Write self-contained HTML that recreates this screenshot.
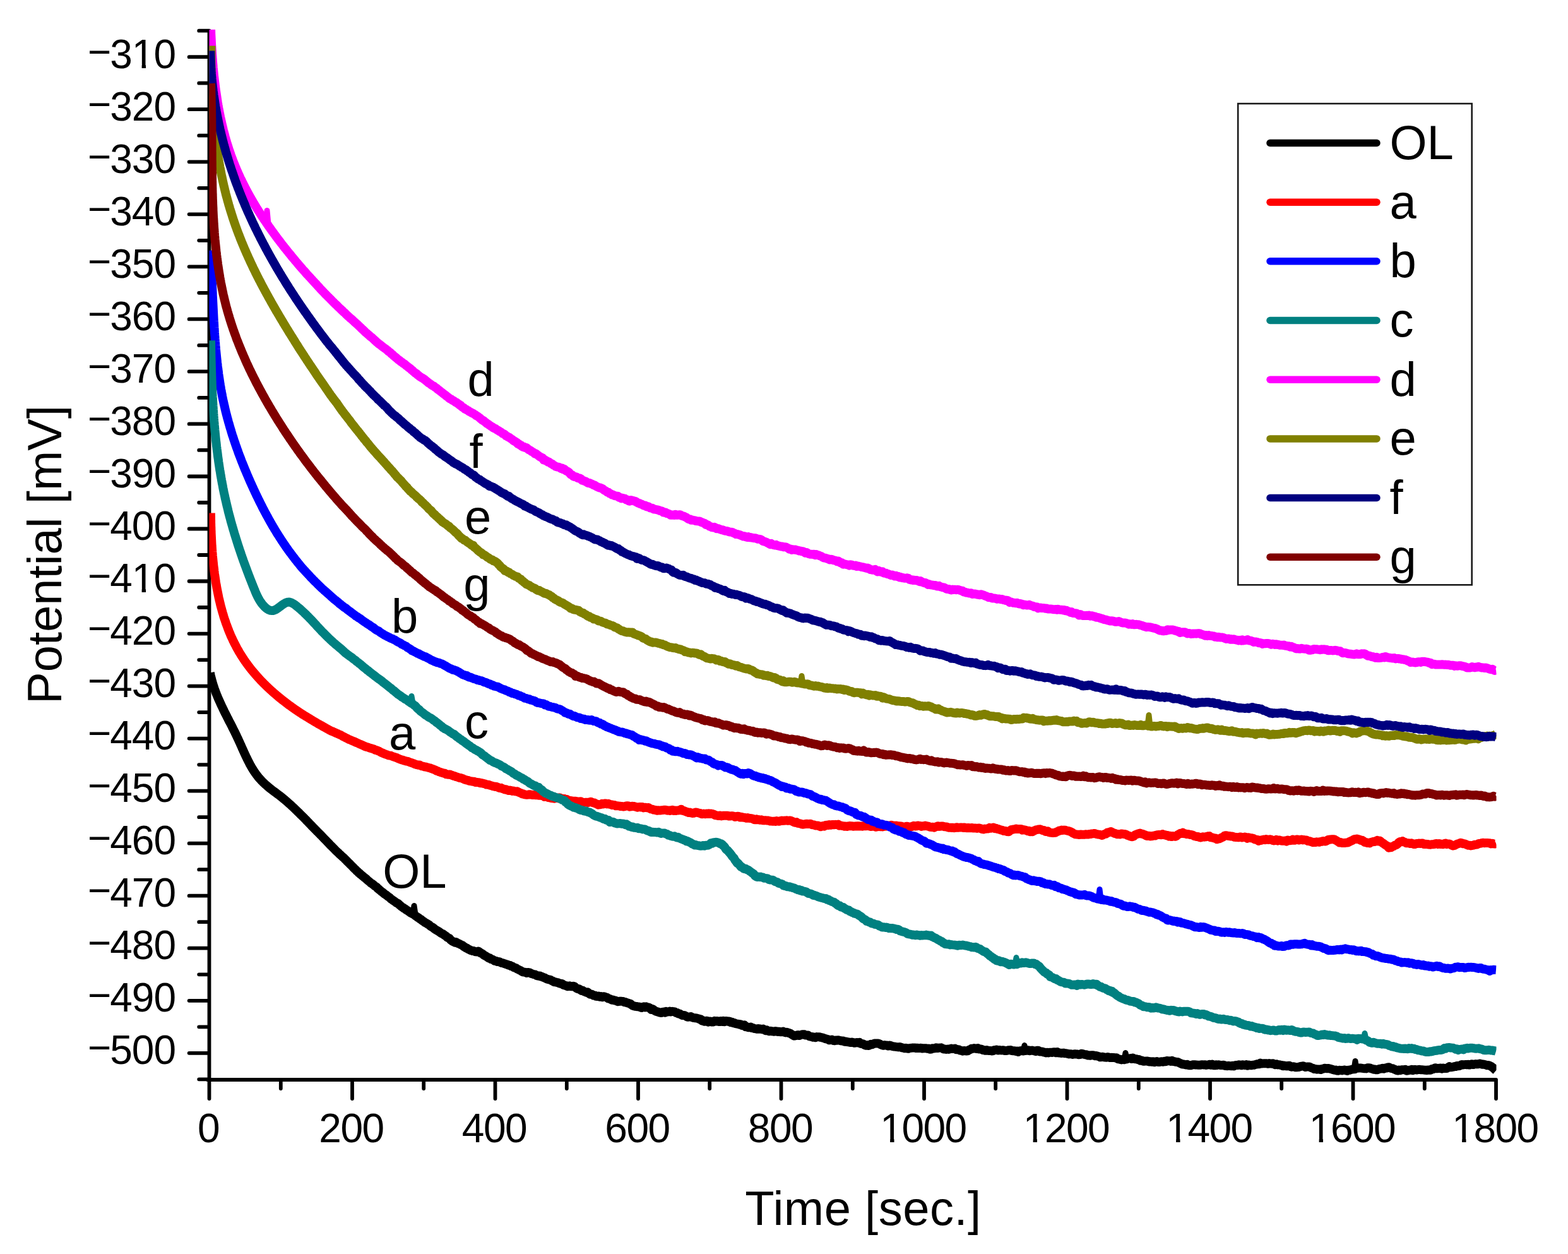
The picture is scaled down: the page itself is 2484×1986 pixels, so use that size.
<!DOCTYPE html>
<html><head><meta charset="utf-8"><title>Potential vs Time</title>
<style>html,body{margin:0;padding:0;background:#fff;width:2484px;height:1986px;overflow:hidden;position:relative}</style>
</head><body>
<svg xmlns="http://www.w3.org/2000/svg" width="2484" height="1986" viewBox="0 0 2484 1986" style="position:absolute;left:0;top:0">
<rect width="100%" height="100%" fill="#fff"/>
<defs><clipPath id="pa"><rect x="331.5" y="46.8" width="2039.0" height="1663.2"/></clipPath></defs>
<path d="M331.5 48.7 L331.5 1710.0 M328.6 1710.0 L2370.0 1710.0 M299.6 90.2 L331.5 90.2 M299.6 173.2 L331.5 173.2 M299.6 256.3 L331.5 256.3 M299.6 339.3 L331.5 339.3 M299.6 422.3 L331.5 422.3 M299.6 505.4 L331.5 505.4 M299.6 588.4 L331.5 588.4 M299.6 671.4 L331.5 671.4 M299.6 754.5 L331.5 754.5 M299.6 837.5 L331.5 837.5 M299.6 920.5 L331.5 920.5 M299.6 1003.6 L331.5 1003.6 M299.6 1086.6 L331.5 1086.6 M299.6 1169.6 L331.5 1169.6 M299.6 1252.6 L331.5 1252.6 M299.6 1335.7 L331.5 1335.7 M299.6 1418.7 L331.5 1418.7 M299.6 1501.7 L331.5 1501.7 M299.6 1584.8 L331.5 1584.8 M299.6 1667.8 L331.5 1667.8 M315.2 48.7 L331.5 48.7 M315.2 131.7 L331.5 131.7 M315.2 214.7 L331.5 214.7 M315.2 297.8 L331.5 297.8 M315.2 380.8 L331.5 380.8 M315.2 463.8 L331.5 463.8 M315.2 546.9 L331.5 546.9 M315.2 629.9 L331.5 629.9 M315.2 712.9 L331.5 712.9 M315.2 796.0 L331.5 796.0 M315.2 879.0 L331.5 879.0 M315.2 962.0 L331.5 962.0 M315.2 1045.1 L331.5 1045.1 M315.2 1128.1 L331.5 1128.1 M315.2 1211.1 L331.5 1211.1 M315.2 1294.2 L331.5 1294.2 M315.2 1377.2 L331.5 1377.2 M315.2 1460.2 L331.5 1460.2 M315.2 1543.3 L331.5 1543.3 M315.2 1626.3 L331.5 1626.3 M315.2 1709.3 L331.5 1709.3 M331.5 1710.0 L331.5 1740.0 M558.0 1710.0 L558.0 1740.0 M784.5 1710.0 L784.5 1740.0 M1011.0 1710.0 L1011.0 1740.0 M1237.5 1710.0 L1237.5 1740.0 M1464.0 1710.0 L1464.0 1740.0 M1690.5 1710.0 L1690.5 1740.0 M1917.0 1710.0 L1917.0 1740.0 M2143.5 1710.0 L2143.5 1740.0 M2370.0 1710.0 L2370.0 1740.0 M444.8 1710.0 L444.8 1724.0 M671.2 1710.0 L671.2 1724.0 M897.8 1710.0 L897.8 1724.0 M1124.2 1710.0 L1124.2 1724.0 M1350.8 1710.0 L1350.8 1724.0 M1577.2 1710.0 L1577.2 1724.0 M1803.8 1710.0 L1803.8 1724.0 M2030.2 1710.0 L2030.2 1724.0 M2256.8 1710.0 L2256.8 1724.0" fill="none" stroke="#000" stroke-width="5.8" stroke-linecap="round" stroke-linejoin="round"/>
<g clip-path="url(#pa)">
<path d="M332.8 1065.4L333.2 1067.4 333.6 1069.4 334.1 1071.4 334.6 1073.4 335.1 1075.3 335.6 1077.3 336.1 1079.2 336.7 1081.2 337.3 1083.1 337.8 1085.0 338.5 1086.9 339.1 1088.8 339.7 1090.7 340.4 1092.5 341.1 1094.4 341.8 1096.3 342.5 1098.1 343.2 1100.0 344.0 1101.8 344.7 1103.6 345.5 1105.5 346.3 1107.3 347.1 1109.1 347.9 1110.9 348.7 1112.7 349.5 1114.5 350.4 1116.3 351.2 1118.1 352.1 1119.9 352.9 1121.7 353.8 1123.5 354.7 1125.3 355.5 1127.1 356.4 1128.9 357.3 1130.6 358.2 1132.4 359.1 1134.2 360.0 1136.0 360.9 1137.7 361.8 1139.5 362.7 1141.3 363.6 1143.1 364.6 1144.9 365.5 1146.6 366.4 1148.4 367.3 1150.2 368.2 1152.0 369.1 1153.8 370.0 1155.6 370.9 1157.4 371.8 1159.2 372.7 1161.0 373.6 1162.8 374.4 1164.6 375.3 1166.5 376.2 1168.3 377.0 1170.1 377.9 1172.0 378.7 1173.8 379.6 1175.7 380.4 1177.5 381.2 1179.4 382.1 1181.2 382.9 1183.1 383.7 1185.0 384.6 1186.8 385.4 1188.7 386.2 1190.5 387.1 1192.4 387.9 1194.2 388.8 1196.1 389.6 1197.9 390.5 1199.7 391.4 1201.5 392.3 1203.3 393.2 1205.1 394.1 1206.9 395.0 1208.7 395.9 1210.5 396.9 1212.2 397.9 1214.0 398.9 1215.7 399.9 1217.4 401.0 1219.1 402.0 1220.7 403.1 1222.4 404.2 1224.0 405.4 1225.6 406.5 1227.2 407.7 1228.7 408.9 1230.3 410.2 1231.8 411.5 1233.3 412.8 1234.7 414.1 1236.2 415.5 1237.6 416.9 1239.0 418.3 1240.4 419.7 1241.7 421.2 1243.0 422.7 1244.3 424.2 1245.6 425.7 1246.9 427.2 1248.2 428.8 1249.4 430.4 1250.6 431.9 1251.8 433.5 1253.0 435.2 1254.2 436.8 1255.4 438.4 1256.6 440.0 1257.8 441.6 1259.0 443.2 1260.2 444.7 1261.4 446.3 1262.6 447.8 1263.9 449.4 1265.2 450.9 1266.4 452.4 1267.7 453.9 1269.0 455.4 1270.3 456.9 1271.7 458.4 1273.0 459.9 1274.3 461.4 1275.6 462.8 1277.0 464.3 1278.4 465.7 1279.7 467.2 1281.1 468.6 1282.5 470.0 1283.9 471.5 1285.3 472.9 1286.7 474.3 1288.0 475.7 1289.5 477.1 1290.8 478.5 1292.3 480.0 1293.6 481.4 1295.0 482.8 1296.5 484.2 1297.9 485.6 1299.4 487.0 1300.9 488.4 1302.3 489.8 1303.7 491.2 1305.2 492.6 1306.6 494.0 1308.1 495.4 1309.6 496.8 1311.0 498.2 1312.4 499.6 1313.9 501.0 1315.3 502.4 1316.7 503.8 1318.1 505.2 1319.5 506.6 1320.9 508.0 1322.4 509.4 1323.7 510.8 1325.2 512.2 1326.7 513.6 1328.2 515.0 1329.6 516.4 1331.0 517.8 1332.5 519.2 1334.0 520.6 1335.4 522.0 1336.9 523.5 1338.6 524.9 1339.8 526.3 1341.2 527.7 1342.6 529.1 1344.0 530.5 1345.5 531.9 1347.0 533.4 1348.4 534.8 1349.7 536.2 1350.9 537.6 1352.5 539.1 1353.6 540.5 1355.0 541.9 1356.2 543.3 1357.6 544.8 1358.8 546.2 1360.3 547.7 1361.7 549.1 1363.1 550.5 1364.6 552.0 1366.1 553.4 1367.4 554.9 1369.0 556.3 1370.4 557.8 1371.9 559.3 1373.4 560.7 1374.9 562.2 1376.3 563.7 1377.7 565.1 1379.3 566.6 1380.4 568.1 1382.1 569.6 1383.1 571.0 1384.6 572.5 1385.7 574.0 1387.0 575.5 1388.2 577.0 1389.5 578.5 1390.6 580.0 1391.8 581.5 1393.4 583.0 1394.6 584.6 1395.9 586.1 1397.1 587.6 1398.6 589.1 1399.3 590.7 1400.6 592.2 1401.6 593.8 1403.2 595.3 1404.1 596.9 1405.1 598.4 1407.2 600.0 1408.0 601.5 1409.6 603.1 1410.9 604.7 1412.2 606.3 1413.3 607.8 1414.6 609.4 1416.0 611.0 1416.9 612.6 1418.1 614.2 1419.4 615.8 1420.5 617.4 1421.7 619.1 1423.4 620.7 1424.5 622.3 1425.7 623.9 1426.7 625.5 1427.8 627.2 1429.2 628.8 1430.2 630.4 1430.8 632.1 1432.3 633.7 1433.8 635.4 1435.3 637.0 1436.5 638.7 1437.5 640.3 1438.8 641.9 1439.6 643.6 1441.1 645.2 1441.8 646.9 1443.0 648.6 1444.2 650.2 1445.6 651.9 1446.3 653.5 1447.2 655.2 1448.1 656.8 1449.0 658.5 1450.6 660.1 1451.6 661.8 1452.9 663.5 1453.9 665.1 1455.3 666.8 1456.0 668.4 1457.6 670.1 1458.8 671.7 1459.8 673.4 1461.1 675.0 1461.8 676.7 1462.9 678.4 1464.0 680.0 1464.8 681.7 1466.7 683.3 1467.6 685.0 1468.5 686.7 1469.6 688.3 1471.1 690.0 1472.3 691.7 1473.3 693.4 1474.3 695.0 1475.2 696.7 1476.3 698.4 1477.6 700.1 1478.7 701.8 1479.1 703.5 1480.7 705.1 1481.6 706.8 1482.8 708.5 1484.5 710.2 1485.4 712.0 1486.1 713.7 1488.4 715.4 1489.7 717.1 1491.0 718.8 1491.3 720.5 1492.6 722.3 1492.1 724.0 1493.1 725.7 1494.1 727.5 1494.7 729.2 1495.7 731.0 1496.6 732.7 1497.3 734.5 1498.9 736.2 1499.9 738.0 1501.3 739.8 1501.7 741.6 1503.1 743.3 1503.8 745.1 1505.0 746.9 1505.4 748.7 1506.0 750.5 1506.1 752.3 1506.9 754.1 1507.4 755.9 1507.6 757.7 1506.6 759.5 1507.5 761.3 1509.4 763.2 1509.8 765.0 1511.1 766.8 1512.8 768.7 1513.8 770.5 1514.7 772.3 1515.9 774.2 1517.5 776.0 1517.3 777.9 1519.1 779.7 1519.4 781.6 1520.3 783.5 1521.8 785.3 1521.7 787.2 1522.9 789.1 1523.0 790.9 1523.2 792.8 1524.1 794.7 1525.1 796.6 1525.2 798.4 1526.1 800.3 1526.6 802.2 1527.3 804.1 1527.8 806.0 1528.8 807.8 1528.8 809.7 1530.1 811.6 1530.4 813.5 1531.8 815.4 1532.7 817.3 1533.1 819.2 1534.6 821.1 1535.4 823.0 1536.4 824.9 1537.2 826.8 1538.5 828.7 1539.5 830.5 1539.5 832.4 1539.9 834.3 1541.0 836.2 1539.9 838.1 1540.1 840.0 1540.8 841.9 1542.0 843.8 1542.5 845.7 1543.2 847.6 1543.5 849.5 1544.7 851.4 1545.3 853.2 1545.7 855.1 1545.4 857.0 1546.7 858.9 1547.0 860.8 1547.9 862.7 1548.4 864.6 1549.6 866.5 1550.6 868.3 1551.1 870.2 1551.4 872.1 1552.0 874.0 1553.2 875.9 1553.9 877.8 1555.2 879.7 1555.3 881.6 1555.8 883.5 1556.1 885.3 1557.0 887.2 1557.7 889.1 1557.8 891.0 1558.3 892.9 1560.1 894.8 1560.6 896.7 1561.0 898.6 1562.2 900.5 1562.0 902.4 1561.3 904.3 1562.2 906.2 1562.2 908.1 1561.7 910.0 1562.2 911.9 1564.1 913.8 1565.3 915.7 1566.2 917.6 1566.3 919.5 1567.7 921.4 1569.0 923.3 1568.8 925.2 1570.2 927.1 1570.9 929.0 1571.9 930.9 1571.2 932.9 1573.1 934.8 1574.8 936.7 1574.4 938.6 1575.3 940.5 1576.6 942.4 1576.4 944.4 1577.9 946.3 1578.1 948.2 1577.6 950.1 1578.7 952.0 1578.1 954.0 1579.3 955.9 1578.3 957.8 1578.5 959.7 1579.2 961.7 1579.9 963.6 1581.6 965.5 1581.7 967.5 1582.7 969.4 1583.8 971.3 1583.6 973.3 1584.3 975.2 1584.6 977.1 1585.6 979.1 1586.2 981.0 1585.8 983.0 1585.6 984.9 1585.8 986.8 1585.9 988.8 1587.2 990.7 1587.0 992.7 1588.0 994.6 1588.5 996.5 1589.1 998.5 1589.7 1000.4 1591.3 1002.4 1592.7 1004.3 1593.2 1006.3 1593.8 1008.2 1593.9 1010.2 1594.3 1012.1 1594.4 1014.1 1595.1 1016.0 1596.0 1018.0 1594.9 1019.9 1594.2 1021.9 1595.4 1023.8 1594.4 1025.8 1595.4 1027.7 1595.5 1029.7 1596.5 1031.7 1598.9 1033.6 1598.1 1035.6 1599.3 1037.5 1600.9 1039.5 1601.8 1041.4 1602.4 1043.4 1602.9 1045.4 1603.7 1047.3 1604.0 1049.3 1602.9 1051.2 1602.6 1053.2 1603.7 1055.2 1601.9 1057.1 1602.7 1059.1 1602.4 1061.0 1601.6 1063.0 1602.5 1065.0 1601.8 1066.9 1602.1 1068.9 1602.4 1070.9 1604.0 1072.8 1604.1 1074.8 1605.5 1076.7 1605.4 1078.7 1606.8 1080.7 1607.9 1082.6 1607.9 1084.6 1608.2 1086.6 1609.2 1088.5 1610.5 1090.5 1610.7 1092.5 1610.4 1094.4 1610.0 1096.4 1611.2 1098.4 1611.9 1100.3 1612.2 1102.3 1612.3 1104.3 1612.7 1106.3 1613.2 1108.2 1614.1 1110.2 1614.3 1112.2 1616.6 1114.1 1616.2 1116.1 1617.8 1118.1 1617.1 1120.0 1616.7 1122.0 1618.5 1124.0 1617.4 1126.0 1617.7 1127.9 1618.6 1129.9 1618.5 1131.9 1616.8 1133.8 1617.6 1135.8 1616.9 1137.8 1617.6 1139.8 1618.1 1141.7 1617.0 1143.7 1617.9 1145.7 1616.8 1147.6 1618.2 1149.6 1616.9 1151.6 1617.2 1153.6 1617.8 1155.5 1617.4 1157.5 1619.2 1159.5 1618.7 1161.5 1620.2 1163.4 1620.0 1165.4 1621.2 1167.4 1621.5 1169.4 1621.7 1171.3 1622.5 1173.3 1622.2 1175.3 1623.9 1177.3 1624.0 1179.2 1623.3 1181.2 1626.2 1183.2 1626.1 1185.2 1627.2 1187.1 1627.0 1189.1 1626.6 1191.1 1628.0 1193.1 1628.1 1195.0 1629.1 1197.0 1629.2 1199.0 1629.7 1201.0 1628.9 1202.9 1629.7 1204.9 1629.5 1206.9 1630.2 1208.9 1629.6 1210.8 1630.7 1212.8 1632.2 1214.8 1631.4 1216.8 1632.6 1218.7 1633.2 1220.7 1632.7 1222.7 1633.3 1224.7 1633.4 1226.7 1633.8 1228.6 1633.1 1230.6 1633.4 1232.6 1634.1 1234.6 1633.7 1236.5 1634.3 1238.5 1634.2 1240.5 1633.5 1242.5 1634.7 1244.5 1635.4 1246.4 1634.8 1248.4 1635.6 1250.4 1636.1 1252.4 1637.0 1254.3 1638.3 1256.3 1639.5 1258.3 1640.6 1260.3 1640.2 1262.3 1639.4 1264.2 1639.1 1266.2 1640.0 1268.2 1639.2 1270.2 1638.5 1272.2 1638.2 1274.2 1638.3 1276.1 1639.5 1278.1 1639.4 1280.1 1639.5 1282.1 1641.2 1284.1 1641.7 1286.0 1642.0 1288.0 1642.8 1290.0 1642.4 1292.0 1643.2 1294.0 1642.1 1295.9 1642.3 1297.9 1642.2 1299.9 1642.9 1301.9 1643.2 1303.9 1643.8 1305.9 1644.4 1307.8 1645.2 1309.8 1645.6 1311.8 1646.2 1313.8 1647.3 1315.8 1646.9 1317.8 1646.6 1319.8 1647.8 1321.7 1648.2 1323.7 1647.4 1325.7 1647.7 1327.7 1647.2 1329.7 1647.8 1331.7 1648.3 1333.6 1648.5 1335.6 1648.4 1337.6 1649.7 1339.6 1649.4 1341.6 1650.1 1343.6 1650.2 1345.6 1650.7 1347.5 1651.0 1349.5 1650.6 1351.5 1651.1 1353.5 1651.7 1355.5 1651.5 1357.5 1651.0 1359.5 1651.6 1361.5 1650.8 1363.4 1652.8 1365.4 1653.1 1367.4 1653.2 1369.4 1654.8 1371.4 1655.7 1373.4 1655.1 1375.4 1656.1 1377.4 1655.5 1379.4 1653.8 1381.3 1654.3 1383.3 1653.4 1385.3 1652.6 1387.3 1652.5 1389.3 1652.5 1391.3 1652.4 1393.3 1653.2 1395.3 1654.3 1397.3 1655.2 1399.3 1655.7 1401.3 1655.1 1403.2 1655.5 1405.2 1655.4 1407.2 1656.5 1409.2 1655.6 1411.2 1656.1 1413.2 1656.8 1415.2 1657.5 1417.2 1657.5 1419.2 1657.9 1421.2 1658.1 1423.2 1658.4 1425.2 1658.1 1427.2 1658.6 1429.2 1659.3 1431.1 1659.6 1433.1 1660.2 1435.1 1659.7 1437.1 1660.5 1439.1 1660.7 1441.1 1659.9 1443.1 1659.8 1445.1 1659.6 1447.1 1659.6 1449.1 1659.4 1451.1 1660.0 1453.1 1659.7 1455.1 1660.1 1457.1 1660.1 1459.1 1659.7 1461.1 1660.5 1463.1 1660.3 1465.1 1660.2 1467.1 1660.2 1469.1 1660.8 1471.1 1660.6 1473.1 1661.8 1475.1 1661.5 1477.0 1660.3 1479.0 1660.4 1481.0 1660.3 1483.0 1659.3 1485.0 1660.1 1487.0 1659.7 1489.0 1659.6 1491.0 1659.3 1493.0 1660.4 1495.0 1661.5 1497.0 1661.6 1499.0 1662.0 1501.0 1661.6 1503.0 1661.9 1505.0 1661.3 1507.0 1660.6 1509.0 1661.0 1511.0 1660.9 1513.0 1660.6 1515.0 1662.2 1517.0 1662.0 1519.0 1662.4 1521.0 1663.5 1523.0 1663.8 1525.0 1664.7 1527.0 1664.0 1529.0 1664.2 1531.0 1664.5 1533.0 1664.3 1535.0 1662.8 1537.0 1662.1 1539.0 1660.8 1541.0 1660.7 1543.0 1660.1 1545.0 1660.4 1547.0 1660.9 1549.0 1660.0 1551.0 1661.4 1553.0 1661.3 1555.0 1661.8 1557.0 1663.0 1559.0 1663.1 1561.0 1663.8 1563.0 1663.0 1565.0 1663.9 1567.0 1664.1 1569.0 1664.0 1571.0 1664.4 1573.0 1664.3 1575.0 1663.1 1577.0 1662.8 1579.0 1662.5 1581.0 1663.5 1583.0 1662.9 1585.0 1663.3 1587.0 1663.4 1589.0 1663.2 1591.0 1663.9 1593.0 1663.9 1595.0 1664.0 1597.0 1663.3 1599.0 1663.2 1601.0 1663.0 1603.0 1664.1 1605.0 1664.3 1607.0 1664.2 1609.0 1664.9 1611.0 1664.6 1613.0 1665.9 1615.0 1664.5 1617.0 1664.3 1619.0 1663.9 1621.0 1664.5 1623.0 1663.7 1625.0 1664.0 1627.0 1663.6 1629.0 1663.3 1631.0 1664.3 1633.0 1663.8 1635.0 1663.6 1637.0 1664.0 1639.0 1664.5 1641.0 1665.1 1643.0 1663.8 1645.0 1663.7 1647.0 1665.5 1649.0 1665.5 1651.0 1665.5 1653.0 1666.3 1655.0 1666.7 1657.0 1667.4 1659.0 1666.7 1661.0 1667.4 1663.0 1666.7 1665.0 1666.7 1667.0 1667.0 1669.0 1666.3 1671.0 1666.2 1673.0 1667.3 1675.0 1666.2 1677.0 1667.5 1679.0 1667.6 1681.0 1668.0 1683.0 1667.8 1685.0 1667.6 1687.0 1668.3 1689.0 1668.3 1691.0 1668.8 1693.0 1669.4 1695.0 1669.3 1697.0 1669.3 1699.0 1670.0 1701.0 1669.5 1703.0 1669.3 1705.0 1669.5 1707.0 1669.6 1709.0 1670.3 1711.0 1670.1 1713.0 1668.8 1715.0 1668.9 1717.0 1669.7 1719.0 1670.2 1720.9 1670.2 1722.9 1671.5 1724.9 1671.3 1726.9 1671.8 1728.9 1671.2 1730.9 1671.2 1732.9 1671.4 1734.9 1672.2 1736.9 1672.0 1738.9 1672.7 1740.9 1673.2 1742.9 1674.3 1744.9 1674.0 1746.9 1673.8 1748.9 1674.3 1750.9 1674.6 1752.9 1674.7 1754.9 1674.0 1756.9 1674.7 1758.9 1675.1 1760.9 1674.8 1762.8 1674.9 1764.8 1675.0 1766.8 1675.4 1768.8 1675.3 1770.8 1677.2 1772.8 1677.3 1774.8 1678.0 1776.8 1678.4 1778.8 1677.8 1780.8 1678.3 1782.8 1677.5 1784.8 1677.6 1786.8 1676.6 1788.8 1676.4 1790.8 1676.1 1792.8 1676.9 1794.7 1675.6 1796.7 1676.7 1798.7 1677.3 1800.7 1677.3 1802.7 1678.2 1804.7 1678.1 1806.7 1679.7 1808.7 1679.4 1810.7 1680.7 1812.7 1680.7 1814.7 1680.6 1816.7 1680.4 1818.7 1680.9 1820.7 1681.4 1822.7 1681.3 1824.7 1681.8 1826.7 1681.2 1828.6 1682.3 1830.6 1681.4 1832.6 1681.1 1834.6 1682.1 1836.6 1682.1 1838.6 1681.5 1840.6 1681.3 1842.6 1681.8 1844.6 1680.8 1846.6 1681.3 1848.6 1680.0 1850.6 1680.3 1852.6 1680.3 1854.6 1680.9 1856.6 1679.8 1858.6 1681.0 1860.6 1681.2 1862.6 1681.8 1864.6 1681.9 1866.6 1682.4 1868.5 1683.4 1870.5 1684.2 1872.5 1685.5 1874.5 1685.4 1876.5 1685.8 1878.5 1686.5 1880.5 1685.7 1882.5 1687.0 1884.5 1687.2 1886.5 1687.2 1888.5 1686.6 1890.5 1686.2 1892.5 1686.2 1894.5 1686.6 1896.5 1686.6 1898.5 1686.8 1900.5 1686.8 1902.5 1686.5 1904.5 1686.2 1906.5 1686.4 1908.5 1686.3 1910.5 1686.9 1912.5 1686.6 1914.5 1686.4 1916.5 1685.7 1918.5 1686.8 1920.5 1685.7 1922.5 1687.2 1924.5 1687.3 1926.5 1686.2 1928.5 1686.9 1930.5 1686.3 1932.5 1686.8 1934.5 1687.1 1936.5 1687.0 1938.5 1686.7 1940.5 1687.8 1942.5 1688.1 1944.5 1688.2 1946.5 1687.8 1948.5 1688.1 1950.5 1688.3 1952.5 1687.8 1954.5 1688.5 1956.5 1687.3 1958.5 1686.9 1960.5 1687.0 1962.5 1686.2 1964.5 1686.8 1966.5 1687.3 1968.5 1686.2 1970.5 1686.8 1972.5 1687.1 1974.5 1686.1 1976.5 1687.7 1978.5 1686.6 1980.5 1687.0 1982.5 1687.3 1984.5 1686.8 1986.5 1686.8 1988.5 1686.0 1990.5 1685.6 1992.5 1684.9 1994.5 1685.3 1996.5 1683.6 1998.5 1684.6 2000.5 1684.4 2002.5 1684.2 2004.5 1684.2 2006.5 1684.3 2008.5 1684.8 2010.5 1684.1 2012.5 1684.4 2014.5 1684.7 2016.5 1684.2 2018.5 1685.4 2020.5 1686.3 2022.5 1685.3 2024.5 1686.4 2026.5 1686.2 2028.5 1686.9 2030.5 1686.9 2032.5 1688.3 2034.5 1687.4 2036.5 1688.2 2038.4 1688.4 2040.4 1687.9 2042.4 1687.7 2044.4 1689.2 2046.4 1689.7 2048.4 1689.3 2050.4 1689.5 2052.4 1690.3 2054.4 1690.2 2056.4 1690.1 2058.4 1689.6 2060.3 1689.0 2062.3 1688.7 2064.3 1688.2 2066.3 1689.1 2068.3 1690.0 2070.3 1689.5 2072.3 1689.6 2074.3 1689.4 2076.3 1690.4 2078.3 1691.4 2080.3 1692.0 2082.2 1693.1 2084.2 1693.0 2086.2 1693.7 2088.2 1693.4 2090.2 1693.4 2092.2 1694.0 2094.2 1692.9 2096.2 1692.7 2098.2 1691.8 2100.2 1692.0 2102.2 1692.2 2104.2 1692.0 2106.2 1692.3 2108.2 1693.0 2110.2 1693.5 2112.2 1694.3 2114.2 1694.8 2116.2 1694.6 2118.2 1695.5 2120.2 1695.7 2122.2 1694.8 2124.2 1695.1 2126.2 1695.4 2128.2 1694.8 2130.2 1694.5 2132.2 1695.3 2134.2 1696.0 2136.2 1694.7 2138.2 1694.8 2140.2 1694.0 2142.2 1693.6 2144.2 1693.3 2146.2 1693.3 2148.2 1692.0 2150.2 1691.8 2152.2 1691.6 2154.2 1691.6 2156.2 1691.5 2158.2 1691.9 2160.2 1692.2 2162.2 1692.2 2164.2 1692.4 2166.2 1691.3 2168.2 1691.3 2170.2 1691.5 2172.2 1692.4 2174.2 1692.8 2176.2 1693.8 2178.2 1693.4 2180.2 1694.3 2182.2 1694.2 2184.2 1693.3 2186.2 1692.7 2188.2 1692.6 2190.3 1691.7 2192.3 1692.6 2194.3 1691.5 2196.3 1691.5 2198.3 1690.4 2200.3 1690.2 2202.3 1691.5 2204.3 1692.0 2206.3 1692.2 2208.3 1693.2 2210.3 1694.0 2212.3 1695.0 2214.3 1695.6 2216.3 1694.5 2218.3 1695.2 2220.3 1694.3 2222.3 1694.3 2224.3 1694.3 2226.3 1693.8 2228.3 1695.7 2230.3 1695.6 2232.3 1694.8 2234.3 1694.7 2236.3 1693.8 2238.3 1695.1 2240.3 1694.0 2242.3 1693.9 2244.3 1694.5 2246.3 1694.2 2248.3 1693.8 2250.3 1694.2 2252.3 1694.2 2254.3 1694.4 2256.3 1694.7 2258.3 1694.7 2260.3 1695.1 2262.3 1694.5 2264.3 1694.8 2266.3 1694.8 2268.3 1693.0 2270.2 1693.3 2272.2 1691.9 2274.2 1691.2 2276.2 1692.3 2278.2 1692.0 2280.2 1691.8 2282.2 1691.5 2284.2 1692.6 2286.2 1691.5 2288.2 1692.1 2290.2 1692.0 2292.2 1692.0 2294.2 1690.3 2296.1 1689.1 2298.1 1690.2 2300.1 1690.0 2302.1 1689.7 2304.1 1688.9 2306.1 1689.0 2308.1 1687.9 2310.1 1688.3 2312.0 1688.1 2314.0 1686.9 2316.0 1686.0 2318.0 1686.4 2320.0 1686.1 2322.0 1685.9 2324.0 1686.3 2326.0 1685.7 2327.9 1686.6 2329.9 1685.9 2331.9 1685.2 2333.9 1686.1 2335.9 1685.4 2337.9 1685.1 2339.9 1685.4 2341.9 1685.2 2343.9 1684.5 2345.9 1684.8 2347.9 1685.8 2349.9 1685.5 2351.9 1686.0 2353.9 1686.5 2355.9 1687.3 2357.9 1686.9 2359.9 1687.7 2361.9 1688.7 2363.9 1690.2 2366.0 1691.6 2368.0 1693.7 2370.0 1695.4" fill="none" stroke="#000000" stroke-width="14.0" stroke-linejoin="round" stroke-linecap="butt"/>
<path d="M654.0 1448.1 L656.0 1434.5 L658.0 1448.1" fill="none" stroke="#000000" stroke-width="9" stroke-linejoin="round" stroke-linecap="round"/>
<path d="M1621.0 1663.7 L1623.0 1655.5 L1625.0 1663.7" fill="none" stroke="#000000" stroke-width="9" stroke-linejoin="round" stroke-linecap="round"/>
<path d="M1781.0 1677.5 L1783.0 1667.5 L1785.0 1677.5" fill="none" stroke="#000000" stroke-width="9" stroke-linejoin="round" stroke-linecap="round"/>
<path d="M2145.0 1693.3 L2147.0 1680.5 L2149.0 1693.3" fill="none" stroke="#000000" stroke-width="9" stroke-linejoin="round" stroke-linecap="round"/>
<path d="M333.9 812.5L333.9 814.4 333.9 816.4 334.0 818.3 334.0 820.3 334.0 822.2 334.1 824.2 334.1 826.1 334.1 828.1 334.2 830.1 334.2 832.0 334.3 834.0 334.4 836.0 334.4 838.0 334.5 840.0 334.6 841.9 334.6 843.9 334.7 845.9 334.8 847.9 334.9 849.9 335.0 851.9 335.1 853.9 335.2 855.9 335.3 857.9 335.4 860.0 335.5 862.0 335.6 864.0 335.8 866.0 335.9 868.0 336.0 870.0 336.2 872.1 336.3 874.1 336.5 876.1 336.7 878.1 336.8 880.2 337.0 882.2 337.2 884.2 337.4 886.2 337.6 888.3 337.8 890.3 338.0 892.3 338.2 894.3 338.4 896.4 338.7 898.4 338.9 900.4 339.2 902.4 339.4 904.5 339.7 906.5 339.9 908.5 340.2 910.5 340.5 912.6 340.8 914.6 341.1 916.6 341.4 918.6 341.7 920.6 342.0 922.6 342.4 924.7 342.7 926.7 343.1 928.7 343.4 930.7 343.8 932.7 344.2 934.7 344.6 936.7 345.0 938.7 345.4 940.7 345.8 942.7 346.2 944.6 346.6 946.6 347.1 948.6 347.5 950.6 348.0 952.5 348.5 954.5 348.9 956.5 349.4 958.4 349.9 960.4 350.4 962.3 351.0 964.3 351.5 966.2 352.1 968.2 352.6 970.1 353.2 972.0 353.8 974.0 354.3 975.9 354.9 977.8 355.5 979.7 356.2 981.6 356.8 983.5 357.5 985.4 358.1 987.3 358.8 989.2 359.5 991.0 360.2 992.9 360.9 994.8 361.6 996.6 362.3 998.5 363.0 1000.3 363.8 1002.1 364.6 1004.0 365.3 1005.8 366.1 1007.6 366.9 1009.4 367.8 1011.2 368.6 1013.0 369.4 1014.8 370.3 1016.5 371.2 1018.3 372.1 1020.1 373.0 1021.8 373.9 1023.5 374.8 1025.3 375.7 1027.0 376.7 1028.7 377.7 1030.4 378.6 1032.1 379.6 1033.8 380.7 1035.5 381.7 1037.2 382.7 1038.8 383.8 1040.5 384.9 1042.1 385.9 1043.8 387.0 1045.4 388.1 1047.0 389.3 1048.6 390.4 1050.2 391.6 1051.8 392.7 1053.4 393.9 1054.9 395.1 1056.5 396.3 1058.1 397.5 1059.6 398.7 1061.1 400.0 1062.7 401.2 1064.2 402.5 1065.7 403.8 1067.2 405.1 1068.7 406.4 1070.2 407.7 1071.6 409.0 1073.1 410.3 1074.5 411.7 1076.0 413.0 1077.4 414.4 1078.9 415.8 1080.3 417.2 1081.7 418.6 1083.1 420.0 1084.5 421.4 1085.9 422.8 1087.3 424.3 1088.6 425.7 1090.0 427.2 1091.4 428.6 1092.7 430.1 1094.0 431.6 1095.4 433.1 1096.7 434.6 1098.0 436.1 1099.3 437.6 1100.6 439.2 1101.9 440.7 1103.2 442.3 1104.5 443.8 1105.7 445.4 1107.0 446.9 1108.2 448.5 1109.5 450.1 1110.7 451.7 1111.9 453.3 1113.2 454.9 1114.4 456.5 1115.6 458.1 1116.8 459.8 1117.9 461.4 1119.1 463.0 1120.3 464.7 1121.5 466.3 1122.7 468.0 1123.8 469.7 1124.9 471.3 1126.0 473.0 1127.2 474.7 1128.3 476.4 1129.4 478.1 1130.6 479.8 1131.6 481.5 1132.7 483.2 1133.7 484.9 1134.8 486.6 1135.8 488.3 1136.8 490.1 1137.8 491.8 1139.0 493.5 1140.0 495.2 1141.0 497.0 1142.1 498.7 1143.2 500.5 1144.2 502.2 1145.1 504.0 1146.4 505.7 1147.2 507.5 1148.2 509.3 1149.1 511.0 1150.1 512.8 1151.2 514.6 1152.1 516.3 1153.2 518.1 1154.1 519.9 1155.1 521.7 1156.1 523.4 1157.0 525.2 1157.9 527.0 1158.5 528.8 1159.3 530.6 1160.2 532.4 1161.0 534.2 1161.7 536.0 1162.5 537.8 1163.5 539.6 1164.0 541.4 1165.0 543.2 1166.2 545.0 1166.9 546.9 1168.1 548.7 1168.9 550.5 1169.8 552.3 1170.9 554.1 1171.6 556.0 1172.3 557.8 1173.1 559.6 1173.9 561.4 1174.5 563.3 1175.5 565.1 1176.3 567.0 1177.0 568.8 1178.0 570.6 1178.7 572.5 1179.4 574.3 1180.3 576.2 1181.2 578.0 1182.0 579.9 1182.8 581.7 1183.1 583.6 1183.8 585.4 1184.5 587.3 1185.0 589.2 1185.6 591.0 1186.0 592.9 1186.8 594.7 1187.8 596.6 1188.2 598.5 1189.0 600.4 1189.6 602.2 1190.7 604.1 1191.9 606.0 1192.5 607.8 1193.3 609.7 1194.2 611.6 1194.8 613.5 1195.4 615.4 1196.4 617.2 1196.6 619.1 1196.8 621.0 1197.6 622.9 1198.4 624.8 1198.8 626.7 1199.7 628.6 1200.1 630.5 1201.2 632.4 1201.9 634.3 1202.7 636.1 1203.3 638.0 1203.7 639.9 1204.5 641.8 1205.0 643.7 1205.6 645.6 1205.7 647.5 1206.5 649.4 1207.2 651.3 1207.9 653.3 1208.5 655.2 1209.2 657.1 1210.1 659.0 1210.8 660.9 1211.2 662.8 1211.7 664.7 1211.5 666.6 1212.7 668.5 1213.4 670.4 1213.6 672.3 1214.5 674.3 1214.5 676.2 1215.1 678.1 1215.5 680.0 1216.2 681.9 1216.5 683.8 1217.4 685.7 1218.0 687.7 1218.8 689.6 1219.4 691.5 1220.8 693.4 1221.1 695.3 1222.2 697.3 1222.7 699.2 1223.5 701.1 1224.0 703.0 1224.6 704.9 1224.8 706.9 1226.3 708.8 1226.4 710.7 1226.8 712.6 1226.5 714.6 1227.4 716.5 1228.0 718.4 1228.8 720.3 1229.2 722.3 1230.1 724.2 1230.5 726.1 1231.2 728.0 1231.9 730.0 1232.0 731.9 1232.7 733.8 1233.4 735.8 1234.6 737.7 1235.0 739.6 1235.6 741.6 1235.9 743.5 1236.8 745.4 1237.1 747.4 1237.5 749.3 1237.7 751.2 1237.7 753.2 1238.9 755.1 1238.8 757.0 1239.2 759.0 1239.2 760.9 1240.2 762.9 1240.0 764.8 1240.7 766.7 1241.1 768.7 1241.5 770.6 1242.6 772.6 1242.7 774.5 1243.0 776.4 1243.8 778.4 1244.3 780.3 1245.0 782.3 1245.3 784.2 1246.0 786.2 1245.8 788.1 1246.5 790.1 1247.5 792.0 1248.1 794.0 1247.8 795.9 1249.0 797.9 1249.5 799.8 1250.5 801.8 1250.3 803.7 1251.4 805.7 1252.0 807.6 1251.6 809.6 1252.1 811.5 1252.9 813.5 1252.6 815.4 1253.3 817.4 1253.4 819.3 1253.3 821.3 1254.5 823.3 1255.4 825.2 1255.9 827.2 1257.4 829.1 1257.3 831.1 1258.4 833.1 1258.7 835.0 1258.7 837.0 1258.5 838.9 1258.2 840.9 1258.5 842.9 1258.9 844.8 1258.8 846.8 1259.1 848.8 1259.2 850.7 1259.2 852.7 1259.5 854.7 1259.8 856.6 1259.0 858.6 1260.1 860.6 1259.8 862.5 1262.0 864.5 1261.3 866.5 1262.1 868.5 1263.1 870.4 1263.3 872.4 1263.8 874.4 1264.2 876.4 1263.6 878.3 1264.7 880.3 1263.6 882.3 1263.8 884.3 1264.4 886.2 1263.2 888.2 1264.1 890.2 1264.5 892.2 1265.3 894.2 1265.1 896.1 1266.3 898.1 1266.0 900.1 1267.5 902.1 1268.0 904.1 1268.0 906.0 1268.5 908.0 1268.8 910.0 1268.8 912.0 1268.8 914.0 1269.7 916.0 1269.4 918.0 1269.7 919.9 1269.2 921.9 1270.3 923.9 1271.2 925.9 1270.9 927.9 1270.7 929.9 1270.8 931.9 1271.0 933.9 1270.5 935.8 1269.7 937.8 1270.6 939.8 1271.6 941.8 1271.5 943.8 1272.8 945.8 1273.6 947.8 1274.7 949.8 1274.4 951.8 1273.9 953.8 1272.7 955.7 1273.4 957.7 1272.4 959.7 1272.5 961.7 1273.5 963.7 1272.8 965.7 1273.8 967.7 1274.1 969.7 1274.9 971.7 1274.8 973.7 1275.2 975.7 1276.3 977.7 1276.2 979.6 1276.4 981.6 1276.6 983.6 1277.1 985.6 1277.0 987.6 1277.5 989.6 1277.2 991.6 1276.4 993.6 1276.2 995.6 1276.5 997.6 1277.7 999.6 1277.4 1001.5 1276.8 1003.5 1276.9 1005.5 1277.4 1007.5 1277.8 1009.5 1278.7 1011.5 1278.1 1013.5 1277.9 1015.5 1278.4 1017.5 1278.1 1019.5 1279.4 1021.4 1278.7 1023.4 1279.0 1025.4 1279.3 1027.4 1279.0 1029.4 1280.6 1031.4 1281.4 1033.4 1281.7 1035.4 1282.6 1037.4 1282.8 1039.3 1283.2 1041.3 1283.8 1043.3 1283.3 1045.3 1283.6 1047.3 1283.3 1049.3 1283.1 1051.3 1282.8 1053.3 1282.7 1055.2 1283.0 1057.2 1283.7 1059.2 1283.4 1061.2 1283.9 1063.2 1283.4 1065.2 1282.8 1067.2 1284.0 1069.2 1283.4 1071.1 1283.9 1073.1 1283.5 1075.1 1283.4 1077.1 1283.2 1079.1 1281.7 1081.1 1283.7 1083.1 1283.9 1085.0 1284.8 1087.0 1285.6 1089.0 1286.1 1091.0 1287.0 1093.0 1286.6 1095.0 1287.5 1096.9 1287.9 1098.9 1287.8 1100.9 1286.9 1102.9 1286.4 1104.9 1287.0 1106.9 1287.5 1108.9 1287.9 1110.8 1289.0 1112.8 1289.2 1114.8 1288.5 1116.8 1289.2 1118.8 1288.6 1120.8 1289.0 1122.8 1288.2 1124.8 1289.1 1126.7 1288.5 1128.7 1289.2 1130.7 1289.6 1132.7 1291.0 1134.7 1291.3 1136.7 1291.8 1138.7 1292.1 1140.7 1291.4 1142.6 1292.4 1144.6 1292.0 1146.6 1291.7 1148.6 1291.7 1150.6 1291.8 1152.6 1291.8 1154.6 1292.6 1156.6 1292.4 1158.6 1292.3 1160.5 1292.2 1162.5 1292.7 1164.5 1293.8 1166.5 1293.4 1168.5 1292.7 1170.5 1292.9 1172.5 1294.5 1174.5 1293.7 1176.5 1294.6 1178.4 1294.8 1180.4 1295.0 1182.4 1295.8 1184.4 1295.1 1186.4 1295.8 1188.4 1295.9 1190.4 1296.1 1192.4 1296.7 1194.4 1298.0 1196.4 1298.2 1198.4 1297.4 1200.3 1298.3 1202.3 1298.1 1204.3 1298.8 1206.3 1298.3 1208.3 1299.2 1210.3 1299.4 1212.3 1299.2 1214.3 1299.4 1216.3 1299.5 1218.3 1299.8 1220.2 1300.6 1222.2 1300.6 1224.2 1300.8 1226.2 1300.6 1228.2 1300.9 1230.2 1300.1 1232.2 1300.5 1234.2 1300.8 1236.2 1300.2 1238.2 1299.5 1240.1 1299.9 1242.1 1299.7 1244.1 1299.6 1246.1 1299.3 1248.1 1299.8 1250.1 1299.6 1252.1 1299.5 1254.1 1300.3 1256.1 1301.2 1258.1 1302.2 1260.0 1302.8 1262.0 1302.1 1264.0 1303.9 1266.0 1304.2 1268.0 1304.5 1270.0 1305.3 1272.0 1305.7 1274.0 1305.3 1276.0 1305.0 1278.0 1304.7 1279.9 1305.0 1281.9 1305.0 1283.9 1304.7 1285.9 1306.0 1287.9 1306.3 1289.9 1306.5 1291.9 1307.5 1293.9 1307.6 1295.9 1307.5 1297.9 1308.5 1299.9 1309.3 1301.9 1308.4 1303.8 1307.9 1305.8 1308.6 1307.8 1307.0 1309.8 1306.8 1311.8 1306.9 1313.8 1306.1 1315.8 1306.8 1317.8 1305.9 1319.8 1306.0 1321.8 1306.2 1323.8 1305.8 1325.8 1306.2 1327.8 1305.5 1329.8 1307.7 1331.8 1307.4 1333.8 1307.8 1335.8 1308.1 1337.8 1308.7 1339.8 1308.5 1341.8 1308.9 1343.8 1308.4 1345.8 1308.0 1347.8 1308.2 1349.8 1308.2 1351.8 1308.7 1353.8 1308.6 1355.8 1308.3 1357.8 1308.6 1359.8 1308.2 1361.8 1308.5 1363.8 1308.4 1365.8 1308.7 1367.8 1308.1 1369.8 1308.3 1371.8 1308.2 1373.8 1307.7 1375.8 1308.2 1377.8 1308.4 1379.8 1309.1 1381.8 1308.5 1383.8 1308.7 1385.8 1308.9 1387.8 1309.8 1389.8 1309.3 1391.8 1308.9 1393.8 1309.2 1395.8 1309.2 1397.8 1309.4 1399.8 1308.9 1401.8 1307.9 1403.8 1308.6 1405.8 1307.4 1407.8 1307.7 1409.8 1307.7 1411.8 1306.7 1413.8 1307.4 1415.8 1307.5 1417.8 1308.6 1419.8 1307.5 1421.8 1308.4 1423.8 1308.2 1425.8 1308.6 1427.8 1308.4 1429.8 1309.5 1431.8 1309.8 1433.8 1310.0 1435.8 1308.8 1437.8 1308.8 1439.8 1309.5 1441.8 1309.8 1443.8 1309.3 1445.8 1308.4 1447.8 1307.8 1449.8 1308.5 1451.8 1308.3 1453.8 1307.4 1455.8 1307.8 1457.8 1307.9 1459.8 1308.9 1461.8 1308.2 1463.8 1308.3 1465.8 1307.5 1467.8 1308.2 1469.8 1308.4 1471.8 1309.1 1473.8 1309.8 1475.8 1310.0 1477.8 1309.8 1479.8 1310.7 1481.8 1309.5 1483.8 1309.1 1485.8 1308.2 1487.8 1308.9 1489.8 1308.7 1491.8 1308.4 1493.8 1308.5 1495.8 1309.2 1497.8 1309.4 1499.8 1309.4 1501.8 1310.4 1503.8 1310.8 1505.8 1310.7 1507.8 1311.0 1509.8 1310.7 1511.8 1311.2 1513.8 1310.8 1515.8 1310.2 1517.8 1310.8 1519.8 1310.6 1521.8 1310.4 1523.8 1310.5 1525.8 1310.9 1527.8 1310.4 1529.8 1311.1 1531.8 1311.3 1533.8 1310.9 1535.8 1311.3 1537.8 1311.2 1539.8 1311.0 1541.8 1311.6 1543.8 1311.6 1545.8 1311.6 1547.8 1311.9 1549.8 1311.5 1551.8 1311.6 1553.8 1312.2 1555.8 1313.1 1557.8 1313.5 1559.8 1312.6 1561.8 1312.8 1563.8 1312.3 1565.8 1312.4 1567.8 1310.9 1569.8 1311.7 1571.8 1311.1 1573.8 1310.5 1575.8 1312.2 1577.8 1311.7 1579.8 1313.0 1581.8 1313.1 1583.8 1313.9 1585.8 1314.5 1587.8 1314.8 1589.8 1316.0 1591.8 1315.9 1593.8 1316.4 1595.8 1317.1 1597.8 1317.3 1599.8 1315.8 1601.8 1314.2 1603.8 1313.8 1605.8 1313.4 1607.8 1313.1 1609.8 1312.5 1611.8 1313.1 1613.8 1313.0 1615.8 1312.9 1617.8 1312.9 1619.8 1314.7 1621.8 1314.0 1623.8 1314.7 1625.8 1315.1 1627.8 1316.2 1629.9 1315.8 1631.9 1317.2 1633.9 1316.4 1635.9 1317.2 1637.9 1315.7 1639.9 1314.9 1641.9 1314.2 1643.9 1313.9 1645.9 1313.4 1647.9 1313.3 1649.9 1314.2 1651.9 1315.2 1653.9 1314.9 1655.9 1316.9 1657.9 1316.9 1659.9 1316.3 1661.9 1318.2 1663.9 1318.6 1665.9 1318.9 1667.9 1319.1 1669.9 1318.8 1671.9 1318.7 1673.9 1317.5 1675.9 1316.7 1677.9 1315.5 1679.9 1315.6 1681.9 1314.6 1683.9 1314.9 1685.9 1314.6 1687.9 1314.8 1689.9 1315.5 1691.9 1315.9 1693.9 1316.3 1695.9 1317.2 1697.9 1318.1 1699.9 1319.6 1701.9 1320.4 1703.9 1321.4 1705.9 1321.6 1707.9 1321.7 1709.9 1322.1 1711.9 1321.5 1713.9 1321.7 1715.9 1321.7 1717.9 1321.8 1719.9 1321.3 1721.9 1321.4 1723.9 1321.6 1725.9 1321.0 1727.9 1320.9 1729.9 1320.4 1731.9 1320.2 1733.9 1319.9 1735.9 1320.6 1737.9 1321.2 1739.9 1321.6 1741.9 1321.8 1743.9 1322.4 1745.9 1323.0 1747.9 1322.0 1749.9 1320.9 1751.9 1320.8 1753.9 1318.6 1755.9 1318.5 1757.9 1317.6 1759.9 1317.0 1761.9 1318.2 1763.9 1319.1 1765.9 1319.9 1767.9 1320.4 1769.9 1321.2 1771.9 1321.1 1773.9 1321.5 1775.9 1320.6 1777.9 1320.5 1779.9 1320.9 1781.9 1321.0 1783.9 1321.6 1785.9 1322.9 1787.9 1323.5 1789.9 1324.3 1791.9 1325.0 1793.9 1325.2 1795.9 1324.5 1797.9 1322.5 1799.9 1321.5 1801.9 1320.8 1803.9 1320.2 1805.9 1319.5 1807.9 1320.5 1809.9 1320.7 1811.9 1321.6 1813.9 1322.2 1815.9 1323.7 1817.9 1324.1 1819.9 1323.7 1821.9 1324.4 1823.9 1324.3 1825.9 1324.0 1827.9 1323.5 1829.9 1323.6 1831.9 1322.5 1833.9 1322.1 1835.9 1321.9 1837.9 1322.0 1839.9 1322.3 1841.9 1321.1 1843.9 1322.2 1845.9 1322.3 1847.9 1323.3 1849.9 1322.9 1851.9 1324.6 1853.9 1323.9 1855.9 1325.0 1857.9 1323.9 1859.9 1324.5 1861.9 1324.7 1863.9 1323.9 1865.9 1321.9 1867.9 1320.9 1869.9 1319.7 1871.9 1319.9 1873.9 1318.7 1875.9 1320.3 1877.9 1320.3 1879.9 1321.2 1881.9 1320.9 1883.9 1321.5 1885.9 1322.1 1887.9 1322.1 1889.9 1322.7 1891.9 1324.1 1893.9 1324.5 1895.9 1325.1 1897.9 1324.9 1899.9 1325.9 1901.9 1326.4 1903.9 1325.9 1905.9 1325.3 1907.9 1325.7 1909.9 1325.4 1911.9 1324.9 1913.9 1324.3 1915.9 1324.1 1917.9 1326.3 1919.9 1326.4 1921.9 1326.9 1923.9 1327.5 1925.9 1327.4 1927.9 1329.2 1929.9 1328.6 1931.9 1328.3 1933.9 1327.3 1935.9 1326.2 1937.9 1325.4 1939.9 1323.6 1941.9 1323.2 1943.9 1323.5 1945.9 1323.9 1947.9 1324.0 1949.9 1324.6 1951.9 1324.5 1953.9 1325.1 1955.9 1325.9 1957.9 1326.1 1959.9 1326.1 1961.9 1326.3 1963.9 1325.6 1965.9 1325.6 1967.9 1326.4 1969.9 1326.0 1971.9 1325.6 1973.9 1326.1 1975.9 1327.7 1977.9 1326.2 1979.9 1327.0 1981.9 1327.2 1983.9 1327.5 1985.9 1328.0 1987.9 1329.6 1989.9 1329.7 1991.9 1329.9 1993.9 1331.8 1995.9 1330.7 1997.9 1330.9 1999.9 1330.2 2001.9 1329.5 2003.9 1330.2 2005.9 1329.0 2007.9 1329.7 2009.9 1330.0 2011.9 1329.3 2013.9 1329.8 2015.9 1330.8 2017.9 1331.5 2019.9 1331.1 2021.9 1329.8 2023.9 1331.5 2025.9 1330.4 2027.9 1330.9 2029.9 1331.5 2031.9 1331.8 2033.9 1331.7 2035.9 1331.6 2037.9 1332.6 2039.9 1330.6 2041.9 1331.1 2043.9 1331.2 2045.9 1330.8 2047.9 1329.5 2049.9 1330.8 2051.9 1330.7 2053.9 1329.6 2055.9 1329.6 2057.9 1330.5 2059.9 1329.9 2061.9 1329.5 2063.9 1330.4 2065.9 1330.1 2067.9 1330.5 2069.9 1330.5 2071.9 1332.1 2073.9 1332.1 2075.9 1332.6 2077.9 1333.3 2079.9 1334.2 2081.9 1333.8 2083.9 1334.1 2085.9 1333.3 2087.9 1333.6 2089.9 1333.7 2091.9 1332.9 2093.9 1332.8 2095.9 1331.9 2097.9 1332.1 2099.9 1332.6 2101.9 1331.6 2103.9 1330.0 2105.9 1329.8 2107.9 1329.4 2109.9 1329.3 2111.9 1329.2 2113.9 1329.5 2115.9 1330.6 2117.9 1331.7 2119.9 1332.9 2121.9 1334.5 2123.9 1334.0 2125.9 1335.0 2127.9 1335.1 2129.9 1335.1 2131.9 1334.7 2133.9 1334.6 2135.9 1334.1 2137.9 1333.0 2139.9 1332.1 2141.9 1331.3 2143.9 1329.9 2145.9 1329.1 2147.9 1329.1 2149.9 1328.4 2151.9 1329.2 2153.9 1329.8 2155.9 1331.0 2157.9 1330.7 2159.9 1332.1 2161.9 1334.0 2163.9 1334.0 2165.9 1335.0 2167.9 1334.8 2169.9 1335.5 2171.9 1333.8 2173.9 1333.5 2175.9 1332.7 2177.9 1333.0 2179.9 1332.0 2181.9 1330.9 2183.9 1332.5 2185.9 1331.5 2187.9 1333.3 2189.9 1334.9 2191.9 1336.0 2193.9 1337.6 2195.9 1338.9 2197.9 1340.0 2199.9 1342.7 2201.9 1342.3 2203.9 1342.3 2205.9 1340.5 2207.9 1340.1 2209.9 1338.5 2211.9 1338.0 2213.9 1336.9 2215.9 1334.2 2217.9 1333.0 2219.9 1333.3 2221.9 1332.2 2223.9 1333.5 2225.9 1333.9 2227.9 1335.3 2229.9 1335.3 2231.9 1335.2 2233.9 1336.0 2235.9 1335.2 2237.9 1336.2 2239.9 1337.0 2241.9 1336.9 2243.9 1336.0 2245.9 1336.0 2247.9 1335.5 2249.9 1336.0 2251.9 1335.5 2253.9 1335.6 2255.9 1337.1 2257.9 1336.7 2259.9 1337.1 2261.9 1337.1 2263.9 1337.6 2265.9 1337.7 2267.9 1337.2 2269.9 1337.2 2271.9 1337.0 2273.9 1336.1 2275.9 1335.9 2277.9 1337.1 2279.9 1336.1 2281.9 1336.9 2283.9 1336.8 2285.9 1337.3 2287.9 1336.0 2289.9 1335.6 2291.9 1337.1 2293.9 1336.4 2295.9 1336.4 2297.9 1337.5 2299.9 1338.7 2301.9 1339.5 2303.9 1339.0 2305.9 1338.1 2307.9 1336.9 2309.9 1336.3 2311.9 1335.8 2313.9 1334.7 2315.9 1335.2 2317.9 1336.3 2319.9 1336.2 2321.9 1337.0 2323.9 1337.9 2325.9 1338.7 2327.9 1338.7 2329.9 1339.4 2331.9 1339.0 2333.9 1338.7 2335.9 1337.7 2337.9 1337.7 2339.9 1337.6 2341.9 1336.4 2343.9 1335.9 2345.9 1335.6 2347.9 1334.9 2349.9 1334.7 2352.0 1335.2 2354.0 1334.9 2356.0 1334.9 2358.0 1335.2 2360.0 1335.3 2362.0 1336.4 2364.0 1335.8 2366.0 1336.4 2368.0 1336.6 2370.0 1335.7" fill="none" stroke="#ff0000" stroke-width="14.0" stroke-linejoin="round" stroke-linecap="butt"/>
<path d="M332.8 396.6L332.9 398.6 333.1 400.6 333.2 402.6 333.4 404.6 333.5 406.5 333.6 408.5 333.8 410.5 333.9 412.5 334.0 414.5 334.2 416.5 334.3 418.5 334.4 420.5 334.5 422.5 334.6 424.5 334.7 426.5 334.9 428.5 335.0 430.5 335.1 432.5 335.2 434.5 335.3 436.5 335.4 438.5 335.5 440.5 335.6 442.5 335.7 444.5 335.8 446.5 335.9 448.5 336.0 450.5 336.1 452.5 336.2 454.5 336.3 456.5 336.4 458.5 336.5 460.5 336.6 462.5 336.7 464.5 336.7 466.5 336.8 468.5 336.9 470.5 337.0 472.5 337.1 474.5 337.2 476.6 337.3 478.6 337.4 480.6 337.5 482.6 337.6 484.6 337.7 486.6 337.8 488.6 337.9 490.6 338.0 492.6 338.1 494.6 338.2 496.6 338.3 498.6 338.4 500.6 338.5 502.6 338.6 504.6 338.7 506.6 338.8 508.6 339.0 510.6 339.1 512.6 339.2 514.6 339.3 516.6 339.4 518.6 339.6 520.7 339.7 522.7 339.8 524.7 339.9 526.7 340.1 528.7 340.2 530.7 340.4 532.7 340.5 534.7 340.6 536.7 340.8 538.7 340.9 540.6 341.1 542.6 341.3 544.6 341.4 546.6 341.6 548.6 341.8 550.6 341.9 552.6 342.1 554.6 342.3 556.6 342.5 558.6 342.7 560.6 342.9 562.6 343.1 564.6 343.3 566.6 343.5 568.6 343.7 570.5 343.9 572.5 344.1 574.5 344.4 576.5 344.6 578.5 344.8 580.5 345.1 582.4 345.3 584.4 345.6 586.4 345.8 588.4 346.1 590.4 346.3 592.3 346.6 594.3 346.9 596.3 347.2 598.3 347.5 600.2 347.8 602.2 348.1 604.2 348.4 606.2 348.7 608.1 349.0 610.1 349.4 612.1 349.7 614.0 350.0 616.0 350.4 618.0 350.8 619.9 351.1 621.9 351.5 623.8 351.9 625.8 352.2 627.7 352.6 629.7 353.0 631.7 353.4 633.6 353.9 635.6 354.3 637.5 354.7 639.5 355.2 641.4 355.6 643.3 356.1 645.3 356.5 647.2 357.0 649.2 357.4 651.1 357.9 653.0 358.4 655.0 358.9 656.9 359.4 658.8 359.9 660.8 360.4 662.7 361.0 664.6 361.5 666.6 362.0 668.5 362.6 670.4 363.1 672.3 363.7 674.3 364.2 676.2 364.8 678.1 365.4 680.0 366.0 681.9 366.5 683.8 367.1 685.7 367.7 687.7 368.3 689.6 369.0 691.5 369.6 693.4 370.2 695.3 370.8 697.2 371.5 699.1 372.1 701.0 372.8 702.9 373.4 704.8 374.1 706.7 374.7 708.5 375.4 710.4 376.1 712.3 376.8 714.2 377.4 716.1 378.1 718.0 378.8 719.9 379.5 721.7 380.3 723.6 381.0 725.5 381.7 727.4 382.4 729.2 383.1 731.1 383.9 733.0 384.6 734.8 385.4 736.7 386.1 738.6 386.9 740.4 387.6 742.3 388.4 744.1 389.2 746.0 390.0 747.8 390.7 749.7 391.5 751.5 392.3 753.4 393.1 755.2 393.9 757.1 394.7 758.9 395.5 760.8 396.3 762.6 397.1 764.4 398.0 766.3 398.8 768.1 399.6 769.9 400.5 771.8 401.3 773.6 402.1 775.4 403.0 777.2 403.8 779.1 404.7 780.9 405.5 782.7 406.4 784.5 407.3 786.3 408.2 788.1 409.0 789.9 409.9 791.7 410.8 793.5 411.7 795.3 412.6 797.1 413.5 798.9 414.4 800.7 415.3 802.5 416.2 804.3 417.1 806.1 418.1 807.8 419.0 809.6 419.9 811.4 420.9 813.2 421.8 814.9 422.8 816.7 423.8 818.4 424.7 820.2 425.7 822.0 426.7 823.7 427.6 825.4 428.6 827.2 429.6 828.9 430.6 830.7 431.6 832.4 432.6 834.1 433.7 835.8 434.7 837.6 435.7 839.3 436.8 841.0 437.8 842.7 438.8 844.4 439.9 846.1 441.0 847.8 442.0 849.4 443.1 851.1 444.2 852.8 445.3 854.5 446.4 856.2 447.5 857.8 448.6 859.5 449.7 861.1 450.8 862.8 452.0 864.4 453.1 866.1 454.2 867.7 455.4 869.3 456.5 871.0 457.7 872.6 458.9 874.2 460.1 875.8 461.3 877.4 462.5 879.0 463.7 880.6 464.9 882.2 466.1 883.7 467.3 885.3 468.5 886.8 469.8 888.4 471.0 890.0 472.3 891.6 473.6 893.2 474.8 894.7 476.1 896.3 477.4 897.8 478.7 899.3 480.0 900.8 481.3 902.2 482.7 903.7 484.0 905.2 485.3 906.6 486.7 908.0 488.0 909.5 489.4 910.9 490.8 912.5 492.1 913.9 493.5 915.4 494.9 916.8 496.3 918.3 497.7 919.6 499.1 921.1 500.6 922.5 502.0 923.8 503.4 925.4 504.9 926.7 506.3 928.2 507.8 929.6 509.2 931.0 510.7 932.4 512.2 933.6 513.7 935.1 515.1 936.3 516.6 937.5 518.1 938.9 519.6 940.2 521.1 941.5 522.7 942.9 524.2 944.4 525.7 945.7 527.2 947.1 528.8 948.5 530.3 949.7 531.9 950.8 533.4 952.2 535.0 953.3 536.5 954.7 538.1 956.3 539.7 957.3 541.3 958.7 542.8 959.8 544.4 961.1 546.0 962.3 547.6 963.1 549.2 964.5 550.8 965.8 552.4 967.0 554.0 968.2 555.7 969.3 557.3 970.7 558.9 971.8 560.5 973.0 562.2 974.3 563.8 975.7 565.4 976.4 567.1 977.7 568.7 978.7 570.4 979.6 572.0 980.9 573.7 982.2 575.3 983.4 577.0 984.6 578.6 985.6 580.3 986.7 582.0 988.0 583.6 988.9 585.3 989.9 587.0 991.1 588.7 992.5 590.3 993.4 592.0 994.4 593.7 995.9 595.4 997.2 597.1 998.2 598.8 998.9 600.5 999.9 602.2 1001.5 603.9 1002.4 605.6 1003.6 607.3 1004.5 609.0 1005.8 610.7 1006.5 612.5 1007.4 614.2 1008.4 615.9 1009.0 617.6 1010.1 619.3 1010.9 621.1 1011.4 622.8 1012.4 624.5 1013.2 626.3 1014.0 628.0 1015.3 629.8 1016.4 631.5 1017.2 633.2 1017.9 635.0 1018.9 636.7 1020.4 638.5 1021.2 640.3 1022.2 642.0 1022.9 643.8 1023.8 645.5 1025.7 647.3 1026.3 649.1 1027.6 650.8 1028.6 652.6 1030.3 654.4 1030.9 656.1 1031.9 657.9 1032.8 659.7 1033.7 661.5 1034.9 663.3 1035.1 665.0 1036.6 666.8 1037.2 668.6 1038.1 670.4 1038.9 672.2 1039.9 674.0 1040.2 675.8 1041.2 677.6 1042.3 679.4 1043.0 681.2 1044.1 683.0 1045.2 684.8 1046.1 686.6 1046.8 688.4 1047.7 690.2 1048.2 692.0 1049.2 693.8 1049.4 695.7 1049.8 697.5 1050.9 699.3 1051.1 701.1 1051.9 702.9 1053.0 704.8 1054.2 706.6 1055.0 708.4 1056.1 710.2 1057.2 712.1 1058.4 713.9 1058.9 715.7 1059.9 717.6 1060.8 719.4 1061.0 721.2 1061.7 723.1 1062.4 724.9 1063.4 726.7 1064.3 728.6 1065.5 730.4 1066.7 732.3 1067.9 734.1 1068.8 736.0 1069.2 737.8 1070.0 739.7 1070.1 741.5 1071.7 743.4 1072.5 745.2 1072.5 747.1 1073.5 748.9 1074.1 750.8 1075.1 752.6 1075.4 754.5 1075.8 756.3 1077.1 758.2 1077.0 760.1 1078.0 761.9 1078.0 763.8 1078.6 765.7 1079.7 767.5 1080.6 769.4 1080.8 771.2 1081.5 773.1 1082.6 775.0 1083.2 776.8 1083.6 778.7 1085.0 780.6 1085.0 782.5 1086.5 784.3 1086.8 786.2 1087.5 788.1 1087.5 789.9 1088.3 791.8 1089.5 793.7 1090.5 795.6 1091.2 797.4 1091.9 799.3 1092.1 801.2 1093.5 803.1 1094.1 804.9 1094.7 806.8 1096.1 808.7 1096.2 810.6 1097.9 812.5 1097.7 814.3 1098.4 816.2 1099.3 818.1 1099.6 820.0 1100.7 821.9 1101.6 823.7 1101.8 825.6 1102.9 827.5 1103.4 829.4 1104.5 831.3 1105.8 833.2 1105.8 835.0 1106.5 836.9 1107.3 838.8 1107.3 840.7 1108.5 842.6 1108.8 844.4 1109.5 846.3 1109.8 848.2 1110.9 850.1 1112.3 852.0 1113.1 853.9 1113.1 855.7 1113.7 857.6 1114.0 859.5 1114.2 861.4 1114.4 863.3 1116.5 865.2 1116.1 867.1 1117.4 868.9 1118.7 870.8 1118.6 872.7 1119.3 874.6 1119.9 876.5 1120.0 878.4 1120.7 880.2 1121.0 882.1 1122.3 884.0 1122.8 885.9 1122.9 887.8 1123.7 889.7 1124.9 891.6 1126.0 893.4 1127.0 895.3 1128.8 897.2 1129.0 899.1 1130.0 901.0 1131.0 902.9 1130.7 904.8 1132.4 906.7 1133.2 908.5 1134.3 910.4 1134.1 912.3 1135.1 914.2 1136.1 916.1 1136.5 918.0 1136.5 919.9 1138.0 921.8 1137.9 923.6 1138.8 925.5 1138.7 927.4 1140.1 929.3 1139.9 931.2 1139.9 933.1 1140.6 935.0 1140.8 936.9 1140.0 938.8 1141.2 940.6 1142.0 942.5 1142.1 944.4 1142.2 946.3 1143.9 948.2 1144.9 950.1 1144.8 952.0 1146.8 953.9 1146.8 955.8 1147.8 957.6 1149.4 959.5 1150.0 961.4 1151.4 963.3 1151.7 965.2 1152.7 967.1 1153.3 969.0 1154.1 970.9 1154.9 972.8 1155.6 974.7 1156.0 976.6 1157.3 978.4 1157.6 980.3 1158.9 982.2 1159.2 984.1 1159.4 986.0 1159.5 987.9 1160.2 989.8 1161.3 991.7 1161.3 993.6 1162.3 995.5 1162.5 997.4 1163.2 999.3 1163.7 1001.2 1163.9 1003.1 1165.8 1004.9 1166.6 1006.8 1167.7 1008.7 1169.3 1010.6 1169.6 1012.5 1171.8 1014.4 1171.0 1016.3 1172.2 1018.2 1171.9 1020.1 1172.7 1022.0 1173.8 1023.9 1173.2 1025.8 1174.7 1027.7 1175.4 1029.6 1176.1 1031.5 1176.7 1033.4 1177.4 1035.3 1177.7 1037.2 1178.0 1039.0 1178.7 1040.9 1179.0 1042.8 1179.2 1044.7 1179.4 1046.6 1180.9 1048.5 1181.0 1050.4 1182.6 1052.3 1182.3 1054.2 1182.8 1056.1 1184.8 1058.0 1184.9 1059.9 1185.6 1061.8 1187.9 1063.7 1187.6 1065.6 1189.6 1067.5 1189.2 1069.4 1190.2 1071.3 1190.3 1073.2 1189.7 1075.1 1190.8 1077.0 1191.0 1078.9 1191.6 1080.8 1192.3 1082.7 1193.3 1084.6 1193.0 1086.5 1193.6 1088.4 1195.1 1090.3 1195.0 1092.2 1195.6 1094.1 1195.2 1096.0 1196.0 1097.9 1197.0 1099.8 1197.9 1101.7 1198.8 1103.6 1200.4 1105.5 1199.1 1107.4 1199.9 1109.3 1200.8 1111.2 1201.0 1113.1 1201.7 1115.0 1201.5 1116.9 1201.6 1118.8 1203.5 1120.7 1203.5 1122.6 1203.7 1124.5 1205.2 1126.4 1206.5 1128.3 1207.1 1130.2 1209.2 1132.1 1210.0 1134.0 1210.6 1135.9 1211.1 1137.8 1212.6 1139.7 1212.1 1141.6 1212.1 1143.5 1211.9 1145.4 1212.9 1147.3 1214.3 1149.2 1215.4 1151.1 1215.1 1153.0 1215.5 1155.0 1217.1 1156.9 1217.7 1158.8 1218.8 1160.7 1218.7 1162.6 1219.9 1164.5 1219.9 1166.4 1221.3 1168.3 1222.7 1170.2 1223.8 1172.1 1225.0 1174.0 1225.8 1175.9 1224.8 1177.8 1226.2 1179.7 1224.9 1181.6 1224.9 1183.5 1225.5 1185.4 1224.0 1187.3 1224.7 1189.2 1225.6 1191.1 1226.8 1193.0 1228.1 1194.9 1229.0 1196.8 1228.8 1198.7 1230.2 1200.6 1230.3 1202.6 1231.6 1204.5 1231.3 1206.4 1232.4 1208.3 1232.0 1210.2 1233.3 1212.1 1233.0 1214.0 1234.3 1215.9 1234.2 1217.8 1235.5 1219.7 1235.8 1221.6 1236.4 1223.5 1237.6 1225.4 1238.7 1227.2 1239.3 1229.1 1240.4 1231.0 1241.7 1232.9 1242.9 1234.8 1243.8 1236.7 1244.4 1238.6 1245.9 1240.5 1245.5 1242.4 1246.7 1244.3 1246.4 1246.2 1248.5 1248.1 1247.9 1250.0 1248.6 1251.9 1249.7 1253.8 1249.6 1255.6 1249.9 1257.5 1250.1 1259.4 1251.5 1261.3 1253.2 1263.2 1253.1 1265.1 1254.4 1267.0 1254.5 1268.8 1254.4 1270.7 1254.4 1272.6 1255.3 1274.5 1256.1 1276.4 1256.1 1278.2 1256.8 1280.1 1257.6 1282.0 1257.8 1283.9 1258.1 1285.7 1259.6 1287.6 1261.0 1289.5 1261.5 1291.4 1262.4 1293.2 1263.4 1295.1 1264.5 1297.0 1265.2 1298.8 1265.9 1300.7 1265.8 1302.6 1266.9 1304.4 1267.0 1306.3 1267.5 1308.2 1267.7 1310.0 1268.9 1311.9 1270.1 1313.7 1271.4 1315.6 1272.6 1317.5 1273.4 1319.3 1274.3 1321.2 1274.3 1323.0 1275.7 1324.9 1276.2 1326.7 1276.6 1328.6 1276.6 1330.4 1277.4 1332.3 1277.8 1334.1 1278.1 1336.0 1279.3 1337.8 1279.5 1339.7 1280.4 1341.5 1282.4 1343.4 1283.3 1345.2 1284.2 1347.0 1284.3 1348.9 1285.2 1350.7 1286.2 1352.6 1286.6 1354.4 1286.8 1356.3 1289.8 1358.1 1290.4 1359.9 1291.4 1361.8 1291.7 1363.6 1292.0 1365.5 1293.0 1367.3 1293.8 1369.2 1293.8 1371.0 1295.1 1372.8 1296.5 1374.7 1297.8 1376.5 1298.2 1378.4 1298.5 1380.2 1298.7 1382.1 1300.9 1383.9 1300.8 1385.7 1301.8 1387.6 1302.2 1389.4 1302.3 1391.3 1304.6 1393.1 1304.6 1395.0 1305.4 1396.8 1305.0 1398.7 1305.8 1400.5 1306.9 1402.4 1306.7 1404.2 1307.0 1406.1 1307.5 1407.9 1308.1 1409.8 1309.8 1411.6 1310.3 1413.5 1310.5 1415.3 1313.0 1417.2 1313.8 1419.0 1314.6 1420.9 1314.0 1422.7 1315.5 1424.6 1316.8 1426.4 1316.5 1428.3 1317.4 1430.1 1318.6 1432.0 1318.6 1433.9 1320.4 1435.7 1321.5 1437.6 1321.9 1439.4 1322.9 1441.3 1322.8 1443.2 1323.3 1445.0 1323.7 1446.9 1324.0 1448.7 1324.4 1450.6 1325.1 1452.5 1326.2 1454.3 1326.9 1456.2 1328.3 1458.1 1329.4 1459.9 1330.8 1461.8 1331.5 1463.6 1331.8 1465.5 1333.3 1467.4 1335.5 1469.2 1335.8 1471.1 1335.9 1473.0 1336.7 1474.8 1337.5 1476.7 1338.1 1478.6 1339.3 1480.5 1340.5 1482.3 1341.6 1484.2 1341.7 1486.1 1342.3 1487.9 1342.8 1489.8 1343.2 1491.7 1344.0 1493.6 1343.6 1495.4 1345.3 1497.3 1345.1 1499.2 1346.0 1501.1 1345.7 1502.9 1346.5 1504.8 1347.1 1506.7 1348.0 1508.6 1347.6 1510.4 1349.4 1512.3 1349.1 1514.2 1350.8 1516.1 1352.0 1518.0 1352.6 1519.8 1353.6 1521.7 1354.6 1523.6 1355.4 1525.5 1356.2 1527.4 1357.0 1529.2 1357.3 1531.1 1358.1 1533.0 1358.1 1534.9 1358.5 1536.8 1359.3 1538.7 1359.8 1540.5 1360.9 1542.4 1361.4 1544.3 1363.1 1546.2 1363.3 1548.1 1364.7 1550.0 1364.1 1551.9 1366.2 1553.8 1367.5 1555.7 1368.1 1557.5 1368.4 1559.4 1369.1 1561.3 1369.4 1563.2 1369.7 1565.1 1370.2 1567.0 1371.0 1568.9 1371.4 1570.8 1372.2 1572.7 1372.8 1574.6 1373.6 1576.5 1373.7 1578.4 1374.8 1580.3 1375.0 1582.2 1376.1 1584.1 1376.1 1586.0 1377.0 1587.8 1377.6 1589.7 1378.0 1591.6 1379.7 1593.5 1380.3 1595.4 1381.0 1597.3 1382.5 1599.2 1382.8 1601.1 1383.8 1603.0 1385.0 1604.9 1386.2 1606.9 1385.6 1608.8 1386.5 1610.7 1386.1 1612.6 1385.9 1614.5 1386.7 1616.4 1387.4 1618.3 1387.6 1620.2 1388.5 1622.1 1388.8 1624.0 1389.3 1625.9 1391.5 1627.8 1391.8 1629.7 1393.2 1631.6 1393.5 1633.5 1394.4 1635.4 1395.1 1637.4 1394.3 1639.3 1395.2 1641.2 1395.3 1643.1 1396.1 1645.0 1395.7 1646.9 1395.7 1648.8 1396.4 1650.7 1398.2 1652.7 1397.9 1654.6 1399.3 1656.5 1400.1 1658.4 1400.0 1660.3 1400.6 1662.2 1400.3 1664.1 1401.1 1666.1 1402.1 1668.0 1402.3 1669.9 1401.9 1671.8 1404.1 1673.7 1403.5 1675.6 1404.4 1677.6 1406.2 1679.5 1406.4 1681.4 1406.8 1683.3 1408.3 1685.3 1408.3 1687.2 1409.2 1689.1 1409.5 1691.0 1410.5 1692.9 1411.2 1694.9 1412.5 1696.8 1412.5 1698.7 1413.5 1700.6 1413.5 1702.6 1414.5 1704.5 1416.3 1706.4 1416.4 1708.3 1416.9 1710.3 1417.6 1712.2 1417.3 1714.1 1417.6 1716.1 1417.4 1718.0 1416.7 1719.9 1418.0 1721.8 1418.5 1723.8 1418.6 1725.7 1418.5 1727.6 1419.2 1729.6 1420.0 1731.5 1421.3 1733.4 1422.1 1735.4 1422.3 1737.3 1423.1 1739.2 1423.7 1741.2 1424.0 1743.1 1424.4 1745.0 1424.9 1747.0 1424.1 1748.9 1425.6 1750.8 1425.5 1752.8 1425.5 1754.7 1426.3 1756.6 1426.4 1758.6 1427.7 1760.5 1427.1 1762.5 1428.1 1764.4 1428.8 1766.3 1428.9 1768.3 1429.3 1770.2 1430.8 1772.2 1431.2 1774.1 1431.6 1776.0 1432.1 1778.0 1433.7 1779.9 1434.8 1781.9 1434.4 1783.8 1435.4 1785.8 1435.9 1787.7 1436.0 1789.6 1435.3 1791.6 1435.8 1793.5 1435.9 1795.5 1437.1 1797.4 1436.7 1799.4 1437.9 1801.3 1438.9 1803.3 1439.8 1805.2 1439.9 1807.2 1441.1 1809.1 1442.1 1811.0 1441.7 1813.0 1442.4 1814.9 1442.5 1816.8 1443.5 1818.8 1444.1 1820.7 1444.7 1822.6 1444.6 1824.5 1445.0 1826.4 1445.4 1828.4 1446.3 1830.3 1446.9 1832.2 1448.5 1834.1 1448.1 1835.9 1449.6 1837.8 1449.9 1839.7 1450.9 1841.6 1452.5 1843.4 1453.2 1845.3 1454.2 1847.2 1454.4 1849.1 1457.0 1850.9 1457.6 1852.8 1457.1 1854.6 1457.5 1856.5 1458.2 1858.4 1458.9 1860.2 1458.6 1862.1 1459.2 1864.0 1459.0 1865.8 1460.7 1867.7 1459.8 1869.6 1460.1 1871.5 1461.8 1873.4 1461.7 1875.3 1462.2 1877.2 1462.8 1879.1 1463.6 1881.0 1463.8 1882.9 1464.6 1884.8 1464.8 1886.7 1465.1 1888.6 1466.1 1890.6 1467.0 1892.5 1468.2 1894.4 1468.1 1896.4 1468.2 1898.3 1468.7 1900.3 1469.1 1902.2 1467.9 1904.2 1468.7 1906.1 1468.0 1908.1 1468.4 1910.1 1469.2 1912.0 1470.0 1914.0 1470.8 1916.0 1471.5 1918.0 1472.8 1919.9 1473.0 1921.9 1473.5 1923.9 1473.6 1925.9 1475.0 1927.9 1475.1 1929.9 1474.7 1931.9 1475.2 1933.8 1476.3 1935.8 1476.7 1937.8 1476.3 1939.8 1476.9 1941.8 1475.9 1943.8 1476.3 1945.8 1476.8 1947.8 1476.3 1949.8 1477.0 1951.8 1477.3 1953.8 1477.5 1955.8 1477.0 1957.8 1477.8 1959.8 1478.0 1961.8 1477.9 1963.8 1478.2 1965.8 1478.4 1967.8 1478.1 1969.8 1478.6 1971.8 1479.9 1973.8 1480.0 1975.8 1480.0 1977.8 1480.4 1979.8 1481.5 1981.8 1482.1 1983.7 1482.2 1985.7 1483.1 1987.7 1483.4 1989.6 1483.8 1991.5 1485.1 1993.5 1484.1 1995.4 1485.4 1997.3 1485.1 1999.1 1486.0 2001.0 1487.5 2002.8 1487.6 2004.7 1488.8 2006.5 1489.7 2008.3 1491.0 2010.1 1492.3 2011.9 1493.6 2013.7 1493.7 2015.5 1495.4 2017.3 1495.4 2019.1 1497.7 2020.9 1497.2 2022.7 1497.7 2024.6 1498.4 2026.5 1498.5 2028.4 1498.6 2030.3 1498.0 2032.2 1499.1 2034.2 1498.9 2036.1 1498.0 2038.1 1497.2 2040.1 1497.4 2042.1 1497.3 2044.2 1495.6 2046.2 1495.5 2048.2 1495.8 2050.3 1495.2 2052.3 1495.3 2054.3 1495.3 2056.4 1495.5 2058.5 1495.4 2060.5 1495.4 2062.5 1495.2 2064.6 1494.5 2066.6 1493.8 2068.7 1495.1 2070.7 1495.5 2072.7 1495.8 2074.7 1495.8 2076.7 1497.4 2078.7 1496.2 2080.6 1497.7 2082.6 1497.9 2084.5 1498.3 2086.4 1498.8 2088.2 1498.7 2090.1 1499.0 2091.9 1499.3 2093.7 1500.4 2095.5 1501.1 2097.3 1502.1 2099.1 1502.1 2100.9 1502.8 2102.7 1504.3 2104.6 1505.2 2106.4 1504.7 2108.3 1505.0 2110.1 1505.1 2112.0 1505.1 2113.9 1504.7 2115.8 1504.7 2117.7 1504.0 2119.6 1504.1 2121.6 1504.4 2123.5 1503.6 2125.4 1504.5 2127.3 1503.2 2129.2 1503.2 2131.2 1502.3 2133.1 1503.2 2135.0 1503.3 2136.9 1503.6 2138.9 1504.3 2140.8 1504.1 2142.7 1505.0 2144.6 1504.3 2146.6 1505.2 2148.5 1506.3 2150.4 1506.0 2152.4 1506.4 2154.3 1505.9 2156.3 1505.8 2158.2 1507.1 2160.1 1507.0 2162.1 1507.2 2164.0 1507.2 2166.0 1508.3 2167.9 1508.3 2169.9 1509.6 2171.8 1510.5 2173.8 1510.9 2175.7 1512.9 2177.7 1513.2 2179.6 1514.3 2181.6 1513.9 2183.5 1514.6 2185.5 1515.4 2187.4 1516.3 2189.4 1517.1 2191.3 1517.3 2193.3 1517.5 2195.3 1518.1 2197.2 1518.0 2199.2 1518.5 2201.1 1518.8 2203.1 1518.7 2205.1 1519.7 2207.0 1519.4 2209.0 1520.3 2211.0 1521.6 2212.9 1521.7 2214.9 1522.8 2216.9 1523.2 2218.8 1523.4 2220.8 1524.5 2222.8 1524.3 2224.7 1524.1 2226.7 1524.2 2228.7 1524.7 2230.6 1524.2 2232.6 1525.7 2234.6 1525.5 2236.6 1525.2 2238.5 1525.9 2240.5 1527.3 2242.5 1526.9 2244.5 1527.9 2246.4 1527.0 2248.4 1527.3 2250.4 1528.2 2252.4 1528.8 2254.4 1528.0 2256.3 1529.4 2258.3 1529.1 2260.3 1529.8 2262.3 1529.6 2264.3 1530.8 2266.3 1530.3 2268.2 1530.4 2270.2 1531.5 2272.2 1530.9 2274.2 1530.4 2276.2 1529.8 2278.2 1530.9 2280.1 1530.2 2282.1 1531.3 2284.1 1532.4 2286.1 1533.0 2288.1 1533.1 2290.1 1533.7 2292.1 1533.7 2294.1 1533.5 2296.1 1533.9 2298.0 1534.6 2300.0 1533.6 2302.0 1533.4 2304.0 1533.0 2306.0 1531.7 2308.0 1531.6 2310.0 1531.2 2312.0 1532.2 2314.0 1532.1 2316.0 1531.9 2318.0 1532.0 2320.0 1532.9 2322.0 1532.8 2324.0 1532.3 2326.0 1531.8 2328.0 1531.9 2330.0 1531.7 2332.0 1532.0 2334.0 1532.1 2336.0 1532.2 2338.0 1532.7 2340.0 1533.3 2342.0 1533.9 2344.0 1532.9 2346.0 1533.0 2348.0 1534.2 2350.0 1534.7 2352.0 1534.8 2354.0 1535.5 2356.0 1535.9 2358.0 1536.6 2360.0 1537.9 2362.0 1536.1 2364.0 1536.3 2366.0 1535.7 2368.0 1535.9 2370.0 1536.1" fill="none" stroke="#0000ff" stroke-width="14.0" stroke-linejoin="round" stroke-linecap="butt"/>
<path d="M1740.0 1424.0 L1742.0 1408.5 L1744.0 1424.0" fill="none" stroke="#0000ff" stroke-width="9" stroke-linejoin="round" stroke-linecap="round"/>
<path d="M334.0 539.2L334.0 541.2 334.1 543.2 334.1 545.2 334.1 547.2 334.2 549.2 334.2 551.2 334.2 553.2 334.3 555.2 334.3 557.2 334.3 559.2 334.4 561.2 334.4 563.2 334.5 565.2 334.5 567.2 334.6 569.2 334.6 571.2 334.7 573.2 334.7 575.2 334.8 577.2 334.8 579.2 334.9 581.2 334.9 583.2 335.0 585.2 335.0 587.2 335.1 589.2 335.2 591.2 335.2 593.2 335.3 595.2 335.4 597.2 335.4 599.2 335.5 601.2 335.6 603.2 335.7 605.2 335.7 607.2 335.8 609.2 335.9 611.2 336.0 613.2 336.1 615.2 336.2 617.2 336.2 619.2 336.3 621.2 336.4 623.2 336.5 625.2 336.6 627.2 336.7 629.2 336.9 631.2 337.0 633.2 337.1 635.2 337.2 637.2 337.3 639.2 337.4 641.2 337.5 643.2 337.7 645.2 337.8 647.2 337.9 649.2 338.1 651.2 338.2 653.2 338.3 655.2 338.5 657.2 338.6 659.2 338.8 661.2 338.9 663.2 339.1 665.2 339.2 667.2 339.4 669.2 339.6 671.2 339.7 673.2 339.9 675.2 340.1 677.2 340.3 679.2 340.4 681.2 340.6 683.1 340.8 685.1 341.0 687.1 341.2 689.1 341.4 691.1 341.6 693.1 341.8 695.1 342.0 697.1 342.2 699.1 342.5 701.0 342.7 703.0 342.9 705.0 343.1 707.0 343.4 709.0 343.6 711.0 343.9 713.0 344.1 714.9 344.4 716.9 344.6 718.9 344.9 720.9 345.1 722.9 345.4 724.8 345.7 726.8 346.0 728.8 346.2 730.8 346.5 732.8 346.8 734.7 347.1 736.7 347.4 738.7 347.7 740.7 348.0 742.6 348.3 744.6 348.7 746.6 349.0 748.5 349.3 750.5 349.6 752.5 350.0 754.4 350.3 756.4 350.7 758.4 351.0 760.3 351.4 762.3 351.7 764.3 352.1 766.2 352.5 768.2 352.9 770.2 353.2 772.1 353.6 774.1 354.0 776.0 354.4 778.0 354.8 780.0 355.2 781.9 355.7 783.9 356.1 785.8 356.5 787.8 356.9 789.7 357.4 791.7 357.8 793.6 358.3 795.6 358.7 797.5 359.2 799.5 359.6 801.4 360.1 803.3 360.6 805.3 361.1 807.2 361.5 809.2 362.0 811.1 362.5 813.1 363.0 815.0 363.5 816.9 364.0 818.9 364.6 820.8 365.1 822.7 365.6 824.7 366.1 826.6 366.7 828.5 367.2 830.5 367.8 832.4 368.3 834.3 368.9 836.2 369.4 838.2 370.0 840.1 370.6 842.0 371.1 843.9 371.7 845.8 372.3 847.8 372.9 849.7 373.5 851.6 374.1 853.5 374.7 855.4 375.3 857.3 375.9 859.3 376.5 861.2 377.1 863.1 377.7 865.0 378.4 866.9 379.0 868.8 379.6 870.7 380.3 872.6 380.9 874.5 381.6 876.4 382.2 878.3 382.9 880.2 383.5 882.1 384.2 884.0 384.9 885.9 385.5 887.8 386.2 889.7 386.9 891.6 387.6 893.5 388.3 895.4 389.0 897.2 389.7 899.1 390.4 901.0 391.1 902.9 391.8 904.8 392.5 906.7 393.2 908.5 393.9 910.4 394.6 912.3 395.4 914.2 396.1 916.1 396.8 917.9 397.6 919.8 398.3 921.7 399.0 923.5 399.8 925.4 400.5 927.3 401.3 929.2 402.0 931.0 402.8 932.9 403.6 934.7 404.3 936.6 405.1 938.5 405.9 940.3 406.7 942.1 407.6 944.0 408.5 945.8 409.4 947.5 410.4 949.3 411.4 951.0 412.5 952.7 413.7 954.4 414.9 956.1 416.2 957.7 417.6 959.2 419.0 960.8 420.5 962.2 422.1 963.5 423.8 964.7 425.5 965.7 427.2 966.4 429.0 966.9 430.7 967.1 432.5 967.0 434.2 966.5 436.0 965.8 437.8 964.8 439.5 963.7 441.2 962.5 443.0 961.2 444.7 959.9 446.5 958.5 448.2 957.3 449.9 956.2 451.6 955.2 453.4 954.4 455.1 953.8 456.8 953.6 458.6 953.6 460.3 954.0 462.0 954.7 463.7 955.6 465.5 956.6 467.2 957.8 468.8 959.1 470.5 960.4 472.1 961.8 473.8 963.1 475.3 964.4 476.9 965.8 478.5 967.3 480.0 968.7 481.5 970.0 483.0 971.6 484.5 972.9 485.9 974.4 487.4 975.8 488.8 977.2 490.2 978.7 491.7 980.2 493.1 981.6 494.5 983.1 495.8 984.6 497.2 986.1 498.6 987.6 500.0 989.0 501.3 990.6 502.7 992.2 504.1 993.6 505.4 995.0 506.8 996.5 508.2 997.9 509.5 999.5 510.9 1000.8 512.3 1002.1 513.7 1003.7 515.1 1005.0 516.5 1006.5 517.9 1007.8 519.3 1009.2 520.7 1010.6 522.2 1012.0 523.6 1013.4 525.1 1014.7 526.5 1016.0 528.0 1017.4 529.5 1018.6 530.9 1019.9 532.4 1021.2 533.9 1022.4 535.4 1023.6 536.9 1025.0 538.4 1026.1 539.9 1027.4 541.5 1028.7 543.0 1030.3 544.5 1031.5 546.0 1033.0 547.6 1034.4 549.1 1035.4 550.7 1036.8 552.2 1037.7 553.7 1039.0 555.3 1040.1 556.8 1041.0 558.4 1042.3 560.0 1043.7 561.5 1044.7 563.1 1045.8 564.6 1047.3 566.2 1048.5 567.7 1049.5 569.3 1050.9 570.9 1052.0 572.4 1053.3 574.0 1054.8 575.5 1056.1 577.1 1057.5 578.7 1058.6 580.2 1059.8 581.8 1061.3 583.4 1062.3 584.9 1063.6 586.5 1065.0 588.1 1066.1 589.6 1067.3 591.2 1068.4 592.8 1069.7 594.4 1071.0 595.9 1072.1 597.5 1073.4 599.1 1074.5 600.6 1075.7 602.2 1076.6 603.8 1078.0 605.4 1079.0 606.9 1080.6 608.5 1081.7 610.1 1082.9 611.7 1084.1 613.3 1085.3 614.8 1086.7 616.4 1087.9 618.0 1089.3 619.6 1090.3 621.2 1091.7 622.7 1093.3 624.3 1094.0 625.9 1095.6 627.5 1096.8 629.1 1098.3 630.7 1099.7 632.3 1100.6 633.9 1101.7 635.5 1102.9 637.0 1104.2 638.6 1104.9 640.2 1106.0 641.8 1107.3 643.4 1107.9 645.0 1108.9 646.6 1110.3 648.2 1111.5 649.8 1112.4 651.4 1113.8 653.0 1114.3 654.6 1115.5 656.2 1117.0 657.8 1117.8 659.4 1119.6 661.0 1121.6 662.6 1123.0 664.2 1124.0 665.8 1126.1 667.5 1127.3 669.1 1128.4 670.7 1129.5 672.3 1131.0 673.9 1132.3 675.5 1133.2 677.1 1134.1 678.7 1135.5 680.4 1136.5 682.0 1137.0 683.6 1138.1 685.2 1139.2 686.8 1140.7 688.5 1141.4 690.1 1142.8 691.7 1144.3 693.3 1145.3 695.0 1146.7 696.6 1148.0 698.2 1149.4 699.8 1150.4 701.5 1152.3 703.1 1153.1 704.7 1154.3 706.4 1154.9 708.0 1155.9 709.7 1156.8 711.3 1157.9 712.9 1159.2 714.6 1160.4 716.2 1161.4 717.8 1162.5 719.5 1162.9 721.1 1164.5 722.8 1166.0 724.4 1167.3 726.1 1168.3 727.7 1169.7 729.4 1170.7 731.0 1171.9 732.7 1173.3 734.3 1174.1 736.0 1175.4 737.6 1176.8 739.3 1178.0 741.0 1179.1 742.6 1180.5 744.3 1181.3 745.9 1182.8 747.6 1184.3 749.3 1184.8 750.9 1186.0 752.6 1187.4 754.3 1187.8 755.9 1189.1 757.6 1189.7 759.3 1190.9 761.0 1192.0 762.6 1193.3 764.3 1195.4 766.0 1196.2 767.7 1197.2 769.4 1198.9 771.0 1199.9 772.7 1201.3 774.4 1202.5 776.1 1204.0 777.8 1204.5 779.5 1205.4 781.2 1206.6 782.8 1207.5 784.5 1208.1 786.2 1208.5 787.9 1209.5 789.6 1210.2 791.3 1211.0 793.0 1211.9 794.7 1213.4 796.4 1214.0 798.1 1214.8 799.8 1215.9 801.5 1217.6 803.2 1218.1 805.0 1219.3 806.7 1220.3 808.4 1221.2 810.1 1222.0 811.8 1223.5 813.5 1225.0 815.2 1225.6 817.0 1227.0 818.7 1228.1 820.4 1228.5 822.1 1229.8 823.9 1230.9 825.6 1231.7 827.3 1232.3 829.0 1234.0 830.8 1234.3 832.5 1235.9 834.2 1236.8 836.0 1237.6 837.7 1239.2 839.5 1240.7 841.2 1241.3 842.9 1242.3 844.7 1243.3 846.4 1244.2 848.2 1244.5 849.9 1246.2 851.7 1246.5 853.4 1246.9 855.2 1249.1 857.0 1250.3 858.7 1251.3 860.5 1253.6 862.2 1254.7 864.0 1256.2 865.8 1256.6 867.5 1257.5 869.3 1258.5 871.1 1259.4 872.8 1259.8 874.6 1261.2 876.4 1261.2 878.2 1262.0 879.9 1262.7 881.7 1263.3 883.5 1263.7 885.3 1264.0 887.1 1264.8 888.9 1265.7 890.7 1266.9 892.5 1267.2 894.2 1267.8 896.0 1270.4 897.8 1271.4 899.6 1273.7 901.4 1274.9 903.3 1275.8 905.1 1276.8 906.9 1277.5 908.7 1278.7 910.5 1278.7 912.3 1279.5 914.1 1280.1 915.9 1280.8 917.8 1282.1 919.6 1282.9 921.4 1282.8 923.3 1283.5 925.1 1284.3 926.9 1284.7 928.8 1284.6 930.6 1285.8 932.4 1286.3 934.3 1286.5 936.1 1287.9 938.0 1288.6 939.8 1290.4 941.7 1291.5 943.5 1292.5 945.4 1292.7 947.2 1293.3 949.1 1294.0 951.0 1294.8 952.8 1295.1 954.7 1296.2 956.6 1297.2 958.4 1296.7 960.3 1298.6 962.2 1299.3 964.1 1299.0 966.0 1302.1 967.9 1301.3 969.7 1301.8 971.6 1301.7 973.5 1303.2 975.4 1303.8 977.3 1304.5 979.2 1304.3 981.1 1304.1 983.0 1304.1 985.0 1304.7 986.9 1304.4 988.8 1305.1 990.7 1306.2 992.6 1305.4 994.6 1306.8 996.5 1308.7 998.4 1308.7 1000.3 1309.9 1002.3 1309.6 1004.2 1310.7 1006.2 1310.8 1008.1 1311.2 1010.0 1310.7 1012.0 1312.3 1013.9 1312.2 1015.9 1312.4 1017.8 1313.4 1019.8 1313.2 1021.7 1313.4 1023.7 1314.6 1025.7 1315.7 1027.6 1315.8 1029.6 1317.0 1031.5 1318.0 1033.5 1317.8 1035.4 1318.0 1037.4 1317.9 1039.3 1318.2 1041.3 1318.6 1043.2 1317.7 1045.2 1319.1 1047.1 1320.0 1049.1 1319.4 1051.0 1319.6 1053.0 1319.6 1054.9 1320.7 1056.8 1320.9 1058.8 1322.7 1060.7 1322.9 1062.6 1323.8 1064.6 1324.5 1066.5 1324.7 1068.4 1324.2 1070.3 1325.5 1072.2 1326.4 1074.1 1325.7 1076.0 1327.3 1077.9 1328.0 1079.8 1328.8 1081.7 1329.4 1083.6 1330.3 1085.5 1330.8 1087.4 1332.4 1089.2 1332.1 1091.1 1333.1 1093.0 1334.2 1094.9 1335.1 1096.8 1336.7 1098.6 1337.1 1100.5 1338.4 1102.4 1338.1 1104.3 1338.9 1106.3 1339.1 1108.2 1339.6 1110.1 1339.7 1112.1 1339.6 1114.0 1339.0 1116.0 1339.7 1118.0 1338.7 1120.0 1338.8 1122.0 1338.5 1124.1 1337.5 1126.1 1335.4 1128.1 1335.8 1130.0 1334.2 1132.0 1334.2 1133.9 1333.8 1135.7 1333.9 1137.4 1334.4 1139.1 1335.2 1140.8 1336.2 1142.4 1336.3 1143.9 1337.2 1145.4 1339.1 1146.9 1340.2 1148.3 1341.9 1149.7 1344.5 1151.0 1345.8 1152.4 1346.7 1153.7 1348.2 1155.0 1349.7 1156.3 1351.2 1157.6 1352.7 1158.9 1354.4 1160.1 1356.4 1161.4 1357.6 1162.7 1358.8 1164.0 1361.5 1165.3 1363.4 1166.6 1365.0 1167.9 1367.1 1169.3 1367.3 1170.6 1369.0 1172.0 1370.4 1173.5 1372.7 1175.0 1372.9 1176.5 1374.3 1178.1 1375.6 1179.7 1376.2 1181.4 1375.8 1183.1 1377.3 1184.9 1377.6 1186.6 1378.9 1188.5 1380.3 1190.3 1381.5 1192.1 1382.9 1194.0 1384.0 1195.8 1386.8 1197.7 1388.2 1199.5 1388.9 1201.4 1388.4 1203.2 1388.9 1205.1 1388.6 1207.0 1389.6 1208.9 1389.6 1210.7 1390.7 1212.6 1390.9 1214.5 1391.1 1216.4 1391.6 1218.3 1393.0 1220.2 1393.5 1222.1 1393.6 1224.0 1393.8 1225.9 1394.8 1227.8 1396.2 1229.7 1396.6 1231.6 1397.2 1233.5 1398.7 1235.5 1399.3 1237.4 1399.7 1239.3 1400.3 1241.2 1402.6 1243.1 1403.1 1245.0 1403.1 1246.9 1404.2 1248.9 1404.4 1250.8 1404.2 1252.7 1405.2 1254.6 1405.5 1256.5 1406.3 1258.4 1406.5 1260.3 1407.8 1262.2 1408.4 1264.1 1409.2 1266.0 1409.1 1267.9 1410.4 1269.8 1410.1 1271.6 1411.6 1273.5 1411.4 1275.4 1411.9 1277.3 1412.4 1279.1 1414.0 1281.0 1415.1 1282.9 1415.3 1284.7 1415.7 1286.6 1416.5 1288.4 1417.9 1290.3 1417.8 1292.1 1418.6 1294.0 1419.0 1295.8 1420.2 1297.7 1420.7 1299.5 1421.3 1301.3 1421.8 1303.2 1422.1 1305.0 1422.9 1306.8 1423.2 1308.6 1423.1 1310.4 1424.8 1312.3 1424.6 1314.1 1426.2 1315.9 1426.7 1317.7 1427.8 1319.5 1428.4 1321.3 1428.6 1323.1 1430.6 1324.9 1431.2 1326.7 1433.5 1328.5 1434.4 1330.3 1434.3 1332.1 1436.3 1333.9 1436.9 1335.6 1436.7 1337.4 1438.4 1339.2 1439.3 1341.0 1440.6 1342.8 1441.4 1344.6 1441.3 1346.3 1443.5 1348.1 1443.7 1349.9 1445.0 1351.6 1445.3 1353.4 1446.7 1355.2 1447.0 1356.9 1447.3 1358.7 1448.0 1360.5 1449.7 1362.3 1450.7 1364.0 1451.5 1365.8 1453.4 1367.6 1455.3 1369.4 1456.0 1371.2 1456.8 1372.9 1459.1 1374.7 1459.3 1376.5 1460.2 1378.4 1460.4 1380.2 1462.0 1382.0 1462.6 1383.8 1462.8 1385.7 1463.8 1387.5 1464.1 1389.4 1464.5 1391.2 1464.7 1393.1 1466.6 1395.0 1467.0 1396.9 1468.3 1398.8 1468.6 1400.7 1468.3 1402.6 1469.0 1404.5 1468.6 1406.4 1469.2 1408.4 1470.2 1410.3 1469.9 1412.3 1470.3 1414.2 1470.0 1416.2 1470.7 1418.1 1471.1 1420.1 1471.9 1422.1 1471.8 1424.0 1472.4 1426.0 1474.3 1428.0 1475.0 1429.9 1475.5 1431.9 1475.8 1433.9 1476.5 1435.9 1477.5 1437.9 1478.9 1439.8 1479.3 1441.8 1479.7 1443.8 1480.1 1445.8 1480.8 1447.7 1480.5 1449.7 1481.2 1451.7 1480.4 1453.6 1480.8 1455.6 1481.2 1457.5 1481.7 1459.5 1481.1 1461.4 1481.5 1463.4 1481.2 1465.3 1481.2 1467.2 1480.6 1469.1 1481.4 1471.1 1481.3 1473.0 1482.1 1474.9 1481.5 1476.8 1483.6 1478.6 1484.1 1480.5 1485.3 1482.4 1485.8 1484.3 1487.2 1486.2 1488.4 1488.1 1489.1 1490.0 1490.6 1491.9 1490.9 1493.8 1493.0 1495.7 1493.8 1497.6 1495.1 1499.5 1495.3 1501.4 1495.4 1503.3 1495.3 1505.3 1496.4 1507.2 1496.1 1509.2 1496.4 1511.2 1496.6 1513.2 1496.7 1515.2 1497.3 1517.2 1497.8 1519.2 1496.8 1521.2 1497.0 1523.3 1496.9 1525.3 1496.5 1527.3 1497.2 1529.3 1497.5 1531.4 1497.8 1533.4 1498.4 1535.4 1498.9 1537.4 1499.2 1539.3 1500.3 1541.3 1500.0 1543.2 1500.5 1545.1 1499.8 1547.0 1500.4 1548.9 1501.9 1550.8 1502.4 1552.6 1502.9 1554.4 1504.5 1556.2 1505.5 1557.9 1506.8 1559.6 1507.3 1561.4 1507.5 1563.1 1509.4 1564.8 1510.8 1566.5 1512.0 1568.2 1514.0 1569.9 1514.6 1571.6 1516.3 1573.3 1516.9 1575.0 1519.0 1576.7 1519.1 1578.5 1521.2 1580.2 1521.6 1582.0 1521.2 1583.8 1522.5 1585.6 1523.3 1587.4 1522.7 1589.3 1523.6 1591.1 1523.9 1593.1 1524.8 1595.0 1525.8 1597.0 1526.9 1599.0 1528.0 1601.0 1526.7 1603.0 1527.0 1605.0 1527.4 1607.1 1527.4 1609.1 1526.7 1611.2 1527.2 1613.3 1525.6 1615.3 1525.0 1617.4 1525.5 1619.4 1524.3 1621.4 1525.1 1623.4 1524.8 1625.4 1524.2 1627.3 1524.9 1629.2 1525.5 1631.1 1526.0 1632.9 1526.1 1634.7 1525.5 1636.4 1525.8 1638.1 1525.5 1639.8 1527.1 1641.4 1526.7 1643.1 1528.2 1644.7 1529.6 1646.2 1530.2 1647.8 1532.5 1649.4 1534.3 1650.9 1536.1 1652.5 1537.3 1654.1 1539.2 1655.7 1540.3 1657.3 1540.8 1658.9 1542.7 1660.6 1543.2 1662.2 1544.2 1663.9 1547.1 1665.6 1547.4 1667.4 1548.1 1669.2 1549.1 1670.9 1550.1 1672.8 1549.9 1674.6 1552.0 1676.4 1552.5 1678.3 1553.6 1680.2 1554.8 1682.1 1555.4 1684.0 1555.6 1685.9 1556.1 1687.9 1557.6 1689.8 1557.6 1691.8 1557.6 1693.8 1557.9 1695.8 1558.9 1697.7 1559.7 1699.7 1559.7 1701.7 1559.6 1703.8 1559.6 1705.8 1560.8 1707.8 1558.6 1709.8 1559.4 1711.8 1559.4 1713.8 1558.9 1715.8 1559.3 1717.8 1559.8 1719.8 1559.3 1721.8 1558.4 1723.8 1558.4 1725.8 1558.8 1727.7 1559.0 1729.6 1558.9 1731.6 1558.1 1733.5 1558.9 1735.3 1558.7 1737.2 1558.8 1739.1 1560.7 1740.9 1561.4 1742.7 1563.0 1744.4 1562.8 1746.2 1564.2 1747.9 1564.8 1749.7 1565.2 1751.4 1565.6 1753.1 1567.2 1754.8 1567.8 1756.5 1569.3 1758.2 1568.9 1759.9 1570.5 1761.7 1569.8 1763.4 1572.2 1765.1 1572.5 1766.8 1574.2 1768.6 1575.7 1770.3 1577.0 1772.1 1577.6 1773.9 1579.4 1775.7 1580.2 1777.5 1580.9 1779.3 1581.8 1781.1 1582.1 1783.0 1583.3 1784.8 1584.0 1786.7 1583.9 1788.5 1584.8 1790.4 1585.7 1792.3 1585.7 1794.2 1586.2 1796.1 1586.0 1798.0 1587.5 1799.9 1587.5 1801.8 1588.6 1803.8 1589.3 1805.7 1591.3 1807.6 1592.2 1809.6 1592.8 1811.5 1594.3 1813.5 1594.3 1815.4 1594.5 1817.4 1595.3 1819.4 1594.9 1821.3 1595.1 1823.3 1596.6 1825.3 1595.9 1827.3 1596.4 1829.3 1596.3 1831.3 1595.3 1833.3 1596.1 1835.3 1596.6 1837.3 1596.7 1839.3 1597.5 1841.3 1598.5 1843.3 1598.3 1845.3 1599.1 1847.3 1599.5 1849.3 1600.1 1851.3 1600.1 1853.3 1600.8 1855.3 1599.8 1857.3 1600.1 1859.3 1600.1 1861.3 1600.9 1863.3 1601.6 1865.2 1602.1 1867.2 1602.5 1869.2 1601.6 1871.2 1602.1 1873.2 1602.4 1875.2 1601.7 1877.2 1601.8 1879.2 1601.8 1881.1 1601.7 1883.1 1602.0 1885.1 1602.8 1887.1 1604.3 1889.1 1604.5 1891.0 1604.7 1893.0 1604.9 1895.0 1605.9 1897.0 1605.1 1898.9 1605.9 1900.9 1606.8 1902.9 1606.1 1904.8 1605.9 1906.8 1605.9 1908.8 1607.4 1910.7 1606.9 1912.7 1608.1 1914.7 1609.5 1916.6 1609.6 1918.6 1610.1 1920.6 1610.9 1922.5 1612.0 1924.5 1611.9 1926.4 1612.5 1928.4 1613.4 1930.4 1613.9 1932.3 1613.5 1934.3 1614.5 1936.2 1614.4 1938.2 1613.8 1940.2 1614.8 1942.1 1614.9 1944.1 1615.0 1946.0 1615.3 1948.0 1616.2 1949.9 1615.8 1951.9 1616.5 1953.9 1617.5 1955.8 1617.1 1957.8 1617.2 1959.7 1618.0 1961.7 1618.5 1963.6 1620.2 1965.6 1621.1 1967.6 1621.1 1969.5 1622.7 1971.5 1622.5 1973.4 1623.6 1975.4 1624.0 1977.3 1623.9 1979.3 1624.6 1981.3 1625.5 1983.2 1625.1 1985.2 1626.2 1987.1 1626.5 1989.1 1627.0 1991.1 1628.1 1993.0 1627.7 1995.0 1628.9 1997.0 1628.8 1998.9 1628.7 2000.9 1628.9 2002.9 1630.4 2004.8 1630.8 2006.8 1630.5 2008.8 1631.5 2010.7 1631.3 2012.7 1632.2 2014.7 1631.9 2016.6 1631.4 2018.6 1631.9 2020.6 1632.6 2022.6 1632.5 2024.5 1631.6 2026.5 1630.9 2028.5 1631.8 2030.5 1630.8 2032.5 1632.0 2034.4 1630.5 2036.4 1630.9 2038.4 1631.8 2040.4 1631.3 2042.4 1631.8 2044.4 1632.1 2046.3 1631.0 2048.3 1632.0 2050.3 1633.2 2052.3 1633.7 2054.3 1633.8 2056.3 1634.1 2058.3 1635.0 2060.3 1635.5 2062.3 1635.4 2064.3 1634.5 2066.2 1634.5 2068.2 1635.0 2070.2 1634.8 2072.2 1634.6 2074.2 1634.6 2076.2 1635.8 2078.2 1636.2 2080.2 1636.5 2082.2 1637.7 2084.2 1638.2 2086.2 1639.6 2088.2 1640.1 2090.2 1639.7 2092.2 1639.3 2094.2 1638.4 2096.2 1638.9 2098.2 1638.1 2100.1 1638.5 2102.1 1639.4 2104.1 1639.7 2106.1 1639.3 2108.1 1640.1 2110.1 1640.1 2112.1 1640.3 2114.1 1640.4 2116.1 1640.9 2118.1 1641.5 2120.1 1642.8 2122.1 1643.5 2124.0 1643.5 2126.0 1644.2 2128.0 1644.6 2130.0 1644.1 2132.0 1644.9 2134.0 1644.7 2136.0 1644.0 2138.0 1644.8 2139.9 1644.9 2141.9 1644.8 2143.9 1644.8 2145.9 1645.1 2147.9 1645.3 2149.9 1646.9 2151.8 1644.8 2153.8 1644.9 2155.8 1645.0 2157.8 1645.4 2159.7 1645.1 2161.7 1645.6 2163.7 1647.4 2165.7 1647.8 2167.6 1648.9 2169.6 1650.9 2171.6 1650.9 2173.5 1651.8 2175.5 1650.7 2177.4 1651.3 2179.4 1652.0 2181.4 1652.7 2183.3 1652.7 2185.3 1652.9 2187.2 1652.7 2189.2 1653.6 2191.2 1652.7 2193.1 1653.8 2195.1 1653.8 2197.0 1654.2 2199.0 1654.6 2200.9 1656.0 2202.9 1656.5 2204.8 1657.4 2206.8 1656.9 2208.7 1658.2 2210.7 1658.0 2212.6 1659.1 2214.6 1659.6 2216.5 1660.1 2218.5 1660.6 2220.4 1660.8 2222.4 1660.7 2224.3 1661.1 2226.3 1660.4 2228.3 1661.0 2230.2 1661.2 2232.2 1660.0 2234.1 1660.7 2236.1 1660.1 2238.1 1661.0 2240.0 1660.7 2242.0 1662.1 2244.0 1662.0 2245.9 1663.2 2247.9 1663.3 2249.9 1663.7 2251.9 1664.4 2253.9 1664.4 2255.9 1664.9 2257.8 1665.7 2259.8 1666.1 2261.8 1666.0 2263.8 1665.9 2265.8 1665.2 2267.8 1665.5 2269.8 1664.8 2271.9 1664.1 2273.9 1663.9 2275.9 1663.8 2277.9 1663.2 2279.9 1663.1 2281.9 1663.1 2283.9 1662.7 2286.0 1661.9 2288.0 1660.1 2290.0 1660.8 2292.0 1659.2 2294.1 1659.2 2296.1 1658.9 2298.1 1659.5 2300.1 1659.6 2302.2 1659.8 2304.2 1660.7 2306.2 1661.8 2308.2 1661.3 2310.3 1663.1 2312.3 1661.9 2314.3 1661.7 2316.3 1661.4 2318.4 1662.4 2320.4 1660.5 2322.4 1660.6 2324.4 1659.7 2326.4 1660.5 2328.4 1659.8 2330.5 1659.8 2332.5 1659.7 2334.5 1660.2 2336.5 1660.5 2338.5 1660.7 2340.5 1660.6 2342.5 1660.3 2344.5 1661.3 2346.4 1661.2 2348.4 1662.0 2350.4 1663.0 2352.4 1663.2 2354.4 1663.3 2356.3 1663.1 2358.3 1662.8 2360.3 1663.2 2362.2 1663.5 2364.2 1663.4 2366.1 1664.0 2368.1 1664.2 2370.0 1664.8" fill="none" stroke="#008080" stroke-width="14.0" stroke-linejoin="round" stroke-linecap="butt"/>
<path d="M650.0 1113.8 L652.0 1102.5 L654.0 1113.8" fill="none" stroke="#008080" stroke-width="9" stroke-linejoin="round" stroke-linecap="round"/>
<path d="M1608.0 1526.7 L1610.0 1516.5 L1612.0 1526.7" fill="none" stroke="#008080" stroke-width="9" stroke-linejoin="round" stroke-linecap="round"/>
<path d="M2160.0 1645.6 L2162.0 1636.5 L2164.0 1645.6" fill="none" stroke="#008080" stroke-width="9" stroke-linejoin="round" stroke-linecap="round"/>
<path d="M334.0 46.5L334.1 48.5 334.2 50.5 334.2 52.4 334.3 54.4 334.4 56.4 334.5 58.4 334.6 60.4 334.7 62.4 334.8 64.4 334.9 66.4 335.0 68.3 335.1 70.3 335.2 72.3 335.4 74.3 335.5 76.3 335.6 78.3 335.7 80.3 335.9 82.3 336.0 84.3 336.1 86.3 336.3 88.3 336.4 90.3 336.6 92.3 336.7 94.3 336.9 96.3 337.0 98.3 337.2 100.3 337.4 102.4 337.6 104.4 337.7 106.4 337.9 108.4 338.1 110.4 338.3 112.4 338.5 114.4 338.7 116.4 338.9 118.4 339.1 120.4 339.3 122.4 339.6 124.4 339.8 126.4 340.0 128.4 340.3 130.4 340.5 132.4 340.8 134.4 341.0 136.4 341.3 138.4 341.5 140.4 341.8 142.4 342.1 144.4 342.4 146.4 342.7 148.4 343.0 150.4 343.3 152.4 343.6 154.4 343.9 156.4 344.2 158.4 344.5 160.4 344.8 162.4 345.2 164.4 345.5 166.3 345.9 168.3 346.2 170.3 346.6 172.3 347.0 174.3 347.3 176.3 347.7 178.2 348.1 180.2 348.5 182.2 348.9 184.1 349.3 186.1 349.8 188.1 350.2 190.0 350.6 192.0 351.1 194.0 351.5 195.9 352.0 197.9 352.4 199.8 352.9 201.8 353.4 203.7 353.8 205.7 354.3 207.6 354.8 209.6 355.4 211.5 355.9 213.4 356.4 215.4 356.9 217.3 357.5 219.2 358.0 221.1 358.6 223.0 359.1 225.0 359.7 226.9 360.3 228.8 360.9 230.7 361.5 232.6 362.1 234.5 362.7 236.4 363.4 238.3 364.0 240.2 364.6 242.1 365.3 243.9 365.9 245.8 366.6 247.7 367.3 249.6 368.0 251.4 368.7 253.3 369.4 255.2 370.1 257.0 370.8 258.9 371.6 260.7 372.3 262.5 373.1 264.4 373.9 266.2 374.6 268.1 375.4 269.9 376.2 271.7 377.0 273.5 377.8 275.3 378.6 277.1 379.5 279.0 380.3 280.8 381.1 282.6 382.0 284.4 382.9 286.1 383.7 287.9 384.6 289.7 385.5 291.5 386.4 293.3 387.3 295.0 388.2 296.8 389.1 298.6 390.0 300.3 391.0 302.1 391.9 303.8 392.8 305.6 393.8 307.3 394.8 309.1 395.7 310.8 396.7 312.6 397.7 314.3 398.7 316.0 399.7 317.7 400.7 319.5 401.7 321.2 402.7 322.9 403.7 324.6 404.8 326.3 405.8 328.0 406.8 329.7 407.9 331.4 409.0 333.1 410.0 334.8 411.1 336.5 412.2 338.2 413.2 339.8 414.3 341.5 415.4 343.2 416.5 344.8 417.6 346.5 418.7 348.2 419.9 349.8 421.0 351.5 422.1 353.1 423.2 354.8 424.4 356.4 425.5 358.1 426.7 359.7 427.8 361.3 429.0 363.0 430.2 364.6 431.3 366.2 432.5 367.8 433.7 369.5 434.9 371.1 436.1 372.7 437.2 374.3 438.4 375.9 439.6 377.5 440.8 379.1 442.1 380.7 443.3 382.3 444.5 383.9 445.7 385.5 446.9 387.0 448.2 388.6 449.4 390.2 450.6 391.8 451.9 393.3 453.1 394.9 454.4 396.5 455.6 398.0 456.9 399.6 458.1 401.1 459.4 402.7 460.7 404.2 461.9 405.8 463.2 407.3 464.5 408.8 465.8 410.4 467.0 411.9 468.3 413.5 469.6 415.0 470.9 416.5 472.2 418.1 473.5 419.6 474.8 421.1 476.1 422.6 477.4 424.1 478.7 425.6 480.0 427.2 481.4 428.6 482.7 430.0 484.0 431.6 485.3 433.1 486.6 434.6 488.0 436.0 489.3 437.5 490.7 438.9 492.0 440.3 493.3 441.9 494.7 443.3 496.0 444.9 497.4 446.3 498.7 447.7 500.1 449.1 501.5 450.6 502.8 452.2 504.2 453.6 505.6 455.1 506.9 456.7 508.3 458.2 509.7 459.6 511.1 461.1 512.5 462.5 513.8 464.0 515.2 465.4 516.6 466.9 518.0 468.2 519.4 469.6 520.8 471.0 522.2 472.4 523.6 473.8 525.0 475.2 526.5 476.8 527.9 478.1 529.3 479.6 530.7 481.0 532.1 482.3 533.6 483.6 535.0 485.1 536.4 486.5 537.8 487.9 539.3 489.1 540.7 490.6 542.2 491.9 543.6 493.4 545.0 494.6 546.5 495.8 547.9 497.4 549.4 498.8 550.9 500.3 552.3 501.4 553.8 502.8 555.2 504.3 556.7 505.1 558.2 506.6 559.6 507.9 561.1 509.4 562.6 510.7 564.1 512.1 565.5 513.2 567.0 514.6 568.5 516.1 570.0 517.5 571.5 518.9 573.0 520.5 574.5 521.7 576.0 523.2 577.5 524.6 579.0 526.2 580.5 527.4 582.0 528.7 583.5 530.0 585.0 531.2 586.5 532.7 588.0 533.9 589.5 534.9 591.0 536.4 592.6 537.8 594.1 539.4 595.6 540.5 597.1 542.1 598.7 543.2 600.2 544.7 601.7 545.6 603.3 546.8 604.8 548.1 606.3 549.3 607.9 550.4 609.4 551.6 611.0 552.5 612.5 553.9 614.1 555.0 615.6 556.6 617.2 557.5 618.7 558.8 620.3 560.6 621.8 561.4 623.4 563.3 624.9 564.4 626.5 565.7 628.1 567.0 629.6 568.4 631.2 569.7 632.8 570.7 634.3 572.1 635.9 573.3 637.5 574.3 639.1 575.7 640.7 576.4 642.2 577.8 643.8 579.2 645.4 580.3 647.0 581.7 648.6 582.9 650.2 583.8 651.8 585.6 653.3 586.6 654.9 588.3 656.5 589.5 658.1 591.1 659.7 591.6 661.3 593.5 662.9 594.5 664.5 595.9 666.1 597.0 667.7 598.1 669.4 598.8 671.0 600.0 672.6 601.0 674.2 602.4 675.8 603.7 677.4 605.1 679.0 606.5 680.6 607.3 682.3 608.7 683.9 609.9 685.5 610.8 687.1 611.5 688.8 612.9 690.4 614.0 692.0 615.1 693.6 616.7 695.3 617.8 696.9 619.1 698.5 620.4 700.2 621.6 701.8 623.0 703.4 624.2 705.1 625.4 706.7 626.7 708.4 628.1 710.0 629.1 711.6 630.7 713.3 631.8 714.9 632.4 716.6 633.8 718.2 634.5 719.9 635.5 721.5 637.0 723.2 637.3 724.8 639.0 726.5 639.8 728.1 641.3 729.8 641.9 731.4 644.0 733.1 645.3 734.7 645.9 736.4 647.7 738.1 648.2 739.7 649.4 741.4 650.1 743.0 651.5 744.7 652.2 746.4 653.2 748.0 654.2 749.7 654.8 751.4 656.2 753.0 656.9 754.7 658.4 756.4 659.1 758.0 660.4 759.7 661.6 761.4 663.2 763.0 664.6 764.7 665.6 766.4 666.6 768.1 668.1 769.7 669.2 771.4 670.7 773.1 671.6 774.8 672.9 776.4 674.0 778.1 675.2 779.8 675.9 781.5 677.7 783.2 678.3 784.8 678.9 786.5 680.2 788.2 681.2 789.9 682.1 791.6 683.4 793.3 684.1 794.9 685.4 796.6 686.8 798.3 687.3 800.0 688.5 801.7 690.2 803.4 690.9 805.0 692.1 806.7 692.8 808.4 694.0 810.1 695.3 811.8 696.3 813.5 698.2 815.2 698.6 816.9 699.9 818.6 700.8 820.3 703.0 822.0 703.1 823.6 704.9 825.3 704.9 827.0 707.0 828.7 708.0 830.4 707.8 832.1 709.1 833.8 709.0 835.5 710.2 837.2 712.0 838.9 712.7 840.6 713.6 842.3 715.0 844.0 715.9 845.8 717.0 847.5 718.7 849.2 718.5 850.9 720.1 852.6 721.3 854.3 722.8 856.0 723.6 857.7 724.6 859.4 725.0 861.2 728.3 862.9 728.0 864.6 729.7 866.3 729.9 868.1 731.8 869.8 731.8 871.5 733.1 873.2 734.4 875.0 734.8 876.7 736.7 878.4 737.3 880.2 738.7 881.9 739.4 883.6 739.5 885.4 739.9 887.1 740.8 888.9 742.1 890.6 741.5 892.4 743.4 894.1 743.0 895.9 744.9 897.6 746.0 899.4 746.7 901.1 747.9 902.9 750.0 904.6 751.7 906.4 752.2 908.2 754.2 909.9 755.1 911.7 755.2 913.5 755.6 915.2 757.0 917.0 757.5 918.8 757.6 920.6 758.6 922.4 760.9 924.1 761.1 925.9 762.0 927.7 762.4 929.5 763.6 931.3 764.9 933.1 764.7 934.9 765.5 936.7 766.3 938.5 767.0 940.3 768.2 942.1 768.5 943.9 769.8 945.7 770.7 947.6 771.6 949.4 772.4 951.2 772.5 953.0 773.5 954.8 774.1 956.7 776.0 958.5 777.1 960.3 778.0 962.2 779.6 964.0 779.8 965.9 781.6 967.7 782.2 969.6 783.6 971.4 783.8 973.3 784.9 975.1 785.3 977.0 785.8 978.8 785.8 980.7 787.7 982.6 787.9 984.4 789.5 986.3 788.8 988.2 789.6 990.1 789.8 991.9 791.5 993.8 791.4 995.7 793.2 997.6 793.7 999.5 792.0 1001.4 792.8 1003.2 792.9 1005.1 793.7 1007.0 794.1 1008.9 795.5 1010.8 796.7 1012.7 796.9 1014.6 798.2 1016.5 798.6 1018.4 799.7 1020.3 800.7 1022.2 800.5 1024.1 802.4 1026.0 802.0 1027.9 802.8 1029.8 804.4 1031.8 804.4 1033.7 805.0 1035.6 806.5 1037.5 806.6 1039.4 807.0 1041.3 807.4 1043.2 807.8 1045.1 808.8 1047.1 809.2 1049.0 809.6 1050.9 811.5 1052.8 811.7 1054.7 811.6 1056.7 813.2 1058.6 813.5 1060.5 814.2 1062.4 815.8 1064.3 815.8 1066.3 815.5 1068.2 815.9 1070.1 814.7 1072.0 815.7 1073.9 815.8 1075.9 815.3 1077.8 815.2 1079.7 816.7 1081.6 817.2 1083.5 817.8 1085.5 818.8 1087.4 819.7 1089.3 821.1 1091.2 822.3 1093.1 822.3 1095.1 823.8 1097.0 823.6 1098.9 824.0 1100.8 824.4 1102.7 825.1 1104.7 825.3 1106.6 825.4 1108.5 825.4 1110.4 827.0 1112.3 827.2 1114.3 828.2 1116.2 828.7 1118.1 830.9 1120.0 831.0 1121.9 831.6 1123.9 833.6 1125.8 834.0 1127.7 835.1 1129.6 835.5 1131.5 834.7 1133.5 835.7 1135.4 837.3 1137.3 837.0 1139.2 837.6 1141.1 838.5 1143.1 839.2 1145.0 839.3 1146.9 840.2 1148.8 840.7 1150.7 840.9 1152.7 841.3 1154.6 842.2 1156.5 842.6 1158.4 842.7 1160.3 843.1 1162.3 844.3 1164.2 844.8 1166.1 846.1 1168.0 846.0 1169.9 846.6 1171.9 847.0 1173.8 848.0 1175.7 848.7 1177.6 849.5 1179.5 849.3 1181.5 850.3 1183.4 850.9 1185.3 850.1 1187.2 851.3 1189.1 851.1 1191.1 851.6 1193.0 852.0 1194.9 852.2 1196.8 852.3 1198.8 853.1 1200.7 853.7 1202.6 853.8 1204.5 854.1 1206.5 855.2 1208.4 857.0 1210.3 857.5 1212.2 858.0 1214.1 858.7 1216.1 860.0 1218.0 860.7 1219.9 862.1 1221.8 860.9 1223.8 862.3 1225.7 863.1 1227.6 863.6 1229.5 862.9 1231.5 864.2 1233.4 864.5 1235.3 865.0 1237.3 865.5 1239.2 865.4 1241.1 866.4 1243.0 866.2 1245.0 866.4 1246.9 867.4 1248.8 868.4 1250.7 869.8 1252.7 869.5 1254.6 871.0 1256.5 870.3 1258.5 870.7 1260.4 870.6 1262.3 871.4 1264.3 871.7 1266.2 872.5 1268.1 872.5 1270.1 873.3 1272.0 873.2 1273.9 874.2 1275.8 875.7 1277.8 875.0 1279.7 876.2 1281.6 877.2 1283.6 877.7 1285.5 877.8 1287.4 877.9 1289.4 877.7 1291.3 879.1 1293.2 878.1 1295.2 879.2 1297.1 879.5 1299.1 880.5 1301.0 881.0 1302.9 882.3 1304.9 883.4 1306.8 883.4 1308.7 884.2 1310.7 884.9 1312.6 885.1 1314.5 886.5 1316.5 885.7 1318.4 886.3 1320.3 887.3 1322.3 887.5 1324.2 888.0 1326.2 889.3 1328.1 888.5 1330.0 890.4 1332.0 891.7 1333.9 891.3 1335.9 893.8 1337.8 893.3 1339.7 893.8 1341.7 894.3 1343.6 894.5 1345.6 895.7 1347.5 894.3 1349.4 894.7 1351.4 895.6 1353.3 896.0 1355.3 895.6 1357.2 897.0 1359.1 896.4 1361.1 897.0 1363.0 897.4 1365.0 898.0 1366.9 898.2 1368.9 898.8 1370.8 899.3 1372.7 899.9 1374.7 899.6 1376.6 900.4 1378.6 902.0 1380.5 902.2 1382.5 902.8 1384.4 902.5 1386.3 901.9 1388.3 904.1 1390.2 905.4 1392.2 903.9 1394.1 905.4 1396.1 905.8 1398.0 905.4 1400.0 907.5 1401.9 907.7 1403.9 907.8 1405.8 909.0 1407.7 909.2 1409.7 910.2 1411.6 911.0 1413.6 910.5 1415.5 911.4 1417.5 912.5 1419.4 911.8 1421.4 913.0 1423.3 913.1 1425.3 914.5 1427.2 914.1 1429.2 915.2 1431.1 915.1 1433.1 915.7 1435.0 915.7 1437.0 915.2 1438.9 915.9 1440.9 917.8 1442.8 918.4 1444.8 918.2 1446.7 919.0 1448.7 918.8 1450.6 919.2 1452.6 919.1 1454.5 919.9 1456.5 921.1 1458.4 920.1 1460.4 921.7 1462.3 922.2 1464.3 923.2 1466.2 923.1 1468.2 924.2 1470.1 925.9 1472.1 925.2 1474.0 926.3 1476.0 926.4 1477.9 926.7 1479.9 927.3 1481.8 927.0 1483.8 928.1 1485.8 928.6 1487.7 927.9 1489.7 929.3 1491.6 929.6 1493.6 930.3 1495.5 930.5 1497.5 931.5 1499.4 932.8 1501.4 933.0 1503.3 933.0 1505.3 934.1 1507.2 934.6 1509.2 933.6 1511.2 933.9 1513.1 933.7 1515.1 934.2 1517.0 933.8 1519.0 934.2 1520.9 934.9 1522.9 935.5 1524.8 935.7 1526.8 937.5 1528.8 937.7 1530.7 938.6 1532.7 938.8 1534.6 939.4 1536.6 939.4 1538.5 939.2 1540.5 941.0 1542.5 940.6 1544.4 940.4 1546.4 941.0 1548.3 941.7 1550.3 941.6 1552.2 942.2 1554.2 941.2 1556.2 942.1 1558.1 942.4 1560.1 943.7 1562.0 944.1 1564.0 944.9 1566.0 946.0 1567.9 946.3 1569.9 945.9 1571.8 947.6 1573.8 947.5 1575.8 947.4 1577.7 947.9 1579.7 948.7 1581.6 948.6 1583.6 948.6 1585.6 949.2 1587.5 949.0 1589.5 950.0 1591.4 950.3 1593.4 951.1 1595.4 950.7 1597.3 951.5 1599.3 954.1 1601.2 953.3 1603.2 953.9 1605.2 954.7 1607.1 954.7 1609.1 955.3 1611.1 954.7 1613.0 955.9 1615.0 956.4 1616.9 956.1 1618.9 956.7 1620.9 958.2 1622.8 957.6 1624.8 957.9 1626.8 958.5 1628.7 958.4 1630.7 957.8 1632.7 958.9 1634.6 959.4 1636.6 959.8 1638.5 961.1 1640.5 961.3 1642.5 961.3 1644.4 963.4 1646.4 962.7 1648.4 962.4 1650.3 963.1 1652.3 962.9 1654.3 963.2 1656.2 963.7 1658.2 963.4 1660.2 964.6 1662.1 964.4 1664.1 964.4 1666.1 964.7 1668.0 965.0 1670.0 965.2 1672.0 965.1 1673.9 965.8 1675.9 964.7 1677.9 965.6 1679.8 965.7 1681.8 965.8 1683.8 966.4 1685.7 966.1 1687.7 967.3 1689.7 966.8 1691.6 968.0 1693.6 968.5 1695.6 970.0 1697.5 969.1 1699.5 971.0 1701.5 971.1 1703.5 971.3 1705.4 971.5 1707.4 972.6 1709.4 974.5 1711.3 973.0 1713.3 974.1 1715.3 974.9 1717.2 975.0 1719.2 975.1 1721.2 974.8 1723.1 975.0 1725.1 974.6 1727.1 975.7 1729.1 975.2 1731.0 975.6 1733.0 976.6 1735.0 976.6 1736.9 977.8 1738.9 977.7 1740.9 978.2 1742.9 979.0 1744.8 979.6 1746.8 980.1 1748.8 980.9 1750.7 981.4 1752.7 981.7 1754.7 982.5 1756.7 982.9 1758.6 983.4 1760.6 983.3 1762.6 983.5 1764.5 983.8 1766.5 984.8 1768.5 984.8 1770.5 984.4 1772.4 984.1 1774.4 985.0 1776.4 985.8 1778.4 986.5 1780.3 986.6 1782.3 986.4 1784.3 987.0 1786.3 987.7 1788.2 988.8 1790.2 988.3 1792.2 988.9 1794.1 988.1 1796.1 989.3 1798.1 989.2 1800.1 988.8 1802.0 989.1 1804.0 989.3 1806.0 990.1 1808.0 990.4 1809.9 990.9 1811.9 991.9 1813.9 992.3 1815.9 993.2 1817.9 993.1 1819.8 993.1 1821.8 993.3 1823.8 993.7 1825.8 994.2 1827.7 994.7 1829.7 994.9 1831.7 995.8 1833.7 996.6 1835.6 997.7 1837.6 998.5 1839.6 998.4 1841.6 999.2 1843.5 999.4 1845.5 998.7 1847.5 999.1 1849.5 997.3 1851.5 997.9 1853.4 997.6 1855.4 997.6 1857.4 997.5 1859.4 997.8 1861.3 998.8 1863.3 998.9 1865.3 999.8 1867.3 1000.0 1869.3 1001.9 1871.2 1001.4 1873.2 1001.3 1875.2 1001.3 1877.2 1001.2 1879.2 1002.3 1881.1 1003.4 1883.1 1003.0 1885.1 1003.2 1887.1 1004.0 1889.1 1003.5 1891.0 1003.7 1893.0 1003.4 1895.0 1003.7 1897.0 1003.3 1899.0 1003.1 1900.9 1003.4 1902.9 1004.5 1904.9 1005.0 1906.9 1005.6 1908.9 1006.7 1910.8 1006.1 1912.8 1007.1 1914.8 1006.1 1916.8 1007.1 1918.8 1006.9 1920.8 1007.3 1922.7 1007.4 1924.7 1008.8 1926.7 1008.4 1928.7 1009.2 1930.7 1008.7 1932.6 1009.4 1934.6 1009.4 1936.6 1009.5 1938.6 1010.2 1940.6 1011.0 1942.6 1011.9 1944.5 1011.7 1946.5 1011.4 1948.5 1012.7 1950.5 1012.1 1952.5 1012.8 1954.5 1012.2 1956.4 1013.0 1958.4 1013.5 1960.4 1013.7 1962.4 1014.5 1964.4 1013.8 1966.4 1014.7 1968.3 1013.4 1970.3 1014.4 1972.3 1014.1 1974.3 1013.9 1976.3 1013.1 1978.3 1014.4 1980.2 1014.4 1982.2 1015.0 1984.2 1015.8 1986.2 1017.0 1988.2 1016.6 1990.2 1016.5 1992.2 1017.2 1994.1 1018.3 1996.1 1018.1 1998.1 1018.6 2000.1 1019.9 2002.1 1019.2 2004.1 1019.3 2006.1 1019.0 2008.0 1019.0 2010.0 1019.2 2012.0 1019.9 2014.0 1020.7 2016.0 1019.8 2018.0 1020.4 2020.0 1020.9 2021.9 1020.3 2023.9 1021.1 2025.9 1021.1 2027.9 1021.8 2029.9 1021.7 2031.9 1021.9 2033.9 1021.5 2035.8 1022.5 2037.8 1022.8 2039.8 1023.3 2041.8 1023.3 2043.8 1024.6 2045.8 1023.9 2047.8 1025.0 2049.8 1025.3 2051.7 1026.7 2053.7 1027.4 2055.7 1027.1 2057.7 1027.6 2059.7 1027.7 2061.7 1026.8 2063.7 1027.3 2065.6 1027.6 2067.6 1027.8 2069.6 1027.6 2071.6 1028.0 2073.6 1029.8 2075.6 1029.8 2077.6 1029.1 2079.6 1029.2 2081.5 1028.0 2083.5 1028.3 2085.5 1028.2 2087.5 1028.6 2089.5 1028.8 2091.5 1029.3 2093.5 1028.3 2095.5 1028.7 2097.5 1028.3 2099.4 1029.0 2101.4 1028.7 2103.4 1030.2 2105.4 1030.2 2107.4 1030.1 2109.4 1030.0 2111.4 1030.4 2113.4 1030.2 2115.3 1029.8 2117.3 1030.1 2119.3 1031.1 2121.3 1031.1 2123.3 1031.3 2125.3 1033.0 2127.3 1034.2 2129.3 1034.1 2131.2 1034.0 2133.2 1034.5 2135.2 1035.3 2137.2 1035.6 2139.2 1035.7 2141.2 1036.0 2143.2 1036.4 2145.2 1036.6 2147.1 1036.0 2149.1 1035.3 2151.1 1036.2 2153.1 1036.1 2155.1 1036.3 2157.1 1035.3 2159.1 1035.4 2161.1 1035.3 2163.1 1035.9 2165.0 1037.4 2167.0 1038.8 2169.0 1038.4 2171.0 1039.3 2173.0 1040.2 2175.0 1040.0 2177.0 1041.0 2179.0 1041.8 2180.9 1040.8 2182.9 1042.0 2184.9 1042.1 2186.9 1041.9 2188.9 1041.6 2190.9 1040.7 2192.9 1041.4 2194.9 1040.0 2196.8 1040.6 2198.8 1041.6 2200.8 1041.7 2202.8 1042.1 2204.8 1042.3 2206.8 1042.6 2208.8 1042.1 2210.8 1043.4 2212.7 1043.0 2214.7 1042.9 2216.7 1043.4 2218.7 1043.5 2220.7 1044.3 2222.7 1044.2 2224.7 1044.8 2226.7 1045.0 2228.6 1045.9 2230.6 1046.8 2232.6 1047.4 2234.6 1049.0 2236.6 1048.7 2238.6 1048.6 2240.6 1049.2 2242.6 1049.5 2244.6 1049.1 2246.5 1048.2 2248.5 1048.3 2250.5 1048.9 2252.5 1047.7 2254.5 1048.0 2256.5 1047.8 2258.5 1048.3 2260.5 1048.4 2262.4 1049.1 2264.4 1050.0 2266.4 1049.7 2268.4 1052.1 2270.4 1051.7 2272.4 1051.7 2274.4 1052.6 2276.4 1052.4 2278.4 1052.5 2280.3 1052.4 2282.3 1052.4 2284.3 1052.3 2286.3 1052.5 2288.3 1052.7 2290.3 1052.6 2292.3 1053.0 2294.3 1052.8 2296.3 1053.4 2298.3 1053.8 2300.2 1053.6 2302.2 1053.8 2304.2 1054.9 2306.2 1054.3 2308.2 1054.7 2310.2 1054.5 2312.2 1054.2 2314.2 1054.3 2316.2 1055.1 2318.2 1055.2 2320.2 1055.7 2322.1 1056.3 2324.1 1057.6 2326.1 1057.5 2328.1 1057.6 2330.1 1057.2 2332.1 1056.0 2334.1 1056.8 2336.1 1057.3 2338.1 1056.4 2340.1 1056.7 2342.1 1055.7 2344.1 1056.7 2346.1 1057.1 2348.1 1057.6 2350.1 1057.4 2352.0 1058.0 2354.0 1057.5 2356.0 1058.3 2358.0 1058.9 2360.0 1059.7 2362.0 1060.2 2364.0 1059.8 2366.0 1061.0 2368.0 1062.0 2370.0 1061.6" fill="none" stroke="#ff00ff" stroke-width="14.0" stroke-linejoin="round" stroke-linecap="butt"/>
<path d="M421.0 354.8 L423.0 333.5 L425.0 354.8" fill="none" stroke="#ff00ff" stroke-width="9" stroke-linejoin="round" stroke-linecap="round"/>
<path d="M334.6 72.5L334.6 74.5 334.5 76.5 334.5 78.5 334.5 80.5 334.5 82.4 334.5 84.4 334.4 86.4 334.4 88.4 334.4 90.4 334.4 92.4 334.4 94.4 334.4 96.4 334.4 98.4 334.4 100.4 334.4 102.4 334.5 104.4 334.5 106.4 334.5 108.4 334.5 110.4 334.5 112.4 334.6 114.4 334.6 116.4 334.6 118.4 334.7 120.4 334.7 122.4 334.8 124.4 334.8 126.4 334.9 128.4 334.9 130.4 335.0 132.4 335.0 134.4 335.1 136.4 335.2 138.4 335.3 140.4 335.3 142.4 335.4 144.5 335.5 146.5 335.6 148.5 335.7 150.5 335.8 152.5 335.9 154.5 336.0 156.5 336.1 158.5 336.2 160.5 336.3 162.5 336.5 164.5 336.6 166.5 336.7 168.5 336.8 170.5 337.0 172.5 337.1 174.5 337.3 176.5 337.4 178.6 337.6 180.6 337.7 182.6 337.9 184.6 338.1 186.6 338.2 188.6 338.4 190.6 338.6 192.6 338.8 194.6 339.0 196.6 339.2 198.6 339.4 200.6 339.6 202.6 339.8 204.6 340.0 206.6 340.2 208.6 340.4 210.6 340.7 212.6 340.9 214.6 341.1 216.6 341.4 218.5 341.6 220.5 341.9 222.5 342.1 224.5 342.4 226.5 342.7 228.5 342.9 230.5 343.2 232.5 343.5 234.5 343.8 236.4 344.1 238.4 344.4 240.4 344.7 242.4 345.0 244.4 345.3 246.4 345.6 248.3 345.9 250.3 346.3 252.3 346.6 254.3 346.9 256.2 347.3 258.2 347.6 260.2 348.0 262.1 348.3 264.1 348.7 266.1 349.1 268.0 349.5 270.0 349.8 272.0 350.2 273.9 350.6 275.9 351.0 277.9 351.4 279.8 351.9 281.8 352.3 283.7 352.7 285.7 353.1 287.6 353.6 289.6 354.0 291.5 354.4 293.5 354.9 295.4 355.4 297.3 355.8 299.3 356.3 301.2 356.8 303.2 357.3 305.1 357.7 307.0 358.2 308.9 358.7 310.9 359.3 312.8 359.8 314.7 360.3 316.6 360.8 318.6 361.4 320.5 361.9 322.4 362.4 324.3 363.0 326.2 363.6 328.1 364.1 330.0 364.7 331.9 365.3 333.8 365.9 335.7 366.5 337.6 367.1 339.5 367.7 341.4 368.3 343.3 368.9 345.2 369.5 347.1 370.2 349.0 370.8 350.9 371.4 352.7 372.1 354.6 372.7 356.5 373.4 358.4 374.1 360.2 374.8 362.1 375.4 364.0 376.1 365.8 376.8 367.7 377.5 369.5 378.2 371.4 379.0 373.2 379.7 375.1 380.4 376.9 381.1 378.8 381.9 380.6 382.6 382.5 383.4 384.3 384.1 386.2 384.9 388.0 385.7 389.8 386.4 391.7 387.2 393.5 388.0 395.3 388.8 397.1 389.6 399.0 390.4 400.8 391.2 402.6 392.0 404.4 392.8 406.2 393.6 408.1 394.5 409.9 395.3 411.7 396.1 413.5 397.0 415.3 397.8 417.1 398.7 418.9 399.5 420.7 400.4 422.5 401.2 424.3 402.1 426.1 403.0 427.9 403.9 429.7 404.7 431.5 405.6 433.3 406.5 435.0 407.4 436.8 408.3 438.6 409.2 440.4 410.1 442.2 411.0 443.9 412.0 445.7 412.9 447.5 413.8 449.3 414.7 451.0 415.7 452.8 416.6 454.6 417.6 456.3 418.5 458.1 419.5 459.9 420.4 461.6 421.4 463.4 422.3 465.1 423.3 466.9 424.3 468.7 425.2 470.4 426.2 472.2 427.2 473.9 428.2 475.7 429.1 477.4 430.1 479.2 431.1 480.9 432.1 482.7 433.1 484.4 434.1 486.1 435.1 487.9 436.1 489.6 437.1 491.4 438.1 493.1 439.2 494.8 440.2 496.6 441.2 498.3 442.2 500.0 443.2 501.7 444.3 503.5 445.3 505.2 446.3 506.9 447.4 508.7 448.4 510.4 449.4 512.1 450.5 513.8 451.5 515.6 452.6 517.3 453.6 519.0 454.7 520.7 455.7 522.4 456.8 524.2 457.8 525.9 458.9 527.6 460.0 529.3 461.0 531.0 462.1 532.7 463.2 534.4 464.2 536.1 465.3 537.8 466.4 539.5 467.4 541.3 468.5 543.0 469.6 544.7 470.7 546.4 471.8 548.1 472.8 549.9 473.9 551.6 475.0 553.2 476.1 555.0 477.2 556.6 478.3 558.3 479.4 560.0 480.5 561.6 481.6 563.4 482.7 565.1 483.8 566.7 484.9 568.4 486.0 570.2 487.1 571.8 488.2 573.4 489.3 575.1 490.4 576.8 491.5 578.5 492.6 580.0 493.8 581.7 494.9 583.4 496.0 585.0 497.1 586.7 498.3 588.4 499.4 590.1 500.5 591.8 501.6 593.6 502.8 595.2 503.9 596.9 505.1 598.5 506.2 600.2 507.3 601.8 508.5 603.5 509.6 605.0 510.8 606.7 511.9 608.3 513.1 610.0 514.2 611.6 515.4 613.4 516.5 615.2 517.7 616.7 518.9 618.4 520.0 620.0 521.2 621.9 522.4 623.5 523.5 625.3 524.7 626.8 525.9 628.4 527.1 630.1 528.2 631.6 529.4 633.1 530.6 634.6 531.8 636.2 533.0 637.6 534.2 639.3 535.4 641.1 536.5 642.8 537.7 644.5 538.9 646.2 540.1 647.9 541.3 649.5 542.5 651.3 543.7 652.7 545.0 654.5 546.2 656.1 547.4 657.6 548.6 659.0 549.8 660.6 551.0 662.3 552.2 663.7 553.5 665.3 554.7 666.9 555.9 668.7 557.1 670.3 558.4 671.9 559.6 673.4 560.9 675.0 562.1 676.6 563.3 678.1 564.6 679.8 565.8 681.4 567.1 682.6 568.3 684.4 569.6 685.8 570.8 687.5 572.1 689.0 573.3 690.8 574.6 692.2 575.9 693.9 577.1 695.6 578.4 696.9 579.7 698.5 580.9 700.3 582.2 701.6 583.5 703.2 584.8 704.8 586.0 706.3 587.3 708.1 588.6 709.3 589.9 711.1 591.2 712.4 592.5 714.2 593.8 715.4 595.1 716.8 596.4 718.4 597.7 719.9 599.0 721.4 600.3 722.7 601.6 724.1 602.9 725.4 604.2 727.0 605.5 728.3 606.8 729.9 608.2 731.4 609.5 732.8 610.8 734.4 612.1 735.7 613.5 737.4 614.8 738.9 616.1 740.3 617.5 741.7 618.8 743.3 620.1 744.8 621.5 746.0 622.8 747.8 624.2 749.3 625.5 751.1 626.9 752.5 628.2 754.4 629.6 755.9 631.0 757.0 632.3 758.5 633.7 759.9 635.1 761.2 636.4 762.7 637.8 764.5 639.2 766.0 640.5 767.5 641.9 769.0 643.3 770.7 644.7 771.7 646.1 773.8 647.5 775.3 648.9 776.7 650.3 778.3 651.7 779.0 653.1 780.6 654.5 782.2 655.9 783.1 657.3 784.4 658.7 785.4 660.1 787.3 661.5 788.3 662.9 789.9 664.4 790.7 665.8 792.1 667.2 793.4 668.6 795.4 670.1 796.3 671.5 797.8 672.9 799.3 674.4 800.4 675.8 802.0 677.3 803.3 678.7 805.2 680.1 806.6 681.6 807.7 683.0 808.8 684.5 810.8 686.0 812.5 687.4 814.1 688.9 814.9 690.4 816.7 691.8 817.9 693.3 819.1 694.8 820.7 696.3 821.9 697.7 823.4 699.2 824.5 700.7 826.5 702.2 827.3 703.7 828.4 705.2 829.3 706.7 830.2 708.2 831.5 709.7 832.9 711.2 833.3 712.7 835.3 714.2 836.5 715.7 837.5 717.2 838.8 718.7 840.1 720.3 841.7 721.8 843.3 723.3 844.2 724.8 845.7 726.4 847.9 727.9 849.2 729.4 850.7 731.0 852.7 732.5 852.9 734.1 854.3 735.6 855.6 737.2 855.8 738.7 857.2 740.3 858.6 741.8 859.4 743.4 860.6 745.0 861.4 746.5 863.0 748.1 864.2 749.7 863.9 751.2 866.6 752.8 867.5 754.4 869.0 756.0 870.4 757.6 872.1 759.2 873.3 760.8 874.7 762.3 875.4 763.9 876.7 765.5 878.5 767.2 878.8 768.8 879.9 770.4 881.0 772.0 882.6 773.6 883.1 775.2 884.3 776.8 885.7 778.5 886.2 780.1 886.7 781.7 888.4 783.3 888.6 785.0 889.6 786.6 890.5 788.3 892.1 789.9 894.0 791.6 895.5 793.2 897.9 794.9 899.1 796.5 900.3 798.2 901.5 799.8 904.1 801.5 904.3 803.2 904.8 804.8 906.3 806.5 906.3 808.2 908.4 809.9 909.0 811.5 909.8 813.2 911.1 814.9 911.9 816.6 912.8 818.3 913.1 820.0 913.7 821.7 915.7 823.4 916.6 825.1 917.4 826.8 919.5 828.5 920.5 830.2 922.4 831.9 923.3 833.6 925.2 835.4 925.7 837.1 926.6 838.8 927.2 840.5 928.7 842.3 929.4 844.0 930.9 845.7 931.2 847.5 931.8 849.2 933.5 850.9 934.5 852.7 935.3 854.4 935.1 856.2 936.3 857.9 937.1 859.7 937.9 861.4 939.2 863.2 939.9 864.9 939.7 866.7 940.8 868.5 941.9 870.2 942.2 872.0 943.8 873.8 944.5 875.5 946.4 877.3 947.3 879.1 948.9 880.9 949.8 882.6 950.7 884.4 951.5 886.2 953.0 888.0 953.9 889.8 954.3 891.6 955.0 893.4 956.3 895.2 957.6 897.0 958.5 898.8 959.6 900.6 960.6 902.4 961.9 904.2 963.6 906.0 963.5 907.8 965.0 909.6 965.5 911.4 965.7 913.2 966.1 915.0 966.6 916.8 966.8 918.6 968.9 920.5 969.7 922.3 970.5 924.1 970.9 925.9 972.5 927.8 973.2 929.6 974.7 931.4 975.9 933.2 975.9 935.1 977.9 936.9 978.2 938.8 979.0 940.6 980.5 942.4 980.6 944.3 981.0 946.1 981.7 948.0 983.5 949.8 983.6 951.6 983.7 953.5 984.9 955.3 985.8 957.2 986.3 959.0 986.6 960.9 988.1 962.8 988.8 964.6 988.9 966.5 989.9 968.3 990.6 970.2 990.9 972.0 991.8 973.9 993.4 975.8 993.8 977.6 994.4 979.5 996.0 981.4 997.0 983.2 998.2 985.1 999.3 987.0 999.3 988.8 1000.4 990.7 1000.8 992.6 1001.4 994.5 1001.5 996.3 1001.2 998.2 1001.8 1000.1 1001.5 1002.0 1001.4 1003.9 1003.5 1005.7 1004.3 1007.6 1005.0 1009.5 1005.5 1011.4 1006.5 1013.3 1006.9 1015.2 1007.7 1017.0 1008.8 1018.9 1010.6 1020.8 1011.2 1022.7 1011.7 1024.6 1013.4 1026.5 1014.5 1028.4 1015.5 1030.3 1016.7 1032.2 1016.6 1034.1 1017.7 1036.0 1017.6 1037.8 1017.4 1039.7 1017.7 1041.6 1018.2 1043.5 1018.9 1045.4 1019.2 1047.3 1020.0 1049.2 1020.1 1051.1 1021.3 1053.0 1021.4 1054.9 1022.6 1056.8 1023.5 1058.7 1024.3 1060.6 1025.0 1062.5 1025.2 1064.4 1025.4 1066.3 1026.1 1068.2 1026.3 1070.2 1026.0 1072.1 1027.3 1074.0 1027.4 1075.9 1028.3 1077.8 1028.2 1079.7 1029.2 1081.6 1029.8 1083.5 1030.5 1085.4 1032.3 1087.3 1032.0 1089.2 1032.9 1091.1 1033.6 1093.0 1033.5 1094.9 1034.5 1096.8 1033.8 1098.8 1034.0 1100.7 1034.6 1102.6 1034.4 1104.5 1034.8 1106.4 1036.0 1108.3 1037.0 1110.2 1036.3 1112.1 1038.1 1114.0 1039.3 1115.9 1039.8 1117.9 1041.2 1119.8 1042.4 1121.7 1042.6 1123.6 1043.1 1125.5 1043.6 1127.4 1042.8 1129.3 1043.3 1131.2 1043.2 1133.1 1044.4 1135.1 1045.5 1137.0 1044.8 1138.9 1045.3 1140.8 1047.1 1142.7 1046.8 1144.6 1047.9 1146.5 1048.3 1148.5 1047.9 1150.4 1049.8 1152.3 1050.4 1154.2 1051.7 1156.1 1051.2 1158.0 1051.8 1159.9 1053.1 1161.8 1053.2 1163.8 1053.6 1165.7 1054.7 1167.6 1054.0 1169.5 1055.3 1171.4 1056.4 1173.3 1056.6 1175.3 1057.3 1177.2 1058.0 1179.1 1058.7 1181.0 1059.0 1182.9 1059.6 1184.9 1058.9 1186.8 1059.7 1188.7 1061.2 1190.6 1061.3 1192.5 1062.1 1194.5 1063.8 1196.4 1065.2 1198.3 1065.9 1200.2 1067.4 1202.2 1067.7 1204.1 1068.0 1206.0 1068.2 1208.0 1068.4 1209.9 1069.7 1211.8 1069.5 1213.8 1070.2 1215.7 1069.8 1217.6 1070.9 1219.6 1071.0 1221.5 1071.6 1223.4 1072.4 1225.4 1073.6 1227.3 1073.1 1229.3 1074.2 1231.2 1075.8 1233.2 1076.5 1235.1 1076.7 1237.1 1078.0 1239.0 1079.3 1241.0 1078.1 1242.9 1080.2 1244.9 1080.1 1246.8 1080.2 1248.8 1079.8 1250.7 1079.6 1252.7 1079.8 1254.7 1080.8 1256.6 1080.6 1258.6 1079.7 1260.5 1080.5 1262.5 1081.4 1264.5 1081.6 1266.4 1081.1 1268.4 1082.2 1270.4 1082.5 1272.3 1082.7 1274.3 1083.3 1276.3 1083.6 1278.2 1083.3 1280.2 1083.5 1282.2 1085.1 1284.2 1085.5 1286.1 1085.6 1288.1 1086.2 1290.1 1086.8 1292.0 1086.1 1294.0 1086.8 1296.0 1086.6 1298.0 1087.3 1299.9 1087.7 1301.9 1087.9 1303.9 1088.7 1305.9 1089.6 1307.9 1089.9 1309.8 1089.0 1311.8 1090.3 1313.8 1089.4 1315.8 1090.1 1317.7 1090.3 1319.7 1090.2 1321.7 1090.7 1323.7 1090.6 1325.6 1091.4 1327.6 1090.9 1329.6 1091.3 1331.6 1091.0 1333.6 1091.9 1335.5 1091.6 1337.5 1093.0 1339.5 1092.2 1341.5 1092.7 1343.4 1093.5 1345.4 1094.6 1347.4 1095.1 1349.4 1095.1 1351.3 1096.7 1353.3 1097.2 1355.3 1096.7 1357.3 1096.8 1359.2 1096.8 1361.2 1097.1 1363.2 1097.3 1365.2 1099.2 1367.1 1097.8 1369.1 1099.4 1371.1 1099.5 1373.0 1100.5 1375.0 1099.8 1377.0 1101.6 1378.9 1100.4 1380.9 1101.0 1382.9 1101.5 1384.8 1101.3 1386.8 1101.1 1388.7 1102.7 1390.7 1102.1 1392.7 1102.7 1394.6 1102.8 1396.6 1103.4 1398.5 1105.7 1400.5 1104.4 1402.5 1105.4 1404.4 1106.6 1406.4 1106.8 1408.3 1106.9 1410.3 1107.8 1412.2 1108.5 1414.2 1109.2 1416.1 1109.3 1418.1 1109.6 1420.0 1110.6 1422.0 1110.1 1423.9 1110.3 1425.9 1110.7 1427.8 1110.9 1429.8 1111.0 1431.7 1111.0 1433.7 1111.6 1435.6 1111.3 1437.6 1110.9 1439.5 1111.2 1441.5 1112.2 1443.4 1112.8 1445.4 1113.2 1447.3 1114.1 1449.3 1115.2 1451.2 1115.9 1453.2 1117.0 1455.1 1116.7 1457.1 1118.2 1459.1 1117.9 1461.0 1118.0 1463.0 1118.8 1464.9 1118.3 1466.9 1118.5 1468.8 1118.6 1470.8 1118.0 1472.8 1118.9 1474.7 1119.1 1476.7 1120.6 1478.7 1121.4 1480.6 1121.9 1482.6 1123.5 1484.6 1123.3 1486.5 1122.3 1488.5 1124.2 1490.5 1124.6 1492.4 1125.8 1494.4 1126.4 1496.4 1127.0 1498.4 1127.9 1500.3 1128.5 1502.3 1128.2 1504.3 1128.2 1506.3 1127.8 1508.2 1128.4 1510.2 1129.0 1512.2 1129.4 1514.2 1129.6 1516.2 1128.5 1518.1 1129.1 1520.1 1129.5 1522.1 1128.9 1524.1 1129.0 1526.1 1129.4 1528.0 1130.1 1530.0 1129.9 1532.0 1130.7 1534.0 1130.8 1536.0 1131.5 1538.0 1132.4 1540.0 1132.0 1542.0 1132.7 1543.9 1133.7 1545.9 1133.9 1547.9 1133.6 1549.9 1133.0 1551.9 1132.1 1553.9 1132.7 1555.9 1131.9 1557.9 1131.3 1559.9 1130.9 1561.9 1132.2 1563.8 1131.9 1565.8 1133.3 1567.8 1134.2 1569.8 1134.1 1571.8 1134.2 1573.8 1134.3 1575.8 1134.8 1577.8 1135.0 1579.8 1134.9 1581.8 1134.9 1583.8 1136.4 1585.8 1136.5 1587.8 1138.4 1589.8 1137.5 1591.8 1138.2 1593.8 1138.6 1595.8 1138.4 1597.7 1138.7 1599.7 1138.8 1601.7 1140.0 1603.7 1139.8 1605.7 1139.0 1607.7 1138.9 1609.7 1139.3 1611.7 1138.8 1613.7 1139.1 1615.7 1138.7 1617.7 1138.6 1619.7 1138.6 1621.7 1136.6 1623.7 1137.1 1625.7 1136.8 1627.7 1137.6 1629.7 1137.4 1631.7 1138.5 1633.7 1138.7 1635.7 1137.9 1637.6 1139.2 1639.6 1139.4 1641.6 1140.0 1643.6 1140.2 1645.6 1140.5 1647.6 1140.7 1649.6 1140.4 1651.6 1140.5 1653.6 1142.4 1655.6 1141.7 1657.6 1141.8 1659.6 1141.7 1661.6 1141.2 1663.6 1141.5 1665.5 1141.3 1667.5 1140.9 1669.5 1140.5 1671.5 1140.7 1673.5 1140.1 1675.5 1141.1 1677.5 1141.4 1679.5 1141.7 1681.5 1141.9 1683.5 1143.2 1685.5 1143.3 1687.5 1143.3 1689.5 1143.0 1691.5 1143.3 1693.4 1142.5 1695.4 1142.5 1697.4 1142.4 1699.4 1142.4 1701.4 1141.6 1703.4 1142.3 1705.4 1141.9 1707.4 1144.2 1709.4 1144.0 1711.4 1144.4 1713.4 1145.8 1715.4 1145.5 1717.4 1145.1 1719.4 1144.9 1721.4 1145.4 1723.4 1144.3 1725.4 1143.2 1727.4 1143.4 1729.4 1144.2 1731.4 1143.7 1733.4 1144.4 1735.3 1144.8 1737.3 1145.1 1739.3 1145.2 1741.3 1146.0 1743.3 1145.7 1745.3 1146.4 1747.3 1146.4 1749.3 1146.5 1751.3 1146.4 1753.3 1145.5 1755.3 1146.0 1757.3 1144.7 1759.3 1144.7 1761.3 1146.0 1763.3 1145.8 1765.3 1145.6 1767.3 1145.1 1769.3 1146.0 1771.3 1145.8 1773.3 1145.0 1775.3 1145.6 1777.3 1145.6 1779.3 1146.9 1781.3 1147.6 1783.3 1148.3 1785.3 1148.1 1787.3 1147.6 1789.3 1149.0 1791.3 1148.9 1793.3 1148.6 1795.3 1148.9 1797.3 1148.0 1799.3 1148.5 1801.3 1149.0 1803.3 1148.7 1805.3 1149.0 1807.3 1147.8 1809.3 1149.3 1811.3 1149.2 1813.3 1148.6 1815.3 1148.4 1817.3 1148.9 1819.3 1149.8 1821.3 1149.7 1823.3 1150.4 1825.3 1150.5 1827.3 1150.0 1829.3 1149.9 1831.3 1150.6 1833.3 1150.0 1835.3 1150.0 1837.3 1149.4 1839.3 1148.9 1841.3 1150.1 1843.3 1150.5 1845.3 1150.0 1847.3 1150.0 1849.3 1151.2 1851.3 1150.3 1853.3 1150.4 1855.3 1150.6 1857.3 1150.7 1859.3 1150.9 1861.4 1150.5 1863.4 1152.3 1865.4 1152.7 1867.4 1153.9 1869.4 1153.4 1871.3 1153.1 1873.3 1153.7 1875.3 1152.9 1877.3 1153.3 1879.3 1153.4 1881.3 1152.1 1883.3 1152.6 1885.3 1153.2 1887.3 1153.0 1889.3 1153.8 1891.3 1154.3 1893.3 1154.6 1895.3 1154.9 1897.3 1155.0 1899.3 1154.4 1901.3 1153.8 1903.3 1153.7 1905.3 1153.1 1907.3 1153.7 1909.3 1153.0 1911.3 1152.5 1913.3 1152.6 1915.3 1153.6 1917.3 1154.0 1919.3 1153.8 1921.3 1154.6 1923.3 1155.3 1925.3 1155.9 1927.3 1155.7 1929.3 1155.3 1931.3 1156.1 1933.3 1156.7 1935.3 1155.6 1937.3 1156.9 1939.3 1157.2 1941.3 1156.9 1943.2 1157.4 1945.2 1157.8 1947.2 1158.3 1949.2 1158.0 1951.2 1157.2 1953.2 1158.7 1955.2 1158.6 1957.2 1158.8 1959.2 1159.5 1961.2 1159.8 1963.2 1160.3 1965.2 1160.4 1967.2 1160.1 1969.1 1161.3 1971.1 1160.6 1973.1 1160.4 1975.1 1160.8 1977.1 1160.2 1979.1 1161.1 1981.1 1161.5 1983.1 1161.6 1985.1 1161.5 1987.1 1162.3 1989.1 1163.4 1991.0 1161.5 1993.0 1161.9 1995.0 1161.7 1997.0 1161.3 1999.0 1161.8 2001.0 1160.9 2003.0 1161.5 2005.0 1162.2 2007.0 1161.6 2008.9 1163.1 2010.9 1163.8 2012.9 1163.5 2014.9 1163.5 2016.9 1162.5 2018.9 1163.4 2020.9 1163.1 2022.9 1163.1 2024.8 1162.8 2026.8 1162.8 2028.8 1162.3 2030.8 1161.7 2032.8 1162.0 2034.8 1160.9 2036.8 1161.4 2038.8 1161.2 2040.8 1161.0 2042.7 1159.9 2044.7 1160.7 2046.7 1159.9 2048.7 1160.4 2050.7 1160.1 2052.7 1161.2 2054.7 1160.6 2056.7 1159.9 2058.7 1159.4 2060.7 1158.6 2062.7 1158.2 2064.7 1157.4 2066.7 1157.1 2068.7 1156.8 2070.7 1157.2 2072.6 1156.6 2074.6 1156.5 2076.6 1157.3 2078.6 1157.1 2080.6 1156.9 2082.6 1158.6 2084.6 1157.8 2086.6 1158.3 2088.6 1157.9 2090.6 1158.7 2092.6 1157.5 2094.6 1158.3 2096.6 1158.8 2098.6 1157.5 2100.6 1157.8 2102.6 1157.3 2104.6 1156.5 2106.6 1157.4 2108.6 1157.4 2110.6 1156.8 2112.6 1157.0 2114.6 1156.8 2116.6 1157.4 2118.6 1158.1 2120.6 1157.7 2122.6 1158.8 2124.6 1157.3 2126.6 1157.2 2128.6 1157.2 2130.6 1157.4 2132.6 1157.6 2134.6 1158.6 2136.6 1158.8 2138.6 1159.5 2140.6 1160.0 2142.6 1161.3 2144.6 1160.2 2146.6 1160.7 2148.6 1161.4 2150.6 1160.3 2152.6 1160.2 2154.6 1158.7 2156.6 1158.0 2158.6 1157.5 2160.6 1157.3 2162.6 1156.9 2164.6 1157.7 2166.6 1158.0 2168.5 1158.5 2170.5 1160.0 2172.5 1161.0 2174.5 1162.1 2176.5 1162.8 2178.5 1163.3 2180.5 1163.5 2182.5 1163.3 2184.5 1163.6 2186.5 1164.1 2188.5 1164.2 2190.5 1165.3 2192.4 1164.8 2194.4 1165.7 2196.4 1165.1 2198.4 1165.4 2200.4 1165.8 2202.4 1164.9 2204.4 1165.0 2206.4 1164.6 2208.4 1165.1 2210.4 1164.0 2212.3 1164.2 2214.3 1164.3 2216.3 1164.0 2218.3 1164.8 2220.3 1164.9 2222.3 1165.8 2224.3 1166.1 2226.3 1166.5 2228.3 1166.3 2230.2 1166.9 2232.2 1167.7 2234.2 1167.9 2236.2 1167.8 2238.2 1168.2 2240.2 1169.0 2242.2 1169.8 2244.2 1170.7 2246.2 1170.7 2248.1 1170.1 2250.1 1170.4 2252.1 1171.5 2254.1 1170.8 2256.1 1170.6 2258.1 1170.3 2260.1 1170.9 2262.1 1170.7 2264.1 1171.0 2266.1 1170.1 2268.0 1170.4 2270.0 1170.8 2272.0 1170.8 2274.0 1171.4 2276.0 1172.0 2278.0 1172.2 2280.0 1172.1 2282.0 1172.4 2284.0 1171.5 2286.0 1172.1 2288.0 1171.3 2290.0 1172.2 2292.0 1172.5 2293.9 1171.6 2295.9 1172.2 2297.9 1172.1 2299.9 1171.8 2301.9 1171.7 2303.9 1171.9 2305.9 1171.8 2307.9 1170.6 2309.9 1170.7 2311.9 1170.2 2313.9 1170.8 2315.9 1171.3 2317.9 1171.6 2319.9 1171.3 2321.9 1172.5 2323.9 1171.4 2325.9 1171.0 2327.9 1170.4 2329.9 1170.5 2331.9 1170.1 2333.9 1169.8 2335.9 1169.8 2337.9 1169.0 2339.9 1169.4 2341.9 1170.3 2343.9 1168.1 2345.9 1168.1 2347.9 1167.6 2349.9 1166.6 2351.9 1166.3 2353.9 1166.2 2355.9 1165.5 2357.9 1166.3 2360.0 1165.4 2362.0 1166.2 2364.0 1165.8 2366.0 1164.7 2368.0 1164.0 2370.0 1162.9" fill="none" stroke="#808000" stroke-width="14.0" stroke-linejoin="round" stroke-linecap="butt"/>
<path d="M1268.0 1082.5 L1270.0 1070.5 L1272.0 1082.5" fill="none" stroke="#808000" stroke-width="9" stroke-linejoin="round" stroke-linecap="round"/>
<path d="M1818.0 1149.8 L1820.0 1132.5 L1822.0 1149.8" fill="none" stroke="#808000" stroke-width="9" stroke-linejoin="round" stroke-linecap="round"/>
<path d="M333.2 80.5L333.2 82.5 333.3 84.5 333.3 86.6 333.4 88.6 333.5 90.6 333.5 92.6 333.6 94.6 333.7 96.6 333.8 98.6 333.9 100.6 334.0 102.7 334.1 104.7 334.2 106.7 334.4 108.7 334.5 110.7 334.6 112.7 334.8 114.7 334.9 116.7 335.1 118.7 335.3 120.7 335.5 122.7 335.6 124.7 335.8 126.7 336.0 128.7 336.2 130.6 336.4 132.6 336.7 134.6 336.9 136.6 337.1 138.6 337.4 140.6 337.6 142.6 337.8 144.5 338.1 146.5 338.4 148.5 338.6 150.5 338.9 152.5 339.2 154.4 339.5 156.4 339.8 158.4 340.1 160.4 340.4 162.3 340.7 164.3 341.0 166.3 341.3 168.2 341.7 170.2 342.0 172.2 342.4 174.1 342.7 176.1 343.1 178.0 343.4 180.0 343.8 181.9 344.2 183.9 344.6 185.9 345.0 187.8 345.4 189.8 345.8 191.7 346.2 193.7 346.6 195.6 347.0 197.5 347.4 199.5 347.9 201.4 348.3 203.4 348.7 205.3 349.2 207.2 349.7 209.2 350.1 211.1 350.6 213.1 351.1 215.0 351.5 216.9 352.0 218.8 352.5 220.8 353.0 222.7 353.5 224.6 354.0 226.5 354.5 228.5 355.1 230.4 355.6 232.3 356.1 234.2 356.7 236.1 357.2 238.1 357.7 240.0 358.3 241.9 358.9 243.8 359.4 245.7 360.0 247.6 360.6 249.5 361.2 251.4 361.7 253.3 362.3 255.2 362.9 257.1 363.5 259.0 364.1 260.9 364.8 262.8 365.4 264.7 366.0 266.6 366.6 268.5 367.3 270.4 367.9 272.2 368.6 274.1 369.2 276.0 369.9 277.9 370.5 279.8 371.2 281.6 371.9 283.5 372.5 285.4 373.2 287.3 373.9 289.1 374.6 291.0 375.3 292.9 376.0 294.7 376.7 296.6 377.4 298.5 378.2 300.3 378.9 302.2 379.6 304.1 380.3 305.9 381.1 307.8 381.8 309.6 382.6 311.5 383.3 313.3 384.1 315.2 384.8 317.0 385.6 318.9 386.4 320.7 387.2 322.5 387.9 324.4 388.7 326.2 389.5 328.1 390.3 329.9 391.1 331.7 391.9 333.6 392.7 335.4 393.5 337.2 394.4 339.0 395.2 340.9 396.0 342.7 396.9 344.5 397.7 346.3 398.5 348.1 399.4 350.0 400.2 351.8 401.1 353.6 401.9 355.4 402.8 357.2 403.7 359.0 404.5 360.8 405.4 362.6 406.3 364.4 407.2 366.2 408.1 368.0 409.0 369.8 409.9 371.6 410.8 373.4 411.7 375.2 412.6 377.0 413.5 378.8 414.4 380.5 415.4 382.3 416.3 384.1 417.2 385.9 418.2 387.7 419.1 389.4 420.0 391.2 421.0 393.0 421.9 394.8 422.9 396.5 423.9 398.3 424.8 400.1 425.8 401.8 426.8 403.6 427.7 405.3 428.7 407.1 429.7 408.8 430.7 410.6 431.7 412.4 432.7 414.1 433.7 415.8 434.7 417.6 435.7 419.3 436.7 421.1 437.7 422.8 438.7 424.6 439.7 426.3 440.8 428.0 441.8 429.8 442.8 431.5 443.9 433.2 444.9 434.9 445.9 436.7 447.0 438.4 448.0 440.1 449.1 441.8 450.2 443.5 451.2 445.2 452.3 447.0 453.3 448.7 454.4 450.4 455.5 452.1 456.6 453.8 457.6 455.5 458.7 457.2 459.8 458.9 460.9 460.6 462.0 462.3 463.1 464.0 464.2 465.6 465.3 467.3 466.4 469.0 467.5 470.7 468.6 472.4 469.7 474.1 470.9 475.8 472.0 477.5 473.1 479.1 474.2 480.8 475.4 482.5 476.5 484.1 477.6 485.8 478.8 487.4 479.9 489.1 481.1 490.7 482.2 492.4 483.4 494.1 484.5 495.6 485.7 497.3 486.8 499.0 488.0 500.6 489.2 502.2 490.3 503.8 491.5 505.5 492.7 507.2 493.9 508.8 495.0 510.5 496.2 512.2 497.4 513.7 498.6 515.3 499.8 517.0 501.0 518.7 502.2 520.3 503.4 521.9 504.6 523.4 505.8 525.2 507.0 526.7 508.2 528.4 509.4 529.9 510.6 531.5 511.9 533.1 513.1 534.7 514.3 536.3 515.5 538.0 516.8 539.6 518.0 541.2 519.3 542.7 520.5 544.2 521.7 545.8 523.0 547.3 524.2 548.7 525.5 550.2 526.7 551.7 528.0 553.3 529.3 554.9 530.5 556.2 531.8 558.1 533.1 559.6 534.3 561.1 535.6 562.9 536.9 564.4 538.2 566.1 539.5 567.5 540.8 569.4 542.0 570.8 543.3 572.3 544.6 574.1 545.9 575.6 547.2 577.2 548.5 578.8 549.8 579.9 551.2 581.8 552.5 583.0 553.8 584.5 555.1 586.1 556.4 587.4 557.8 589.0 559.1 590.5 560.4 591.9 561.8 593.4 563.1 594.6 564.4 596.1 565.8 597.5 567.1 599.2 568.5 601.1 569.8 602.2 571.2 603.8 572.5 605.3 573.9 607.0 575.3 608.4 576.6 609.6 578.0 611.4 579.4 612.6 580.8 614.1 582.1 615.2 583.5 616.6 584.9 618.3 586.3 619.4 587.7 621.2 589.1 622.7 590.5 624.1 591.9 625.6 593.3 626.9 594.7 628.3 596.1 629.5 597.5 630.9 598.9 632.7 600.3 633.8 601.8 635.1 603.2 636.5 604.6 637.8 606.0 639.4 607.5 640.7 608.9 642.3 610.4 643.3 611.8 644.5 613.2 646.2 614.7 647.9 616.1 649.7 617.6 651.0 619.0 652.3 620.5 653.9 622.0 655.2 623.4 656.7 624.9 657.8 626.4 658.7 627.9 660.2 629.3 661.3 630.8 662.4 632.3 663.8 633.8 665.5 635.3 666.6 636.8 667.9 638.3 669.5 639.8 670.4 641.3 672.2 642.8 673.2 644.3 674.4 645.8 675.8 647.3 677.3 648.8 678.1 650.3 679.7 651.9 680.8 653.4 681.8 654.9 683.6 656.4 684.6 658.0 685.8 659.5 687.3 661.1 688.6 662.6 690.2 664.1 691.3 665.7 693.0 667.3 693.9 668.8 694.8 670.4 695.8 671.9 697.0 673.5 697.6 675.1 698.7 676.6 700.2 678.2 701.9 679.8 703.2 681.3 704.6 682.9 705.9 684.5 706.8 686.1 708.4 687.7 709.3 689.3 711.2 690.9 712.3 692.5 713.7 694.1 715.2 695.7 716.5 697.3 717.7 698.9 718.9 700.5 719.8 702.1 720.6 703.7 722.0 705.3 723.3 706.9 724.3 708.6 725.2 710.2 726.6 711.8 727.6 713.5 729.0 715.1 729.9 716.7 731.2 718.4 732.8 720.0 733.4 721.6 734.6 723.3 735.0 724.9 736.0 726.6 737.1 728.2 738.2 729.9 738.9 731.5 740.2 733.2 740.8 734.8 742.4 736.5 743.4 738.2 743.9 739.8 745.6 741.5 746.5 743.2 748.1 744.9 748.9 746.5 750.4 748.2 751.8 749.9 752.1 751.6 753.6 753.2 755.5 754.9 756.6 756.6 758.1 758.3 759.0 760.0 759.6 761.7 761.2 763.4 762.0 765.1 763.3 766.8 764.3 768.5 765.7 770.2 766.2 771.9 767.3 773.6 767.9 775.3 770.2 777.0 769.9 778.7 770.7 780.5 771.3 782.2 772.2 783.9 773.1 785.6 774.4 787.3 775.3 789.1 776.5 790.8 777.4 792.5 778.6 794.2 780.1 796.0 780.7 797.7 781.7 799.4 781.9 801.2 783.7 802.9 784.7 804.7 786.1 806.4 785.8 808.1 787.9 809.9 789.0 811.6 790.1 813.4 790.9 815.1 792.1 816.9 793.3 818.6 794.0 820.4 794.8 822.1 795.8 823.9 796.7 825.7 797.8 827.4 798.5 829.2 799.1 830.9 801.4 832.7 801.2 834.5 802.9 836.2 803.4 838.0 804.7 839.8 805.3 841.5 806.4 843.3 806.8 845.1 807.4 846.9 808.8 848.7 810.1 850.4 810.7 852.2 811.6 854.0 812.2 855.8 813.6 857.6 814.8 859.3 815.3 861.1 816.8 862.9 817.3 864.7 818.3 866.5 818.8 868.3 819.6 870.1 820.7 871.9 821.6 873.7 822.3 875.5 822.5 877.3 823.5 879.1 824.7 880.9 824.8 882.7 826.9 884.5 827.4 886.3 827.9 888.1 828.2 889.9 829.4 891.7 829.5 893.5 831.2 895.3 831.3 897.1 831.3 899.0 833.2 900.8 833.5 902.6 834.4 904.4 835.6 906.2 836.7 908.0 838.1 909.9 839.6 911.7 840.7 913.5 841.4 915.3 842.3 917.2 843.6 919.0 845.0 920.8 846.0 922.6 847.1 924.5 846.2 926.3 847.4 928.1 847.7 929.9 848.2 931.8 849.1 933.6 849.7 935.4 850.5 937.3 851.2 939.1 852.5 940.9 853.5 942.8 854.5 944.6 854.3 946.5 854.7 948.3 855.8 950.1 856.4 952.0 858.1 953.8 858.2 955.7 859.6 957.5 860.0 959.4 861.4 961.2 862.4 963.0 863.7 964.9 863.3 966.7 864.4 968.6 863.9 970.4 865.0 972.3 865.9 974.1 866.8 976.0 868.1 977.8 869.1 979.7 869.1 981.5 871.1 983.4 871.5 985.3 874.0 987.1 874.4 989.0 875.5 990.8 876.4 992.7 877.4 994.5 878.3 996.4 878.7 998.3 879.9 1000.1 880.3 1002.0 881.1 1003.8 881.3 1005.7 882.3 1007.6 882.3 1009.4 884.9 1011.3 883.7 1013.1 884.6 1015.0 886.0 1016.9 887.0 1018.7 887.0 1020.6 887.6 1022.5 888.7 1024.3 889.8 1026.2 890.8 1028.1 891.9 1029.9 893.2 1031.8 893.9 1033.7 893.8 1035.5 894.9 1037.4 895.5 1039.3 896.2 1041.1 896.0 1043.0 896.2 1044.9 897.5 1046.7 898.5 1048.6 898.2 1050.5 900.0 1052.3 900.3 1054.2 899.8 1056.1 899.5 1058.0 900.4 1059.8 901.0 1061.7 902.3 1063.6 902.4 1065.5 905.5 1067.3 906.8 1069.2 906.6 1071.1 907.2 1072.9 908.9 1074.8 909.9 1076.7 910.9 1078.6 911.1 1080.4 911.2 1082.3 910.8 1084.2 912.5 1086.1 913.3 1087.9 913.5 1089.8 914.5 1091.7 915.2 1093.6 915.8 1095.4 916.0 1097.3 917.3 1099.2 917.2 1101.0 919.0 1102.9 918.6 1104.8 919.9 1106.7 920.1 1108.6 921.4 1110.4 921.9 1112.3 923.0 1114.2 923.1 1116.1 923.3 1117.9 924.4 1119.8 924.8 1121.7 924.8 1123.6 925.8 1125.4 926.0 1127.3 927.6 1129.2 928.2 1131.1 929.1 1133.0 931.0 1134.8 930.6 1136.7 931.5 1138.6 932.3 1140.5 932.8 1142.3 933.5 1144.2 935.0 1146.1 935.9 1148.0 935.0 1149.9 937.0 1151.7 937.7 1153.6 938.4 1155.5 939.9 1157.4 939.7 1159.3 940.9 1161.2 940.7 1163.0 941.1 1164.9 941.9 1166.8 941.6 1168.7 942.4 1170.6 942.6 1172.5 943.4 1174.3 944.8 1176.2 945.3 1178.1 945.1 1180.0 945.6 1181.9 947.7 1183.8 946.8 1185.7 947.4 1187.5 948.7 1189.4 948.8 1191.3 949.7 1193.2 950.9 1195.1 951.6 1197.0 951.7 1198.9 953.1 1200.8 953.1 1202.7 953.8 1204.5 954.7 1206.4 955.2 1208.3 956.2 1210.2 956.7 1212.1 956.8 1214.0 957.8 1215.9 958.2 1217.8 958.9 1219.7 959.9 1221.6 961.2 1223.5 961.5 1225.4 962.6 1227.3 963.3 1229.2 963.1 1231.1 963.3 1233.0 963.8 1234.9 964.9 1236.8 965.8 1238.7 966.9 1240.6 966.4 1242.5 968.2 1244.4 969.2 1246.3 970.7 1248.2 970.5 1250.1 971.3 1252.0 971.4 1253.9 972.6 1255.8 973.2 1257.7 974.0 1259.6 974.7 1261.5 975.1 1263.4 976.4 1265.3 977.3 1267.2 978.1 1269.1 978.2 1271.0 979.1 1272.9 979.4 1274.8 978.4 1276.7 979.0 1278.7 978.7 1280.6 979.1 1282.5 980.0 1284.4 980.3 1286.3 981.6 1288.2 982.6 1290.1 982.6 1292.0 983.0 1293.9 983.6 1295.9 984.2 1297.8 984.9 1299.7 984.8 1301.6 985.9 1303.5 986.2 1305.4 987.7 1307.3 988.7 1309.3 989.8 1311.2 989.7 1313.1 989.8 1315.0 990.2 1316.9 991.3 1318.8 991.2 1320.8 991.4 1322.7 992.3 1324.6 992.4 1326.5 993.7 1328.4 994.9 1330.4 994.8 1332.3 995.9 1334.2 996.0 1336.1 997.5 1338.0 997.8 1340.0 998.1 1341.9 998.2 1343.8 1000.2 1345.7 999.1 1347.7 999.8 1349.6 1000.9 1351.5 1001.7 1353.4 1002.4 1355.4 1003.0 1357.3 1003.2 1359.2 1004.6 1361.1 1005.0 1363.1 1004.8 1365.0 1006.7 1366.9 1006.3 1368.8 1007.3 1370.8 1006.6 1372.7 1007.0 1374.6 1007.5 1376.6 1007.8 1378.5 1009.0 1380.4 1008.3 1382.4 1009.7 1384.3 1009.8 1386.2 1011.2 1388.2 1011.8 1390.1 1012.2 1392.0 1014.1 1393.9 1013.7 1395.9 1014.7 1397.8 1014.0 1399.8 1014.8 1401.7 1015.1 1403.6 1015.3 1405.6 1015.4 1407.5 1015.5 1409.4 1015.0 1411.4 1016.8 1413.3 1017.5 1415.2 1018.6 1417.2 1019.8 1419.1 1021.1 1421.0 1020.9 1423.0 1021.6 1424.9 1021.9 1426.9 1022.4 1428.8 1022.8 1430.7 1022.9 1432.7 1023.3 1434.6 1024.0 1436.6 1025.1 1438.5 1025.0 1440.4 1025.8 1442.4 1024.9 1444.3 1026.1 1446.3 1026.6 1448.2 1027.1 1450.2 1026.8 1452.1 1027.1 1454.0 1027.5 1456.0 1028.9 1457.9 1030.7 1459.9 1030.4 1461.8 1030.4 1463.8 1031.7 1465.7 1032.1 1467.6 1032.8 1469.6 1033.0 1471.5 1032.9 1473.5 1033.4 1475.4 1034.1 1477.4 1034.1 1479.3 1034.7 1481.3 1034.0 1483.2 1035.4 1485.2 1035.4 1487.1 1035.9 1489.1 1036.8 1491.0 1036.6 1493.0 1037.2 1494.9 1037.9 1496.9 1038.5 1498.8 1039.2 1500.8 1040.1 1502.7 1040.4 1504.7 1040.7 1506.6 1042.7 1508.6 1042.3 1510.5 1043.1 1512.5 1043.2 1514.4 1043.1 1516.4 1044.3 1518.3 1045.2 1520.3 1045.9 1522.2 1046.3 1524.2 1047.2 1526.1 1047.8 1528.1 1048.3 1530.0 1048.3 1532.0 1048.7 1533.9 1048.9 1535.9 1048.8 1537.9 1050.0 1539.8 1049.0 1541.8 1049.7 1543.7 1050.2 1545.7 1049.6 1547.6 1051.5 1549.6 1051.8 1551.5 1052.7 1553.5 1053.1 1555.5 1052.9 1557.4 1053.9 1559.4 1053.9 1561.3 1054.2 1563.3 1053.9 1565.2 1052.9 1567.2 1054.2 1569.2 1054.2 1571.1 1054.6 1573.1 1054.9 1575.0 1054.8 1577.0 1055.9 1579.0 1056.0 1580.9 1058.1 1582.9 1057.4 1584.8 1057.7 1586.8 1058.8 1588.8 1060.2 1590.7 1060.0 1592.7 1059.7 1594.6 1062.0 1596.6 1062.0 1598.6 1061.9 1600.5 1062.7 1602.5 1062.0 1604.5 1061.9 1606.4 1062.8 1608.4 1062.3 1610.3 1063.1 1612.3 1063.2 1614.3 1064.1 1616.2 1064.4 1618.2 1064.0 1620.2 1065.8 1622.1 1065.8 1624.1 1066.9 1626.1 1067.0 1628.0 1068.0 1630.0 1067.7 1632.0 1067.3 1633.9 1068.5 1635.9 1069.3 1637.9 1069.3 1639.8 1069.7 1641.8 1071.1 1643.8 1070.8 1645.7 1071.8 1647.7 1071.8 1649.7 1071.6 1651.6 1072.2 1653.6 1072.9 1655.6 1073.4 1657.5 1073.1 1659.5 1072.9 1661.5 1073.3 1663.4 1073.9 1665.4 1074.2 1667.4 1074.9 1669.3 1076.7 1671.3 1076.5 1673.3 1076.5 1675.3 1077.0 1677.2 1077.8 1679.2 1077.4 1681.2 1077.2 1683.1 1076.9 1685.1 1077.1 1687.1 1078.2 1689.1 1078.8 1691.0 1078.6 1693.0 1079.2 1695.0 1080.2 1696.9 1079.6 1698.9 1080.2 1700.9 1081.2 1702.9 1081.8 1704.8 1082.2 1706.8 1083.0 1708.8 1084.0 1710.7 1084.4 1712.7 1084.6 1714.7 1086.3 1716.7 1086.4 1718.6 1086.2 1720.6 1085.4 1722.6 1085.9 1724.6 1084.8 1726.5 1085.6 1728.5 1084.9 1730.5 1086.2 1732.5 1087.2 1734.4 1087.3 1736.4 1088.5 1738.4 1088.3 1740.4 1088.8 1742.3 1089.1 1744.3 1089.9 1746.3 1090.1 1748.3 1091.0 1750.2 1091.6 1752.2 1091.5 1754.2 1091.2 1756.2 1092.2 1758.1 1092.8 1760.1 1092.6 1762.1 1092.4 1764.1 1092.7 1766.1 1092.9 1768.0 1091.2 1770.0 1093.1 1772.0 1092.9 1774.0 1093.0 1775.9 1092.9 1777.9 1093.7 1779.9 1094.5 1781.9 1094.1 1783.9 1095.8 1785.8 1096.1 1787.8 1097.2 1789.8 1097.4 1791.8 1097.4 1793.8 1098.0 1795.7 1098.9 1797.7 1099.2 1799.7 1099.8 1801.7 1099.6 1803.6 1099.5 1805.6 1099.8 1807.6 1099.4 1809.6 1099.7 1811.6 1100.4 1813.5 1099.7 1815.5 1100.0 1817.5 1101.0 1819.5 1100.6 1821.5 1100.9 1823.5 1100.5 1825.4 1100.8 1827.4 1101.5 1829.4 1102.9 1831.4 1102.8 1833.4 1102.4 1835.3 1103.7 1837.3 1104.2 1839.3 1104.2 1841.3 1103.3 1843.3 1103.8 1845.2 1104.8 1847.2 1103.4 1849.2 1104.2 1851.2 1104.0 1853.2 1104.1 1855.2 1105.0 1857.1 1106.1 1859.1 1106.7 1861.1 1106.1 1863.1 1106.6 1865.1 1106.7 1867.1 1106.3 1869.0 1107.7 1871.0 1108.4 1873.0 1108.8 1875.0 1108.4 1877.0 1109.7 1879.0 1110.3 1880.9 1110.3 1882.9 1111.1 1884.9 1111.7 1886.9 1112.6 1888.9 1113.8 1890.9 1112.9 1892.8 1113.0 1894.8 1114.0 1896.8 1113.6 1898.8 1112.5 1900.8 1112.7 1902.8 1112.5 1904.7 1112.3 1906.7 1112.5 1908.7 1112.6 1910.7 1112.0 1912.7 1112.2 1914.7 1111.9 1916.7 1112.8 1918.6 1113.1 1920.6 1112.6 1922.6 1112.7 1924.6 1114.3 1926.6 1114.3 1928.6 1114.1 1930.5 1114.3 1932.5 1115.5 1934.5 1116.7 1936.5 1116.3 1938.5 1116.6 1940.5 1116.8 1942.5 1117.5 1944.4 1118.2 1946.4 1117.3 1948.4 1118.2 1950.4 1118.7 1952.4 1118.9 1954.4 1119.0 1956.4 1120.2 1958.3 1120.2 1960.3 1120.7 1962.3 1121.4 1964.3 1120.9 1966.3 1121.6 1968.3 1121.4 1970.3 1121.7 1972.2 1122.0 1974.2 1121.7 1976.2 1121.0 1978.2 1122.2 1980.2 1121.4 1982.2 1120.6 1984.2 1119.9 1986.2 1120.9 1988.1 1121.2 1990.1 1121.6 1992.1 1122.1 1994.1 1121.9 1996.1 1123.0 1998.1 1122.8 2000.1 1124.3 2002.0 1125.4 2004.0 1125.6 2006.0 1126.6 2008.0 1127.5 2010.0 1128.2 2012.0 1129.4 2014.0 1128.7 2016.0 1130.1 2017.9 1129.2 2019.9 1129.6 2021.9 1129.5 2023.9 1129.7 2025.9 1129.2 2027.9 1129.3 2029.9 1128.8 2031.9 1129.6 2033.8 1128.9 2035.8 1128.9 2037.8 1129.7 2039.8 1130.5 2041.8 1130.8 2043.8 1131.0 2045.8 1131.6 2047.8 1132.4 2049.7 1132.9 2051.7 1132.9 2053.7 1132.8 2055.7 1133.2 2057.7 1132.9 2059.7 1133.4 2061.7 1134.1 2063.7 1134.1 2065.6 1134.3 2067.6 1133.5 2069.6 1133.7 2071.6 1133.1 2073.6 1134.1 2075.6 1133.7 2077.6 1133.6 2079.6 1134.4 2081.5 1135.3 2083.5 1134.7 2085.5 1135.6 2087.5 1137.2 2089.5 1137.1 2091.5 1137.3 2093.5 1136.8 2095.5 1138.5 2097.5 1138.5 2099.4 1138.6 2101.4 1138.1 2103.4 1139.1 2105.4 1139.6 2107.4 1139.2 2109.4 1139.5 2111.4 1139.6 2113.4 1140.3 2115.3 1140.1 2117.3 1140.2 2119.3 1139.8 2121.3 1139.7 2123.3 1140.9 2125.3 1141.3 2127.3 1141.0 2129.3 1141.3 2131.3 1140.4 2133.2 1140.5 2135.2 1140.5 2137.2 1140.0 2139.2 1140.8 2141.2 1139.5 2143.2 1140.1 2145.2 1140.7 2147.2 1141.1 2149.2 1142.3 2151.1 1141.6 2153.1 1143.5 2155.1 1143.7 2157.1 1143.7 2159.1 1144.3 2161.1 1144.8 2163.1 1143.8 2165.1 1144.0 2167.1 1143.8 2169.0 1144.0 2171.0 1143.8 2173.0 1144.2 2175.0 1145.4 2177.0 1145.6 2179.0 1147.0 2181.0 1147.7 2183.0 1147.7 2185.0 1148.6 2187.0 1148.8 2188.9 1148.9 2190.9 1149.6 2192.9 1149.0 2194.9 1148.9 2196.9 1147.8 2198.9 1148.9 2200.9 1148.0 2202.9 1148.5 2204.9 1149.6 2206.8 1149.9 2208.8 1149.2 2210.8 1149.1 2212.8 1150.1 2214.8 1150.1 2216.8 1150.7 2218.8 1150.3 2220.8 1151.7 2222.8 1152.1 2224.8 1150.9 2226.7 1151.4 2228.7 1151.5 2230.7 1152.3 2232.7 1151.4 2234.7 1152.7 2236.7 1152.8 2238.7 1152.9 2240.7 1154.0 2242.7 1153.1 2244.6 1153.7 2246.6 1154.3 2248.6 1155.2 2250.6 1154.9 2252.6 1154.8 2254.6 1155.4 2256.6 1154.9 2258.6 1154.8 2260.6 1155.1 2262.6 1155.5 2264.5 1156.9 2266.5 1155.5 2268.5 1156.4 2270.5 1156.6 2272.5 1156.9 2274.5 1158.0 2276.5 1158.1 2278.5 1158.5 2280.5 1158.5 2282.5 1158.7 2284.4 1159.5 2286.4 1159.6 2288.4 1159.7 2290.4 1160.5 2292.4 1159.9 2294.4 1160.4 2296.4 1161.4 2298.4 1161.3 2300.4 1161.9 2302.3 1161.5 2304.3 1162.4 2306.3 1161.9 2308.3 1162.9 2310.3 1162.6 2312.3 1162.5 2314.3 1163.0 2316.3 1162.7 2318.3 1162.5 2320.3 1163.7 2322.2 1163.5 2324.2 1164.2 2326.2 1164.0 2328.2 1164.6 2330.2 1163.8 2332.2 1163.6 2334.2 1163.6 2336.2 1164.7 2338.2 1163.7 2340.2 1164.0 2342.1 1164.6 2344.1 1165.7 2346.1 1166.2 2348.1 1166.0 2350.1 1166.9 2352.1 1166.8 2354.1 1167.2 2356.1 1167.0 2358.1 1166.1 2360.1 1166.5 2362.0 1166.3 2364.0 1166.6 2366.0 1166.6 2368.0 1166.7 2370.0 1167.3" fill="none" stroke="#000080" stroke-width="14.0" stroke-linejoin="round" stroke-linecap="butt"/>
<path d="M333.9 132.0L334.0 134.0 334.1 135.9 334.1 137.9 334.2 139.9 334.3 141.9 334.3 143.9 334.4 145.8 334.5 147.8 334.5 149.8 334.6 151.8 334.6 153.8 334.7 155.7 334.7 157.7 334.8 159.7 334.8 161.7 334.9 163.7 334.9 165.7 335.0 167.7 335.0 169.7 335.0 171.7 335.1 173.7 335.1 175.7 335.1 177.6 335.2 179.6 335.2 181.6 335.2 183.6 335.2 185.6 335.3 187.6 335.3 189.6 335.3 191.6 335.3 193.6 335.3 195.6 335.4 197.6 335.4 199.6 335.4 201.6 335.4 203.7 335.4 205.7 335.5 207.7 335.5 209.7 335.5 211.7 335.5 213.7 335.5 215.7 335.5 217.7 335.5 219.7 335.5 221.7 335.6 223.7 335.6 225.7 335.6 227.8 335.6 229.8 335.6 231.8 335.6 233.8 335.6 235.8 335.6 237.8 335.6 239.8 335.7 241.8 335.7 243.9 335.7 245.9 335.7 247.9 335.7 249.9 335.7 251.9 335.7 253.9 335.8 255.9 335.8 258.0 335.8 260.0 335.8 262.0 335.8 264.0 335.9 266.0 335.9 268.0 335.9 270.0 335.9 272.1 336.0 274.1 336.0 276.1 336.0 278.1 336.0 280.1 336.1 282.1 336.1 284.1 336.1 286.2 336.2 288.2 336.2 290.2 336.3 292.2 336.3 294.2 336.3 296.2 336.4 298.2 336.4 300.3 336.5 302.3 336.5 304.3 336.6 306.3 336.7 308.3 336.7 310.3 336.8 312.3 336.8 314.3 336.9 316.4 337.0 318.4 337.1 320.4 337.1 322.4 337.2 324.4 337.3 326.4 337.4 328.4 337.5 330.4 337.5 332.4 337.6 334.4 337.7 336.4 337.8 338.4 337.9 340.5 338.0 342.5 338.1 344.5 338.3 346.5 338.4 348.5 338.5 350.5 338.6 352.5 338.7 354.5 338.9 356.5 339.0 358.5 339.1 360.5 339.3 362.5 339.4 364.5 339.6 366.5 339.7 368.4 339.9 370.4 340.0 372.4 340.2 374.4 340.4 376.4 340.5 378.4 340.7 380.4 340.9 382.4 341.1 384.4 341.3 386.4 341.5 388.3 341.7 390.3 341.9 392.3 342.1 394.3 342.3 396.3 342.5 398.3 342.8 400.2 343.0 402.2 343.2 404.2 343.5 406.2 343.7 408.1 344.0 410.1 344.2 412.1 344.5 414.1 344.8 416.0 345.0 418.0 345.3 420.0 345.6 421.9 345.9 423.9 346.2 425.8 346.5 427.8 346.8 429.8 347.1 431.7 347.4 433.7 347.8 435.6 348.1 437.6 348.4 439.5 348.8 441.5 349.1 443.4 349.5 445.4 349.8 447.3 350.2 449.3 350.6 451.2 351.0 453.2 351.4 455.1 351.8 457.0 352.2 459.0 352.6 460.9 353.0 462.8 353.4 464.8 353.8 466.7 354.3 468.6 354.7 470.6 355.2 472.5 355.6 474.4 356.1 476.3 356.6 478.2 357.1 480.2 357.5 482.1 358.0 484.0 358.5 485.9 359.1 487.8 359.6 489.7 360.1 491.6 360.6 493.5 361.2 495.4 361.7 497.3 362.3 499.2 362.9 501.1 363.4 503.0 364.0 504.9 364.6 506.8 365.2 508.7 365.8 510.6 366.4 512.5 367.0 514.3 367.6 516.2 368.3 518.1 368.9 520.0 369.5 521.8 370.2 523.7 370.9 525.6 371.5 527.5 372.2 529.3 372.9 531.2 373.6 533.0 374.2 534.9 374.9 536.8 375.6 538.6 376.4 540.5 377.1 542.3 377.8 544.2 378.5 546.0 379.3 547.9 380.0 549.7 380.8 551.5 381.5 553.4 382.3 555.2 383.0 557.1 383.8 558.9 384.6 560.7 385.4 562.5 386.2 564.4 387.0 566.2 387.8 568.0 388.6 569.8 389.4 571.7 390.2 573.5 391.0 575.3 391.9 577.1 392.7 578.9 393.5 580.7 394.4 582.5 395.2 584.3 396.1 586.1 397.0 587.9 397.8 589.7 398.7 591.5 399.6 593.3 400.5 595.1 401.4 596.9 402.3 598.7 403.2 600.4 404.1 602.2 405.0 604.0 405.9 605.8 406.8 607.6 407.8 609.3 408.7 611.1 409.6 612.9 410.6 614.6 411.5 616.4 412.5 618.2 413.4 619.9 414.4 621.7 415.3 623.4 416.3 625.2 417.3 626.9 418.3 628.7 419.2 630.4 420.2 632.2 421.2 633.9 422.2 635.7 423.2 637.4 424.2 639.1 425.2 640.9 426.2 642.6 427.2 644.3 428.3 646.0 429.3 647.8 430.3 649.5 431.3 651.2 432.4 652.9 433.4 654.6 434.5 656.3 435.5 658.1 436.6 659.8 437.6 661.5 438.7 663.2 439.7 664.9 440.8 666.6 441.9 668.3 442.9 670.0 444.0 671.6 445.1 673.3 446.2 675.0 447.3 676.7 448.3 678.4 449.4 680.1 450.5 681.7 451.6 683.4 452.7 685.1 453.8 686.7 455.0 688.4 456.1 690.1 457.2 691.8 458.3 693.4 459.4 695.1 460.6 696.8 461.7 698.4 462.8 700.0 464.0 701.7 465.1 703.4 466.3 705.0 467.4 706.7 468.6 708.3 469.7 709.9 470.9 711.6 472.0 713.2 473.2 714.8 474.4 716.4 475.5 718.1 476.7 719.7 477.9 721.3 479.1 722.9 480.3 724.5 481.5 726.1 482.6 727.7 483.8 729.4 485.0 731.0 486.2 732.6 487.4 734.1 488.7 735.7 489.9 737.4 491.1 738.9 492.3 740.6 493.5 742.1 494.8 743.8 496.0 745.3 497.2 747.0 498.5 748.5 499.7 750.1 500.9 751.6 502.2 753.2 503.4 754.8 504.7 756.3 505.9 757.9 507.2 759.4 508.5 760.9 509.7 762.6 511.0 764.0 512.3 765.6 513.5 767.2 514.8 768.7 516.1 770.4 517.4 771.8 518.7 773.3 519.9 774.8 521.2 776.3 522.5 778.1 523.8 779.5 525.1 780.9 526.4 782.6 527.7 784.1 529.1 785.7 530.4 787.1 531.7 788.7 533.0 790.3 534.3 791.7 535.7 793.2 537.0 794.8 538.3 796.1 539.7 797.7 541.0 799.3 542.3 800.7 543.7 802.1 545.0 803.3 546.4 804.9 547.7 806.3 549.1 807.7 550.4 809.2 551.8 810.6 553.2 812.2 554.5 813.8 555.9 815.3 557.3 817.0 558.7 818.4 560.0 819.6 561.4 821.2 562.8 822.6 564.2 824.2 565.6 825.6 567.0 827.0 568.4 828.3 569.8 829.8 571.2 831.2 572.6 832.7 574.0 834.3 575.4 835.5 576.8 836.8 578.2 838.0 579.6 839.5 581.0 841.2 582.5 842.5 583.9 844.3 585.3 845.7 586.8 847.2 588.2 848.7 589.6 849.9 591.1 851.6 592.5 853.0 594.0 854.4 595.4 855.6 596.9 857.1 598.3 858.1 599.8 859.6 601.2 860.8 602.7 862.6 604.1 863.6 605.6 865.2 607.1 866.4 608.6 867.7 610.0 869.1 611.5 870.2 613.0 871.6 614.5 872.6 616.0 873.8 617.4 875.1 618.9 876.6 620.4 878.0 621.9 879.5 623.4 880.9 624.9 882.5 626.4 884.1 627.9 885.2 629.4 886.9 630.9 888.2 632.4 889.2 634.0 890.3 635.5 891.4 637.0 892.6 638.5 894.3 640.0 895.6 641.6 896.6 643.1 897.7 644.6 899.5 646.2 900.6 647.7 902.2 649.2 903.2 650.8 905.0 652.3 906.4 653.9 907.2 655.4 908.6 657.0 910.0 658.5 910.9 660.1 912.2 661.6 913.7 663.2 914.9 664.8 916.2 666.3 918.0 667.9 919.2 669.5 920.5 671.0 921.7 672.6 923.2 674.2 924.2 675.8 925.6 677.3 927.0 678.9 928.1 680.5 929.6 682.1 930.4 683.7 931.5 685.3 932.7 686.9 933.5 688.5 934.8 690.1 935.2 691.7 937.0 693.3 938.0 694.9 939.1 696.5 940.4 698.1 941.3 699.7 942.7 701.3 944.0 702.9 945.6 704.5 946.2 706.2 947.7 707.8 948.8 709.4 949.7 711.0 951.6 712.6 952.0 714.3 953.5 715.9 954.4 717.5 956.1 719.2 956.9 720.8 957.9 722.5 958.9 724.1 960.7 725.7 961.0 727.4 962.2 729.0 963.5 730.7 964.7 732.3 966.5 734.0 967.0 735.6 968.7 737.3 969.8 739.0 971.1 740.6 972.7 742.3 974.0 744.0 974.8 745.6 975.6 747.3 977.4 749.0 977.7 750.6 979.2 752.3 981.0 754.0 981.6 755.7 983.3 757.3 984.8 759.0 985.5 760.7 987.7 762.4 987.5 764.1 988.5 765.8 989.5 767.5 990.5 769.2 991.4 770.9 992.6 772.5 993.9 774.2 994.3 775.9 996.0 777.6 997.1 779.4 998.1 781.1 998.7 782.8 999.9 784.5 1000.4 786.2 1002.5 787.9 1003.3 789.6 1004.5 791.3 1005.6 793.0 1006.7 794.8 1007.1 796.5 1008.5 798.2 1009.2 799.9 1009.4 801.7 1010.4 803.4 1010.7 805.1 1011.3 806.9 1012.0 808.6 1012.9 810.3 1014.4 812.1 1015.3 813.8 1016.6 815.5 1018.3 817.3 1018.8 819.0 1020.1 820.8 1021.1 822.5 1021.0 824.3 1022.7 826.0 1023.7 827.8 1024.3 829.5 1025.5 831.3 1026.5 833.0 1028.1 834.8 1030.2 836.5 1030.6 838.3 1032.0 840.1 1033.4 841.8 1034.9 843.6 1035.2 845.4 1036.5 847.1 1037.0 848.9 1038.0 850.7 1038.8 852.4 1040.0 854.2 1040.1 856.0 1041.1 857.8 1041.9 859.5 1042.9 861.3 1043.6 863.1 1044.0 864.9 1044.8 866.7 1046.0 868.5 1046.4 870.2 1047.1 872.0 1048.0 873.8 1048.3 875.6 1048.1 877.4 1049.3 879.2 1049.4 881.0 1049.9 882.8 1051.1 884.6 1051.8 886.4 1052.4 888.2 1054.1 890.0 1055.4 891.8 1057.0 893.6 1057.9 895.4 1058.8 897.2 1060.8 899.0 1061.9 900.9 1063.6 902.7 1064.4 904.5 1065.8 906.3 1065.8 908.1 1067.5 909.9 1068.0 911.8 1070.9 913.6 1070.6 915.4 1071.1 917.2 1072.3 919.1 1073.0 920.9 1073.1 922.7 1074.1 924.5 1074.1 926.4 1074.5 928.2 1074.9 930.0 1075.6 931.9 1076.8 933.7 1077.6 935.5 1078.6 937.4 1079.0 939.2 1079.9 941.1 1079.6 942.9 1080.9 944.7 1082.4 946.6 1082.4 948.4 1082.2 950.3 1083.5 952.1 1084.6 954.0 1085.7 955.8 1086.7 957.7 1087.5 959.5 1088.4 961.4 1089.5 963.2 1090.3 965.1 1090.4 966.9 1092.2 968.8 1092.4 970.7 1093.6 972.5 1094.5 974.4 1095.2 976.2 1095.9 978.1 1095.4 980.0 1094.8 981.8 1095.7 983.7 1096.1 985.6 1096.2 987.4 1096.2 989.3 1098.1 991.2 1099.1 993.1 1099.4 994.9 1101.6 996.8 1102.0 998.7 1103.9 1000.6 1104.5 1002.4 1105.6 1004.3 1106.3 1006.2 1106.4 1008.1 1107.7 1010.0 1107.9 1011.8 1108.1 1013.7 1108.2 1015.6 1109.4 1017.5 1109.9 1019.4 1110.7 1021.3 1111.4 1023.2 1110.6 1025.1 1112.0 1026.9 1111.6 1028.8 1112.0 1030.7 1113.1 1032.6 1114.0 1034.5 1115.2 1036.4 1115.9 1038.3 1117.1 1040.2 1118.6 1042.1 1118.2 1044.0 1120.0 1045.9 1119.7 1047.8 1120.1 1049.7 1120.8 1051.6 1120.0 1053.5 1120.9 1055.4 1121.9 1057.3 1123.0 1059.2 1123.1 1061.1 1124.1 1063.0 1124.9 1065.0 1125.8 1066.9 1126.1 1068.8 1127.1 1070.7 1128.0 1072.6 1128.6 1074.5 1128.9 1076.4 1128.1 1078.3 1129.4 1080.3 1130.5 1082.2 1130.4 1084.1 1131.7 1086.0 1132.0 1087.9 1131.4 1089.8 1131.8 1091.8 1133.5 1093.7 1132.5 1095.6 1133.4 1097.5 1134.5 1099.5 1135.2 1101.4 1136.0 1103.3 1136.6 1105.2 1137.0 1107.2 1137.6 1109.1 1137.9 1111.0 1138.3 1112.9 1140.2 1114.9 1139.7 1116.8 1141.6 1118.7 1141.4 1120.7 1141.1 1122.6 1141.6 1124.5 1142.7 1126.5 1142.9 1128.4 1143.3 1130.3 1143.9 1132.3 1143.3 1134.2 1145.1 1136.1 1145.4 1138.1 1145.1 1140.0 1146.0 1142.0 1146.9 1143.9 1147.3 1145.8 1148.7 1147.8 1148.4 1149.7 1148.1 1151.7 1148.9 1153.6 1148.7 1155.6 1149.7 1157.5 1151.2 1159.4 1150.7 1161.4 1152.3 1163.3 1153.1 1165.3 1152.2 1167.2 1153.2 1169.2 1152.7 1171.1 1153.6 1173.1 1154.9 1175.0 1154.6 1177.0 1155.3 1178.9 1154.3 1180.9 1155.8 1182.8 1156.1 1184.8 1156.8 1186.7 1156.8 1188.7 1157.6 1190.6 1158.1 1192.6 1157.8 1194.6 1159.4 1196.5 1159.9 1198.5 1159.5 1200.4 1160.7 1202.4 1160.3 1204.3 1160.2 1206.3 1160.9 1208.3 1160.8 1210.2 1160.4 1212.2 1161.1 1214.1 1162.7 1216.1 1162.2 1218.1 1162.3 1220.0 1162.8 1222.0 1163.3 1223.9 1164.2 1225.9 1165.4 1227.9 1165.4 1229.8 1165.7 1231.8 1166.2 1233.8 1167.1 1235.7 1167.0 1237.7 1168.3 1239.7 1168.3 1241.6 1168.6 1243.6 1169.6 1245.6 1169.4 1247.5 1170.1 1249.5 1170.8 1251.5 1171.2 1253.4 1170.6 1255.4 1170.5 1257.4 1171.3 1259.4 1171.4 1261.3 1171.8 1263.3 1171.5 1265.3 1172.3 1267.2 1174.0 1269.2 1173.1 1271.2 1173.3 1273.2 1173.9 1275.1 1174.2 1277.1 1175.6 1279.1 1175.5 1281.1 1176.7 1283.0 1176.8 1285.0 1176.9 1287.0 1177.9 1289.0 1178.0 1290.9 1178.7 1292.9 1178.8 1294.9 1179.4 1296.9 1179.9 1298.8 1180.4 1300.8 1181.2 1302.8 1181.0 1304.8 1180.1 1306.7 1179.6 1308.7 1180.4 1310.7 1180.9 1312.7 1180.2 1314.7 1180.7 1316.6 1181.8 1318.6 1182.3 1320.6 1182.8 1322.6 1182.8 1324.6 1183.4 1326.5 1184.3 1328.5 1184.1 1330.5 1184.9 1332.5 1184.3 1334.5 1184.7 1336.4 1184.6 1338.4 1185.5 1340.4 1185.7 1342.4 1185.3 1344.4 1185.0 1346.4 1185.5 1348.3 1186.7 1350.3 1187.3 1352.3 1189.1 1354.3 1188.9 1356.3 1189.4 1358.3 1189.7 1360.2 1188.7 1362.2 1189.7 1364.2 1189.8 1366.2 1190.1 1368.2 1188.5 1370.2 1190.1 1372.1 1191.4 1374.1 1191.5 1376.1 1190.9 1378.1 1191.7 1380.1 1192.3 1382.1 1192.1 1384.1 1191.8 1386.0 1191.9 1388.0 1191.6 1390.0 1191.9 1392.0 1192.8 1394.0 1193.9 1396.0 1194.2 1397.9 1193.9 1399.9 1195.3 1401.9 1194.7 1403.9 1195.8 1405.9 1195.6 1407.9 1195.3 1409.9 1195.6 1411.8 1195.2 1413.8 1196.1 1415.8 1195.8 1417.8 1196.6 1419.8 1197.3 1421.8 1197.3 1423.8 1198.0 1425.7 1198.6 1427.7 1199.3 1429.7 1199.5 1431.7 1200.0 1433.7 1200.3 1435.7 1200.8 1437.7 1201.5 1439.7 1201.1 1441.6 1201.1 1443.6 1201.8 1445.6 1201.8 1447.6 1202.7 1449.6 1203.1 1451.6 1203.4 1453.6 1203.1 1455.5 1202.6 1457.5 1201.7 1459.5 1202.9 1461.5 1202.7 1463.5 1203.2 1465.5 1202.9 1467.5 1202.6 1469.5 1203.9 1471.4 1204.5 1473.4 1205.2 1475.4 1204.3 1477.4 1205.6 1479.4 1206.0 1481.4 1206.5 1483.4 1206.5 1485.4 1206.3 1487.3 1207.5 1489.3 1207.0 1491.3 1207.0 1493.3 1207.8 1495.3 1208.4 1497.3 1207.9 1499.3 1207.6 1501.3 1208.1 1503.2 1208.2 1505.2 1208.7 1507.2 1208.8 1509.2 1208.9 1511.2 1209.2 1513.2 1209.8 1515.2 1210.5 1517.2 1211.3 1519.2 1210.9 1521.1 1211.4 1523.1 1211.4 1525.1 1211.2 1527.1 1211.9 1529.1 1212.2 1531.1 1212.9 1533.1 1211.9 1535.1 1212.3 1537.1 1212.5 1539.0 1212.0 1541.0 1214.1 1543.0 1213.6 1545.0 1214.5 1547.0 1214.0 1549.0 1214.6 1551.0 1215.5 1553.0 1214.7 1555.0 1216.0 1556.9 1215.3 1558.9 1216.5 1560.9 1216.9 1562.9 1216.4 1564.9 1216.8 1566.9 1216.8 1568.9 1217.4 1570.9 1217.4 1572.9 1216.3 1574.9 1217.2 1576.8 1217.9 1578.8 1217.8 1580.8 1218.6 1582.8 1218.4 1584.8 1218.6 1586.8 1218.5 1588.8 1219.7 1590.8 1219.3 1592.8 1220.4 1594.8 1220.5 1596.8 1220.0 1598.7 1220.9 1600.7 1220.9 1602.7 1220.1 1604.7 1220.2 1606.7 1220.6 1608.7 1220.2 1610.7 1220.6 1612.7 1221.5 1614.7 1222.2 1616.7 1222.3 1618.7 1222.1 1620.6 1222.9 1622.6 1222.6 1624.6 1224.0 1626.6 1223.4 1628.6 1224.5 1630.6 1224.2 1632.6 1224.0 1634.6 1223.8 1636.6 1224.5 1638.6 1225.1 1640.6 1225.0 1642.6 1224.7 1644.5 1225.0 1646.5 1224.8 1648.5 1225.3 1650.5 1224.7 1652.5 1224.5 1654.5 1224.3 1656.5 1225.1 1658.5 1224.1 1660.5 1224.4 1662.5 1224.0 1664.5 1224.3 1666.5 1224.7 1668.4 1225.6 1670.4 1226.0 1672.4 1227.2 1674.4 1227.7 1676.4 1227.7 1678.4 1229.3 1680.4 1229.5 1682.4 1229.9 1684.4 1229.4 1686.4 1230.1 1688.4 1230.3 1690.4 1228.7 1692.4 1228.2 1694.4 1227.8 1696.3 1227.9 1698.3 1228.9 1700.3 1228.4 1702.3 1228.9 1704.3 1229.8 1706.3 1229.5 1708.3 1229.7 1710.3 1229.5 1712.3 1230.1 1714.3 1229.9 1716.3 1228.6 1718.3 1230.2 1720.3 1229.4 1722.3 1230.6 1724.3 1231.3 1726.2 1231.0 1728.2 1231.5 1730.2 1230.9 1732.2 1231.4 1734.2 1232.2 1736.2 1231.9 1738.2 1231.0 1740.2 1230.5 1742.2 1230.3 1744.2 1231.0 1746.2 1231.1 1748.2 1231.9 1750.2 1230.9 1752.2 1230.9 1754.2 1232.0 1756.2 1231.8 1758.2 1232.1 1760.1 1232.9 1762.1 1231.9 1764.1 1233.2 1766.1 1233.0 1768.1 1234.8 1770.1 1234.1 1772.1 1234.9 1774.1 1234.9 1776.1 1235.4 1778.1 1235.9 1780.1 1236.0 1782.1 1236.4 1784.1 1235.6 1786.1 1235.7 1788.1 1236.0 1790.1 1235.7 1792.1 1235.4 1794.1 1236.7 1796.1 1235.7 1798.0 1236.0 1800.0 1236.6 1802.0 1236.6 1804.0 1236.6 1806.0 1237.1 1808.0 1238.0 1810.0 1238.5 1812.0 1239.4 1814.0 1238.4 1816.0 1240.4 1818.0 1239.6 1820.0 1239.3 1822.0 1239.8 1824.0 1239.9 1826.0 1239.7 1828.0 1239.7 1830.0 1239.4 1832.0 1239.8 1834.0 1240.9 1836.0 1240.9 1838.0 1240.7 1840.0 1241.3 1842.0 1240.5 1844.0 1240.6 1845.9 1241.5 1847.9 1242.0 1849.9 1241.8 1851.9 1241.3 1853.9 1240.7 1855.9 1240.2 1857.9 1240.3 1859.9 1240.7 1861.9 1240.3 1863.9 1239.6 1865.9 1241.4 1867.9 1240.1 1869.9 1240.0 1871.9 1240.8 1873.9 1241.0 1875.9 1241.1 1877.9 1241.5 1879.9 1242.1 1881.9 1240.8 1883.9 1241.9 1885.9 1241.9 1887.9 1241.5 1889.9 1241.7 1891.9 1241.4 1893.9 1240.8 1895.9 1240.7 1897.9 1242.3 1899.9 1241.5 1901.9 1241.7 1903.9 1243.2 1905.9 1242.7 1907.8 1242.7 1909.8 1242.9 1911.8 1243.5 1913.8 1243.4 1915.8 1243.8 1917.8 1244.0 1919.8 1243.3 1921.8 1243.8 1923.8 1243.8 1925.8 1245.0 1927.8 1244.0 1929.8 1244.5 1931.8 1243.4 1933.8 1244.7 1935.8 1245.0 1937.8 1244.7 1939.8 1245.8 1941.8 1245.5 1943.8 1245.9 1945.8 1246.2 1947.8 1245.8 1949.8 1246.0 1951.8 1247.1 1953.8 1245.9 1955.8 1247.0 1957.8 1247.1 1959.8 1246.0 1961.8 1247.5 1963.8 1247.0 1965.8 1247.4 1967.8 1247.2 1969.8 1247.2 1971.8 1248.2 1973.8 1247.3 1975.8 1247.0 1977.8 1247.7 1979.8 1247.5 1981.8 1248.0 1983.8 1246.5 1985.8 1246.8 1987.8 1247.4 1989.8 1247.7 1991.8 1247.4 1993.8 1248.1 1995.8 1248.3 1997.8 1248.9 1999.8 1249.0 2001.8 1249.0 2003.8 1249.6 2005.8 1249.8 2007.8 1249.6 2009.8 1249.2 2011.8 1249.4 2013.8 1249.4 2015.8 1249.3 2017.8 1248.1 2019.8 1249.4 2021.8 1249.3 2023.8 1248.8 2025.8 1249.7 2027.7 1249.7 2029.7 1249.6 2031.7 1249.5 2033.7 1250.2 2035.7 1250.2 2037.7 1250.2 2039.7 1250.9 2041.7 1252.0 2043.7 1252.4 2045.7 1252.3 2047.7 1252.2 2049.7 1252.7 2051.7 1252.0 2053.7 1251.4 2055.7 1252.2 2057.7 1251.3 2059.7 1252.0 2061.7 1252.8 2063.7 1252.7 2065.7 1252.5 2067.7 1253.1 2069.7 1252.9 2071.7 1253.3 2073.7 1253.5 2075.7 1252.7 2077.7 1252.9 2079.7 1253.1 2081.7 1253.9 2083.7 1253.0 2085.7 1252.1 2087.7 1253.1 2089.7 1253.0 2091.7 1252.9 2093.7 1253.1 2095.7 1251.7 2097.7 1253.0 2099.7 1252.5 2101.7 1252.8 2103.7 1252.4 2105.7 1252.6 2107.7 1252.7 2109.7 1253.0 2111.7 1253.4 2113.7 1253.3 2115.7 1253.7 2117.7 1253.5 2119.7 1254.3 2121.8 1253.9 2123.8 1254.0 2125.8 1254.1 2127.8 1253.9 2129.8 1255.0 2131.8 1254.8 2133.8 1255.2 2135.8 1255.4 2137.8 1255.3 2139.8 1255.2 2141.8 1254.2 2143.8 1254.9 2145.8 1254.9 2147.8 1254.8 2149.8 1255.2 2151.8 1254.4 2153.8 1256.1 2155.8 1255.6 2157.8 1255.6 2159.8 1254.7 2161.8 1255.1 2163.8 1255.2 2165.8 1254.5 2167.8 1254.6 2169.8 1255.5 2171.8 1255.6 2173.8 1256.4 2175.8 1256.2 2177.8 1257.3 2179.8 1257.8 2181.8 1258.1 2183.8 1258.1 2185.8 1256.4 2187.8 1256.1 2189.8 1255.9 2191.8 1256.4 2193.8 1255.7 2195.8 1255.0 2197.8 1255.9 2199.8 1255.5 2201.8 1256.2 2203.8 1256.4 2205.8 1256.8 2207.8 1256.1 2209.8 1257.6 2211.8 1257.4 2213.8 1258.0 2215.8 1257.3 2217.8 1257.4 2219.8 1256.2 2221.8 1256.9 2223.8 1256.5 2225.8 1257.6 2227.8 1257.2 2229.8 1258.3 2231.8 1258.1 2233.8 1258.5 2235.8 1259.2 2237.8 1259.6 2239.8 1259.3 2241.8 1259.7 2243.8 1259.2 2245.8 1259.2 2247.8 1259.2 2249.8 1259.0 2251.8 1258.6 2253.8 1257.4 2255.8 1257.6 2257.8 1257.6 2259.9 1256.4 2261.9 1255.9 2263.9 1256.2 2265.9 1257.0 2267.9 1256.9 2269.9 1257.7 2271.9 1258.2 2273.9 1258.6 2275.9 1259.5 2277.9 1259.2 2279.9 1259.1 2281.9 1259.5 2283.9 1258.7 2285.9 1259.1 2287.9 1259.7 2289.9 1259.3 2291.9 1259.2 2293.9 1259.6 2295.9 1260.0 2297.9 1259.2 2299.9 1259.1 2301.9 1258.8 2303.9 1258.6 2305.9 1258.3 2307.9 1259.7 2309.9 1259.3 2311.9 1258.8 2313.9 1258.7 2315.9 1258.7 2317.9 1258.6 2319.9 1259.3 2321.9 1258.3 2323.9 1258.0 2325.9 1258.5 2327.9 1258.7 2329.9 1259.3 2331.9 1259.2 2333.9 1259.6 2335.9 1259.1 2338.0 1258.9 2340.0 1259.4 2342.0 1259.4 2344.0 1260.0 2346.0 1259.4 2348.0 1260.1 2350.0 1261.1 2352.0 1260.6 2354.0 1261.5 2356.0 1262.3 2358.0 1262.3 2360.0 1262.4 2362.0 1262.2 2364.0 1261.8 2366.0 1260.8 2368.0 1261.7 2370.0 1260.1" fill="none" stroke="#800000" stroke-width="14.0" stroke-linejoin="round" stroke-linecap="butt"/>
</g>
<g font-family='"Liberation Sans", Arial, sans-serif' font-size="64" fill="#000">
<text x="278.0" y="107.7" text-anchor="end" letter-spacing="-1.0" class="one">310</text>
<text x="139.0" y="103.7">−</text>
<text x="278.0" y="190.7" text-anchor="end" letter-spacing="-1.0">320</text>
<text x="139.0" y="186.7">−</text>
<text x="278.0" y="273.8" text-anchor="end" letter-spacing="-1.0">330</text>
<text x="139.0" y="269.8">−</text>
<text x="278.0" y="356.8" text-anchor="end" letter-spacing="-1.0">340</text>
<text x="139.0" y="352.8">−</text>
<text x="278.0" y="439.8" text-anchor="end" letter-spacing="-1.0">350</text>
<text x="139.0" y="435.8">−</text>
<text x="278.0" y="522.9" text-anchor="end" letter-spacing="-1.0">360</text>
<text x="139.0" y="518.9">−</text>
<text x="278.0" y="605.9" text-anchor="end" letter-spacing="-1.0">370</text>
<text x="139.0" y="601.9">−</text>
<text x="278.0" y="688.9" text-anchor="end" letter-spacing="-1.0">380</text>
<text x="139.0" y="684.9">−</text>
<text x="278.0" y="772.0" text-anchor="end" letter-spacing="-1.0">390</text>
<text x="139.0" y="768.0">−</text>
<text x="278.0" y="855.0" text-anchor="end" letter-spacing="-1.0">400</text>
<text x="139.0" y="851.0">−</text>
<text x="278.0" y="938.0" text-anchor="end" letter-spacing="-1.0" class="one">410</text>
<text x="139.0" y="934.0">−</text>
<text x="278.0" y="1021.1" text-anchor="end" letter-spacing="-1.0">420</text>
<text x="139.0" y="1017.1">−</text>
<text x="278.0" y="1104.1" text-anchor="end" letter-spacing="-1.0">430</text>
<text x="139.0" y="1100.1">−</text>
<text x="278.0" y="1187.1" text-anchor="end" letter-spacing="-1.0">440</text>
<text x="139.0" y="1183.1">−</text>
<text x="278.0" y="1270.1" text-anchor="end" letter-spacing="-1.0">450</text>
<text x="139.0" y="1266.1">−</text>
<text x="278.0" y="1353.2" text-anchor="end" letter-spacing="-1.0">460</text>
<text x="139.0" y="1349.2">−</text>
<text x="278.0" y="1436.2" text-anchor="end" letter-spacing="-1.0">470</text>
<text x="139.0" y="1432.2">−</text>
<text x="278.0" y="1519.2" text-anchor="end" letter-spacing="-1.0">480</text>
<text x="139.0" y="1515.2">−</text>
<text x="278.0" y="1602.3" text-anchor="end" letter-spacing="-1.0">490</text>
<text x="139.0" y="1598.3">−</text>
<text x="278.0" y="1685.3" text-anchor="end" letter-spacing="-1.0">500</text>
<text x="139.0" y="1681.3">−</text>
<text x="330.0" y="1809.0" text-anchor="middle" letter-spacing="-1.5">0</text>
<text x="556.5" y="1809.0" text-anchor="middle" letter-spacing="-1.5">200</text>
<text x="783.0" y="1809.0" text-anchor="middle" letter-spacing="-1.5">400</text>
<text x="1009.5" y="1809.0" text-anchor="middle" letter-spacing="-1.5">600</text>
<text x="1236.0" y="1809.0" text-anchor="middle" letter-spacing="-1.5">800</text>
<text x="1462.5" y="1809.0" text-anchor="middle" letter-spacing="-1.5" class="one">1000</text>
<text x="1689.0" y="1809.0" text-anchor="middle" letter-spacing="-1.5" class="one">1200</text>
<text x="1915.5" y="1809.0" text-anchor="middle" letter-spacing="-1.5" class="one">1400</text>
<text x="2142.0" y="1809.0" text-anchor="middle" letter-spacing="-1.5" class="one">1600</text>
<text x="2368.5" y="1809.0" text-anchor="middle" letter-spacing="-1.5" class="one">1800</text>
</g>
<g font-family='"Liberation Sans", Arial, sans-serif' font-size="76" fill="#000">
<text x="1367.5" y="1940.4" text-anchor="middle" letter-spacing="0.5">Time [sec.]</text>
<text transform="translate(96.5,878.5) rotate(-90)" text-anchor="middle">Potential [mV]</text>
<text x="740.5" y="626.5">d</text>
<text x="743.4" y="740.5">f</text>
<text x="736.1" y="845.0">e</text>
<text x="734.2" y="952.0">g</text>
<text x="619.9" y="1002.0">b</text>
<text x="616.0" y="1186.5">a</text>
<text x="736.1" y="1169.0">c</text>
<text x="606.2" y="1406.0">OL</text>
</g>
<rect x="1961.2" y="164.1" width="370.5" height="762.2" fill="none" stroke="#1a1a1a" stroke-width="2.6"/>
<g font-family='"Liberation Sans", Arial, sans-serif' font-size="76" fill="#000">
<path d="M2012 226.5 L2181 226.5" stroke="#000000" stroke-width="11.5" stroke-linecap="round"/>
<text x="2201.5" y="252.0">OL</text>
<path d="M2012 320.2 L2181 320.2" stroke="#ff0000" stroke-width="11.5" stroke-linecap="round"/>
<text x="2201.5" y="345.7">a</text>
<path d="M2012 413.8 L2181 413.8" stroke="#0000ff" stroke-width="11.5" stroke-linecap="round"/>
<text x="2201.5" y="439.3">b</text>
<path d="M2012 507.5 L2181 507.5" stroke="#008080" stroke-width="11.5" stroke-linecap="round"/>
<text x="2201.5" y="533.0">c</text>
<path d="M2012 601.2 L2181 601.2" stroke="#ff00ff" stroke-width="11.5" stroke-linecap="round"/>
<text x="2201.5" y="626.7">d</text>
<path d="M2012 694.9 L2181 694.9" stroke="#808000" stroke-width="11.5" stroke-linecap="round"/>
<text x="2201.5" y="720.4">e</text>
<path d="M2012 788.5 L2181 788.5" stroke="#000080" stroke-width="11.5" stroke-linecap="round"/>
<text x="2201.5" y="814.0">f</text>
<path d="M2012 882.2 L2181 882.2" stroke="#800000" stroke-width="11.5" stroke-linecap="round"/>
<text x="2201.5" y="907.7">g</text>
</g>
<g><rect x="212.41" y="102.30" width="12.20" height="6.20" fill="#fff"/><rect x="231.01" y="102.30" width="11.40" height="6.20" fill="#fff"/><rect x="212.41" y="932.60" width="12.20" height="6.20" fill="#fff"/><rect x="231.01" y="932.60" width="11.40" height="6.20" fill="#fff"/><rect x="1397.91" y="1803.60" width="12.20" height="6.20" fill="#fff"/><rect x="1416.51" y="1803.60" width="11.40" height="6.20" fill="#fff"/><rect x="1624.41" y="1803.60" width="12.20" height="6.20" fill="#fff"/><rect x="1643.01" y="1803.60" width="11.40" height="6.20" fill="#fff"/><rect x="1850.91" y="1803.60" width="12.20" height="6.20" fill="#fff"/><rect x="1869.51" y="1803.60" width="11.40" height="6.20" fill="#fff"/><rect x="2077.41" y="1803.60" width="12.20" height="6.20" fill="#fff"/><rect x="2096.01" y="1803.60" width="11.40" height="6.20" fill="#fff"/><rect x="2303.91" y="1803.60" width="12.20" height="6.20" fill="#fff"/><rect x="2322.51" y="1803.60" width="11.40" height="6.20" fill="#fff"/></g></svg>
</body></html>
